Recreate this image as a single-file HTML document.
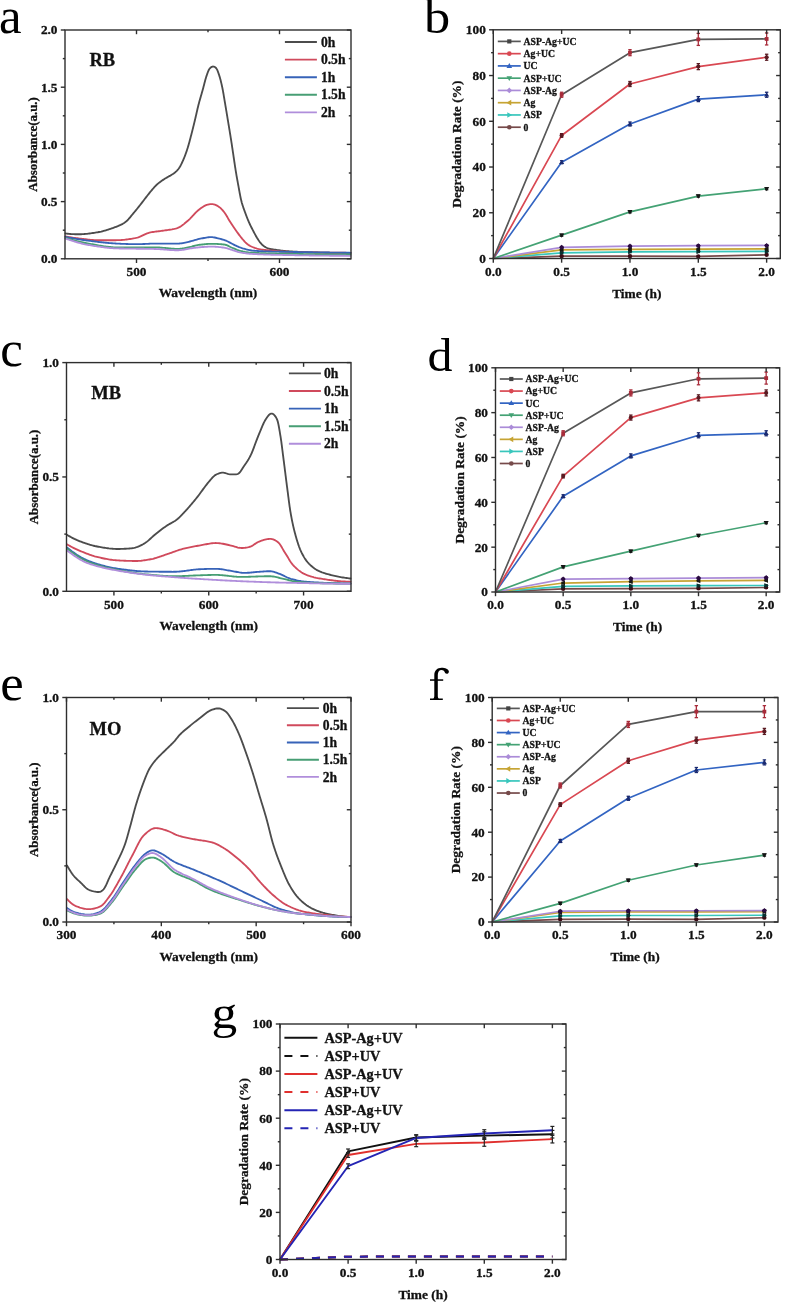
<!DOCTYPE html>
<html><head><meta charset="utf-8"><title>Figure</title>
<style>html,body{margin:0;padding:0;background:#fff;width:787px;height:1308px;overflow:hidden}
svg{display:block;font-family:"Liberation Serif",serif;filter:blur(0.35px)}</style></head>
<body><svg width="787" height="1308" viewBox="0 0 787 1308" font-family='"Liberation Serif", serif'><rect x="0" y="0" width="787" height="1308" fill="#fff"/>
<text x="0" y="0" font-size="48" fill="#000" transform="translate(-1 32.6) scale(1.06 1.05)">a</text>
<text x="0" y="0" font-size="48" fill="#000" transform="translate(424 33) scale(1.09 1)">b</text>
<text x="0" y="0" font-size="48" fill="#000" transform="translate(0.3 365.6) scale(1.06 1.05)">c</text>
<text x="0" y="0" font-size="48" fill="#000" transform="translate(427.5 370.5) scale(1.04 0.98)">d</text>
<text x="0" y="0" font-size="48" fill="#000" transform="translate(0.2 700.2) scale(1.1 1.05)">e</text>
<path fill="#000" d="M434.3 699.2L434.3 675C434.3 670.5 437.5 667.7 441.5 667.7C445 667.7 448.9 669.1 448.9 671.5C448.9 673 447.8 673.8 446.8 673.8C445.6 673.8 444.9 673 444.7 672.1C444.1 670.6 443 669.9 441.6 669.9C439.2 669.9 437.8 671.8 437.8 675L437.8 699.2Z"/>
<rect x="430" y="679.3" width="13.2" height="1.5" fill="#000"/>
<path fill="#000" d="M430 698.4L433.2 698.4C433.8 698.4 434.3 697.6 434.3 696.8L437.8 696.8C437.8 697.6 438.3 698.4 438.9 698.4L442.8 698.4L442.8 699.9L430 699.9Z"/>
<text x="0" y="0" font-size="48" fill="#000" transform="translate(211.5 1028.2) scale(1.07 0.98)">g</text>
<g>
<path d="M65.5 233.5L66.69 233.64 67.89 233.76 69.08 233.88 70.28 233.98 71.48 234.06 72.68 234.13 73.88 234.19 75.08 234.23 76.28 234.26 77.48 234.28 78.68 234.29 79.88 234.28 81.08 234.25 82.28 234.2 83.48 234.13 84.68 234.04 85.87 233.93 87.07 233.81 88.26 233.67 89.45 233.52 90.64 233.36 91.83 233.19 93.02 233.01 94.21 232.82 95.39 232.64 96.58 232.44 97.76 232.25 98.95 232.03 100.12 231.8 101.3 231.55 102.47 231.27 103.63 230.96 104.78 230.64 105.94 230.3 107.08 229.95 108.23 229.58 109.37 229.2 110.5 228.81 111.64 228.42 112.77 228.02 113.9 227.62 115.03 227.21 116.16 226.79 117.28 226.35 118.39 225.9 119.49 225.42 120.58 224.92 121.66 224.39 122.71 223.82 123.75 223.21 124.75 222.56 125.71 221.85 126.63 221.07 127.49 220.24 128.32 219.38 129.12 218.48 129.9 217.57 130.67 216.64 131.43 215.71 132.18 214.78 132.94 213.85 133.7 212.92 134.47 212 135.24 211.07 136.01 210.15 136.77 209.22 137.52 208.28 138.27 207.34 139.01 206.4 139.75 205.46 140.5 204.51 141.24 203.57 141.98 202.62 142.72 201.67 143.45 200.72 144.18 199.77 144.91 198.81 145.63 197.86 146.36 196.9 147.09 195.95 147.83 195 148.58 194.06 149.33 193.12 150.09 192.2 150.86 191.27 151.63 190.35 152.41 189.43 153.19 188.52 153.98 187.61 154.78 186.72 155.61 185.85 156.46 185 157.33 184.18 158.24 183.4 159.17 182.65 160.13 181.92 161.1 181.22 162.09 180.53 163.09 179.87 164.1 179.21 165.11 178.57 166.14 177.95 167.18 177.35 168.23 176.76 169.28 176.18 170.32 175.59 171.35 174.97 172.37 174.33 173.36 173.65 174.32 172.94 175.27 172.2 176.17 171.41 177.04 170.58 177.85 169.71 178.6 168.77 179.28 167.79 179.91 166.77 180.49 165.72 181.05 164.65 181.58 163.58 182.1 162.49 182.6 161.41 183.1 160.31 183.58 159.21 184.04 158.1 184.49 156.99 184.92 155.87 185.34 154.74 185.75 153.61 186.15 152.48 186.55 151.35 186.93 150.21 187.3 149.07 187.67 147.92 188.02 146.77 188.36 145.62 188.69 144.47 189.02 143.31 189.34 142.15 189.65 140.99 189.96 139.83 190.26 138.67 190.57 137.51 190.87 136.35 191.18 135.18 191.48 134.02 191.78 132.86 192.08 131.7 192.37 130.53 192.66 129.37 192.95 128.2 193.24 127.03 193.53 125.87 193.81 124.7 194.1 123.53 194.38 122.37 194.66 121.2 194.94 120.03 195.22 118.86 195.49 117.69 195.76 116.52 196.03 115.35 196.3 114.18 196.56 113.01 196.83 111.84 197.1 110.67 197.37 109.5 197.64 108.33 197.92 107.16 198.21 105.99 198.5 104.83 198.8 103.66 199.11 102.5 199.43 101.34 199.75 100.19 200.08 99.03 200.41 97.88 200.74 96.72 201.07 95.57 201.41 94.42 201.74 93.26 202.07 92.11 202.4 90.95 202.72 89.79 203.04 88.63 203.35 87.47 203.65 86.31 203.95 85.15 204.25 83.98 204.55 82.82 204.85 81.66 205.16 80.5 205.49 79.34 205.82 78.19 206.17 77.04 206.54 75.9 206.93 74.76 207.32 73.62 207.72 72.49 208.15 71.37 208.63 70.28 209.21 69.24 209.91 68.3 210.75 67.49 211.71 66.86 212.76 66.53 213.83 66.58 214.84 67 215.73 67.71 216.48 68.61 217.08 69.63 217.57 70.71 218 71.83 218.41 72.96 218.79 74.1 219.17 75.24 219.53 76.38 219.88 77.53 220.2 78.69 220.51 79.85 220.81 81.01 221.09 82.18 221.37 83.35 221.64 84.52 221.9 85.69 222.15 86.87 222.4 88.04 222.64 89.22 222.86 90.4 223.08 91.58 223.28 92.76 223.49 93.95 223.69 95.13 223.88 96.32 224.08 97.5 224.28 98.69 224.48 99.87 224.68 101.06 224.88 102.24 225.08 103.42 225.28 104.61 225.48 105.79 225.68 106.98 225.88 108.16 226.07 109.35 226.27 110.53 226.47 111.72 226.66 112.9 226.86 114.09 227.05 115.27 227.25 116.46 227.44 117.64 227.64 118.83 227.84 120.01 228.03 121.2 228.23 122.38 228.42 123.57 228.62 124.75 228.82 125.94 229.01 127.12 229.21 128.31 229.41 129.49 229.6 130.68 229.79 131.87 229.99 133.05 230.18 134.24 230.37 135.42 230.56 136.61 230.75 137.79 230.94 138.98 231.12 140.17 231.31 141.35 231.49 142.54 231.67 143.73 231.85 144.92 232.03 146.1 232.21 147.29 232.38 148.48 232.56 149.67 232.74 150.86 232.91 152.05 233.09 153.23 233.27 154.42 233.45 155.61 233.62 156.8 233.8 157.99 233.97 159.17 234.15 160.36 234.32 161.55 234.5 162.74 234.67 163.93 234.85 165.12 235.03 166.3 235.21 167.49 235.4 168.68 235.58 169.86 235.78 171.05 235.97 172.24 236.17 173.42 236.37 174.6 236.57 175.79 236.78 176.97 236.99 178.15 237.2 179.34 237.41 180.52 237.63 181.7 237.84 182.88 238.06 184.06 238.28 185.25 238.5 186.43 238.71 187.61 238.93 188.79 239.14 189.97 239.36 191.15 239.57 192.34 239.79 193.52 240.01 194.7 240.24 195.88 240.47 197.05 240.72 198.23 240.98 199.4 241.26 200.57 241.56 201.73 241.87 202.89 242.21 204.05 242.56 205.19 242.93 206.34 243.32 207.47 243.71 208.61 244.12 209.74 244.53 210.87 244.94 211.99 245.36 213.12 245.77 214.25 246.19 215.38 246.61 216.5 247.05 217.62 247.49 218.74 247.94 219.85 248.4 220.96 248.88 222.06 249.37 223.16 249.87 224.25 250.38 225.33 250.91 226.41 251.45 227.49 252 228.55 252.55 229.62 253.11 230.68 253.67 231.75 254.23 232.81 254.79 233.88 255.35 234.94 255.92 235.99 256.52 237.04 257.13 238.07 257.77 239.08 258.43 240.09 259.11 241.08 259.81 242.05 260.56 242.98 261.36 243.88 262.22 244.71 263.12 245.49 264.07 246.22 265.06 246.9 266.09 247.51 267.16 248.02 268.28 248.44 269.43 248.76 270.61 249.01 271.79 249.22 272.97 249.41 274.16 249.58 275.35 249.75 276.54 249.92 277.73 250.08 278.92 250.24 280.11 250.4 281.3 250.55 282.5 250.69 283.69 250.83 284.88 250.96 286.08 251.08 287.28 251.19 288.47 251.28 289.67 251.37 290.87 251.45 292.07 251.52 293.27 251.59 294.47 251.66 295.67 251.73 296.87 251.79 298.06 251.85 299.26 251.91 300.46 251.96 301.66 252.02 302.86 252.07 304.06 252.12 305.26 252.17 306.47 252.21 307.67 252.26 308.87 252.3 310.07 252.34 311.27 252.38 312.47 252.41 313.67 252.45 314.87 252.48 316.07 252.51 317.27 252.54 318.47 252.57 319.67 252.59 320.87 252.62 322.07 252.64 323.28 252.66 324.48 252.69 325.68 252.71 326.88 252.73 328.08 252.76 329.28 252.78 330.48 252.8 331.68 252.82 332.88 252.84 334.08 252.86 335.29 252.88 336.49 252.89 337.69 252.91 338.89 252.92 340.09 252.94 341.29 252.95 342.49 252.96 343.69 252.97 344.89 252.98 346.1 252.99 347.3 252.99 348.5 253 349.7 253 350.5 253" fill="none" stroke="#4c4c4c" stroke-width="1.85" stroke-linejoin="round" stroke-linecap="round"/>
<path d="M65.5 236.5L66.69 236.7 67.87 236.9 69.06 237.09 70.24 237.28 71.43 237.46 72.62 237.64 73.81 237.81 75 237.98 76.19 238.14 77.38 238.29 78.58 238.44 79.77 238.58 80.96 238.72 82.16 238.86 83.35 239.01 84.54 239.15 85.74 239.29 86.93 239.43 88.12 239.56 89.32 239.68 90.52 239.8 91.71 239.9 92.91 239.99 94.11 240.07 95.31 240.13 96.51 240.16 97.71 240.19 98.91 240.2 100.12 240.2 101.32 240.2 102.52 240.2 103.72 240.2 104.92 240.2 106.12 240.2 107.33 240.2 108.53 240.2 109.73 240.2 110.93 240.2 112.13 240.2 113.34 240.2 114.54 240.2 115.74 240.2 116.94 240.19 118.14 240.18 119.34 240.14 120.54 240.09 121.74 240.01 122.94 239.91 124.14 239.8 125.33 239.66 126.52 239.51 127.71 239.35 128.9 239.17 130.09 238.99 131.27 238.79 132.46 238.59 133.64 238.37 134.82 238.15 136 237.9 137.16 237.62 138.31 237.27 139.44 236.86 140.55 236.4 141.64 235.91 142.73 235.4 143.81 234.89 144.9 234.38 146 233.89 147.11 233.44 148.24 233.04 149.39 232.7 150.56 232.42 151.74 232.19 152.92 231.99 154.11 231.81 155.3 231.65 156.49 231.5 157.69 231.36 158.88 231.22 160.07 231.08 161.27 230.93 162.46 230.78 163.65 230.62 164.84 230.45 166.03 230.27 167.22 230.09 168.4 229.91 169.59 229.73 170.78 229.54 171.96 229.34 173.14 229.11 174.32 228.87 175.49 228.59 176.64 228.27 177.78 227.89 178.88 227.43 179.94 226.88 180.96 226.25 181.95 225.57 182.91 224.85 183.85 224.1 184.77 223.33 185.69 222.55 186.6 221.77 187.51 220.99 188.42 220.2 189.3 219.38 190.16 218.54 191 217.68 191.82 216.81 192.63 215.92 193.44 215.03 194.25 214.15 195.07 213.27 195.91 212.41 196.77 211.57 197.66 210.77 198.59 210 199.54 209.27 200.5 208.55 201.47 207.84 202.45 207.15 203.46 206.49 204.49 205.89 205.56 205.36 206.67 204.92 207.82 204.6 208.99 204.36 210.18 204.2 211.37 204.11 212.56 204.13 213.73 204.3 214.87 204.63 215.97 205.08 217.04 205.63 218.07 206.23 219.07 206.9 220.01 207.63 220.9 208.43 221.74 209.29 222.54 210.18 223.31 211.1 224.06 212.04 224.78 213.01 225.46 213.99 226.1 215.01 226.72 216.04 227.32 217.08 227.92 218.12 228.53 219.16 229.15 220.19 229.78 221.21 230.43 222.22 231.08 223.23 231.74 224.24 232.4 225.24 233.07 226.24 233.74 227.23 234.42 228.23 235.1 229.21 235.79 230.2 236.49 231.18 237.18 232.16 237.88 233.14 238.59 234.11 239.3 235.08 240.02 236.04 240.76 236.99 241.51 237.92 242.27 238.85 243.06 239.76 243.85 240.66 244.66 241.55 245.49 242.42 246.35 243.25 247.26 244.03 248.22 244.74 249.23 245.39 250.27 245.98 251.35 246.52 252.44 247.01 253.56 247.45 254.69 247.85 255.83 248.22 256.99 248.56 258.15 248.86 259.32 249.13 260.5 249.35 261.68 249.55 262.87 249.71 264.07 249.86 265.26 249.99 266.46 250.11 267.65 250.23 268.85 250.34 270.05 250.45 271.24 250.56 272.44 250.67 273.64 250.78 274.83 250.89 276.03 250.99 277.23 251.1 278.42 251.2 279.62 251.3 280.82 251.39 282.02 251.48 283.22 251.56 284.42 251.64 285.62 251.71 286.82 251.77 288.02 251.82 289.22 251.87 290.42 251.91 291.62 251.94 292.82 251.98 294.02 252.01 295.22 252.04 296.43 252.07 297.63 252.1 298.83 252.13 300.03 252.16 301.23 252.19 302.43 252.22 303.63 252.24 304.84 252.27 306.04 252.3 307.24 252.32 308.44 252.35 309.64 252.37 310.84 252.39 312.05 252.42 313.25 252.44 314.45 252.46 315.65 252.48 316.85 252.5 318.05 252.52 319.25 252.54 320.46 252.56 321.66 252.58 322.86 252.6 324.06 252.61 325.26 252.63 326.46 252.65 327.67 252.66 328.87 252.67 330.07 252.69 331.27 252.7 332.47 252.71 333.68 252.72 334.88 252.73 336.08 252.74 337.28 252.75 338.48 252.76 339.68 252.77 340.89 252.77 342.09 252.78 343.29 252.79 344.49 252.79 345.69 252.79 346.89 252.8 348.1 252.8 349.3 252.8 350.5 252.8" fill="none" stroke="#d04a5c" stroke-width="1.85" stroke-linejoin="round" stroke-linecap="round"/>
<path d="M65.5 236.9L66.68 237.13 67.86 237.35 69.05 237.57 70.23 237.79 71.41 238.01 72.6 238.22 73.78 238.43 74.97 238.63 76.15 238.84 77.34 239.04 78.53 239.23 79.71 239.42 80.9 239.61 82.09 239.79 83.28 239.97 84.47 240.14 85.66 240.31 86.86 240.47 88.05 240.63 89.24 240.78 90.43 240.93 91.63 241.08 92.82 241.23 94.02 241.38 95.21 241.53 96.4 241.68 97.6 241.82 98.79 241.97 99.99 242.11 101.18 242.24 102.38 242.38 103.57 242.51 104.77 242.63 105.97 242.75 107.17 242.87 108.36 242.98 109.56 243.08 110.76 243.18 111.96 243.27 113.16 243.36 114.36 243.44 115.56 243.51 116.76 243.57 117.96 243.63 119.17 243.69 120.37 243.75 121.57 243.8 122.77 243.85 123.97 243.9 125.18 243.95 126.38 244 127.58 244.04 128.78 244.08 129.98 244.11 131.19 244.14 132.39 244.16 133.59 244.18 134.8 244.19 136 244.19 137.2 244.19 138.4 244.17 139.61 244.14 140.81 244.11 142.01 244.06 143.21 244.01 144.42 243.96 145.62 243.91 146.82 243.85 148.02 243.8 149.22 243.75 150.43 243.7 151.63 243.66 152.83 243.64 154.03 243.62 155.24 243.61 156.44 243.6 157.64 243.6 158.85 243.6 160.05 243.6 161.25 243.6 162.45 243.6 163.66 243.6 164.86 243.6 166.06 243.6 167.27 243.6 168.47 243.6 169.67 243.6 170.88 243.6 172.08 243.6 173.28 243.6 174.49 243.6 175.69 243.6 176.89 243.59 178.09 243.58 179.29 243.52 180.49 243.43 181.68 243.28 182.87 243.09 184.05 242.86 185.23 242.61 186.4 242.34 187.57 242.06 188.74 241.79 189.91 241.51 191.08 241.22 192.24 240.91 193.4 240.58 194.55 240.23 195.7 239.88 196.85 239.55 198.02 239.23 199.18 238.94 200.36 238.69 201.54 238.45 202.72 238.22 203.9 238 205.08 237.79 206.27 237.59 207.46 237.43 208.66 237.29 209.85 237.2 211.05 237.16 212.25 237.19 213.44 237.31 214.63 237.5 215.8 237.75 216.97 238.05 218.13 238.36 219.29 238.67 220.45 238.98 221.62 239.27 222.78 239.58 223.94 239.91 225.08 240.29 226.19 240.73 227.28 241.24 228.35 241.78 229.42 242.34 230.48 242.91 231.54 243.47 232.61 244.02 233.68 244.56 234.76 245.11 235.84 245.63 236.93 246.14 238.03 246.62 239.15 247.08 240.27 247.51 241.4 247.93 242.53 248.31 243.69 248.66 244.84 248.98 246.01 249.28 247.18 249.56 248.35 249.82 249.53 250.06 250.71 250.28 251.9 250.47 253.09 250.62 254.29 250.75 255.49 250.86 256.69 250.95 257.89 251.03 259.09 251.11 260.29 251.17 261.49 251.23 262.69 251.28 263.89 251.33 265.1 251.37 266.3 251.4 267.5 251.44 268.7 251.47 269.91 251.51 271.11 251.54 272.31 251.57 273.51 251.59 274.72 251.62 275.92 251.64 277.12 251.67 278.33 251.69 279.53 251.71 280.73 251.74 281.93 251.76 283.14 251.78 284.34 251.8 285.54 251.82 286.75 251.84 287.95 251.86 289.15 251.88 290.35 251.91 291.56 251.93 292.76 251.95 293.96 251.97 295.17 251.99 296.37 252.02 297.57 252.04 298.77 252.06 299.98 252.08 301.18 252.1 302.38 252.12 303.59 252.14 304.79 252.16 305.99 252.18 307.19 252.2 308.4 252.22 309.6 252.24 310.8 252.26 312.01 252.28 313.21 252.3 314.41 252.32 315.61 252.34 316.82 252.36 318.02 252.38 319.22 252.4 320.43 252.42 321.63 252.44 322.83 252.45 324.04 252.47 325.24 252.49 326.44 252.51 327.64 252.52 328.85 252.54 330.05 252.56 331.25 252.57 332.46 252.59 333.66 252.61 334.86 252.62 336.06 252.64 337.27 252.65 338.47 252.67 339.67 252.68 340.88 252.7 342.08 252.71 343.28 252.72 344.49 252.74 345.69 252.75 346.89 252.76 348.09 252.78 349.3 252.79 350.5 252.8" fill="none" stroke="#3763b8" stroke-width="1.85" stroke-linejoin="round" stroke-linecap="round"/>
<path d="M65.5 237.9L66.65 238.24 67.81 238.58 68.96 238.91 70.12 239.24 71.27 239.56 72.43 239.88 73.59 240.2 74.75 240.51 75.92 240.81 77.08 241.11 78.25 241.4 79.42 241.68 80.59 241.95 81.76 242.22 82.93 242.48 84.11 242.73 85.28 242.97 86.46 243.2 87.64 243.42 88.83 243.64 90.01 243.85 91.19 244.06 92.37 244.28 93.56 244.49 94.74 244.71 95.92 244.93 97.1 245.14 98.29 245.35 99.47 245.55 100.66 245.76 101.84 245.95 103.03 246.14 104.22 246.32 105.41 246.48 106.6 246.64 107.79 246.79 108.99 246.92 110.18 247.04 111.38 247.14 112.58 247.23 113.78 247.3 114.98 247.35 116.18 247.38 117.38 247.39 118.58 247.4 119.78 247.4 120.99 247.4 122.19 247.4 123.39 247.4 124.59 247.4 125.79 247.4 127 247.4 128.2 247.4 129.4 247.4 130.6 247.4 131.8 247.4 133 247.4 134.21 247.4 135.41 247.4 136.61 247.4 137.81 247.4 139.01 247.4 140.22 247.4 141.42 247.4 142.62 247.4 143.82 247.4 145.02 247.4 146.22 247.4 147.43 247.4 148.63 247.4 149.83 247.4 151.03 247.4 152.23 247.4 153.44 247.4 154.64 247.4 155.84 247.42 157.04 247.44 158.24 247.48 159.44 247.54 160.64 247.62 161.84 247.71 163.04 247.8 164.23 247.91 165.43 248.02 166.63 248.14 167.82 248.25 169.02 248.37 170.22 248.47 171.41 248.58 172.61 248.67 173.81 248.74 175.01 248.81 176.21 248.85 177.41 248.87 178.61 248.85 179.81 248.79 181.01 248.67 182.19 248.51 183.38 248.3 184.56 248.07 185.73 247.82 186.91 247.56 188.08 247.31 189.25 247.05 190.43 246.8 191.6 246.55 192.77 246.27 193.94 245.99 195.11 245.71 196.28 245.44 197.46 245.19 198.64 244.96 199.82 244.78 201.01 244.61 202.21 244.47 203.4 244.34 204.6 244.22 205.79 244.1 206.99 244.01 208.19 243.93 209.39 243.87 210.59 243.83 211.79 243.82 212.99 243.82 214.19 243.84 215.39 243.88 216.6 243.93 217.8 243.99 219 244.06 220.19 244.15 221.39 244.24 222.59 244.36 223.78 244.49 224.96 244.69 226.11 244.99 227.23 245.4 228.31 245.91 229.38 246.46 230.45 247.01 231.53 247.52 232.63 248 233.74 248.47 234.85 248.93 235.97 249.37 237.09 249.8 238.22 250.19 239.37 250.55 240.52 250.88 241.69 251.16 242.86 251.43 244.04 251.67 245.22 251.9 246.4 252.1 247.59 252.28 248.78 252.43 249.98 252.55 251.18 252.64 252.37 252.72 253.57 252.79 254.77 252.85 255.98 252.92 257.18 252.97 258.38 253.02 259.58 253.07 260.78 253.12 261.98 253.16 263.18 253.2 264.38 253.24 265.58 253.28 266.78 253.31 267.99 253.34 269.19 253.37 270.39 253.4 271.59 253.43 272.79 253.45 273.99 253.48 275.19 253.5 276.4 253.53 277.6 253.55 278.8 253.58 280 253.6 281.2 253.63 282.4 253.65 283.61 253.68 284.81 253.7 286.01 253.73 287.21 253.75 288.41 253.77 289.61 253.8 290.81 253.82 292.02 253.85 293.22 253.87 294.42 253.89 295.62 253.91 296.82 253.94 298.02 253.96 299.23 253.98 300.43 254 301.63 254.02 302.83 254.04 304.03 254.06 305.23 254.08 306.44 254.1 307.64 254.12 308.84 254.14 310.04 254.16 311.24 254.18 312.44 254.19 313.65 254.21 314.85 254.23 316.05 254.25 317.25 254.26 318.45 254.28 319.65 254.29 320.86 254.31 322.06 254.32 323.26 254.34 324.46 254.35 325.66 254.36 326.86 254.37 328.07 254.39 329.27 254.4 330.47 254.41 331.67 254.42 332.87 254.43 334.08 254.44 335.28 254.45 336.48 254.45 337.68 254.46 338.88 254.47 340.08 254.47 341.29 254.48 342.49 254.48 343.69 254.49 344.89 254.49 346.09 254.49 347.3 254.5 348.5 254.5 349.7 254.5 350.5 254.5" fill="none" stroke="#479e74" stroke-width="1.85" stroke-linejoin="round" stroke-linecap="round"/>
<path d="M65.5 238.5L66.63 238.9 67.77 239.29 68.91 239.68 70.05 240.07 71.19 240.45 72.33 240.82 73.48 241.19 74.62 241.55 75.77 241.9 76.93 242.24 78.08 242.57 79.24 242.89 80.4 243.2 81.57 243.5 82.73 243.78 83.91 244.06 85.08 244.31 86.26 244.55 87.44 244.78 88.62 245 89.81 245.2 90.99 245.4 92.18 245.6 93.36 245.79 94.55 245.98 95.74 246.17 96.93 246.35 98.12 246.53 99.31 246.71 100.5 246.88 101.69 247.04 102.88 247.19 104.07 247.34 105.27 247.49 106.46 247.62 107.66 247.75 108.85 247.86 110.05 247.97 111.25 248.07 112.45 248.16 113.65 248.23 114.85 248.3 116.05 248.35 117.25 248.4 118.45 248.43 119.65 248.46 120.86 248.49 122.06 248.52 123.26 248.54 124.46 248.56 125.66 248.58 126.87 248.6 128.07 248.62 129.27 248.64 130.47 248.65 131.68 248.67 132.88 248.68 134.08 248.69 135.28 248.7 136.48 248.72 137.69 248.73 138.89 248.74 140.09 248.75 141.29 248.77 142.5 248.78 143.7 248.79 144.9 248.81 146.1 248.82 147.31 248.84 148.51 248.86 149.71 248.88 150.91 248.9 152.11 248.93 153.32 248.95 154.52 248.98 155.72 249.02 156.92 249.06 158.12 249.12 159.32 249.18 160.52 249.26 161.72 249.34 162.92 249.43 164.12 249.52 165.32 249.61 166.52 249.7 167.72 249.8 168.92 249.89 170.11 249.97 171.31 250.05 172.51 250.12 173.72 250.18 174.92 250.23 176.12 250.26 177.32 250.27 178.52 250.26 179.72 250.2 180.92 250.09 182.11 249.93 183.29 249.74 184.48 249.52 185.66 249.29 186.84 249.06 188.02 248.84 189.2 248.64 190.39 248.45 191.58 248.28 192.77 248.1 193.96 247.93 195.15 247.77 196.34 247.61 197.54 247.47 198.73 247.34 199.93 247.23 201.13 247.13 202.33 247.04 203.52 246.96 204.72 246.87 205.92 246.8 207.12 246.73 208.33 246.68 209.53 246.64 210.73 246.62 211.93 246.62 213.13 246.64 214.33 246.68 215.53 246.75 216.73 246.83 217.93 246.93 219.13 247.05 220.32 247.18 221.52 247.33 222.71 247.48 223.9 247.66 225.08 247.86 226.25 248.11 227.42 248.42 228.56 248.77 229.71 249.14 230.85 249.52 231.99 249.89 233.13 250.27 234.27 250.65 235.41 251.04 236.55 251.41 237.7 251.77 238.86 252.1 240.02 252.38 241.2 252.63 242.38 252.84 243.57 253.03 244.76 253.2 245.95 253.36 247.14 253.5 248.34 253.62 249.54 253.72 250.74 253.81 251.94 253.9 253.14 253.97 254.34 254.04 255.54 254.11 256.74 254.17 257.94 254.23 259.14 254.28 260.34 254.34 261.54 254.39 262.74 254.44 263.94 254.48 265.15 254.53 266.35 254.57 267.55 254.6 268.75 254.64 269.95 254.67 271.15 254.71 272.36 254.74 273.56 254.77 274.76 254.79 275.96 254.82 277.16 254.85 278.37 254.87 279.57 254.9 280.77 254.92 281.97 254.95 283.18 254.97 284.38 255 285.58 255.02 286.78 255.05 287.98 255.07 289.19 255.1 290.39 255.12 291.59 255.14 292.79 255.17 293.99 255.19 295.2 255.21 296.4 255.24 297.6 255.26 298.8 255.28 300 255.3 301.21 255.32 302.41 255.34 303.61 255.36 304.81 255.38 306.02 255.4 307.22 255.42 308.42 255.44 309.62 255.46 310.82 255.48 312.03 255.5 313.23 255.51 314.43 255.53 315.63 255.55 316.84 255.56 318.04 255.58 319.24 255.59 320.44 255.61 321.64 255.62 322.85 255.64 324.05 255.65 325.25 255.66 326.45 255.67 327.66 255.69 328.86 255.7 330.06 255.71 331.26 255.72 332.47 255.73 333.67 255.74 334.87 255.74 336.07 255.75 337.27 255.76 338.48 255.77 339.68 255.77 340.88 255.78 342.08 255.78 343.29 255.79 344.49 255.79 345.69 255.79 346.89 255.8 348.1 255.8 349.3 255.8 350.5 255.8" fill="none" stroke="#b08edb" stroke-width="1.85" stroke-linejoin="round" stroke-linecap="round"/>
<line x1="136.5" y1="258.8" x2="136.5" y2="263" stroke="#2e2e2e" stroke-width="1.4"/>
<line x1="136.5" y1="30" x2="136.5" y2="34.2" stroke="#2e2e2e" stroke-width="1.4"/>
<line x1="279.5" y1="258.8" x2="279.5" y2="263" stroke="#2e2e2e" stroke-width="1.4"/>
<line x1="279.5" y1="30" x2="279.5" y2="34.2" stroke="#2e2e2e" stroke-width="1.4"/>
<line x1="208" y1="258.8" x2="208" y2="261" stroke="#2e2e2e" stroke-width="1.4"/>
<line x1="208" y1="30" x2="208" y2="32.2" stroke="#2e2e2e" stroke-width="1.4"/>
<line x1="60.8" y1="258.8" x2="65" y2="258.8" stroke="#2e2e2e" stroke-width="1.4"/>
<line x1="346.8" y1="258.8" x2="351" y2="258.8" stroke="#2e2e2e" stroke-width="1.4"/>
<line x1="60.8" y1="201.6" x2="65" y2="201.6" stroke="#2e2e2e" stroke-width="1.4"/>
<line x1="346.8" y1="201.6" x2="351" y2="201.6" stroke="#2e2e2e" stroke-width="1.4"/>
<line x1="60.8" y1="144.4" x2="65" y2="144.4" stroke="#2e2e2e" stroke-width="1.4"/>
<line x1="346.8" y1="144.4" x2="351" y2="144.4" stroke="#2e2e2e" stroke-width="1.4"/>
<line x1="60.8" y1="87.2" x2="65" y2="87.2" stroke="#2e2e2e" stroke-width="1.4"/>
<line x1="346.8" y1="87.2" x2="351" y2="87.2" stroke="#2e2e2e" stroke-width="1.4"/>
<line x1="60.8" y1="30" x2="65" y2="30" stroke="#2e2e2e" stroke-width="1.4"/>
<line x1="346.8" y1="30" x2="351" y2="30" stroke="#2e2e2e" stroke-width="1.4"/>
<line x1="62.8" y1="230.2" x2="65" y2="230.2" stroke="#2e2e2e" stroke-width="1.4"/>
<line x1="348.8" y1="230.2" x2="351" y2="230.2" stroke="#2e2e2e" stroke-width="1.4"/>
<line x1="62.8" y1="173" x2="65" y2="173" stroke="#2e2e2e" stroke-width="1.4"/>
<line x1="348.8" y1="173" x2="351" y2="173" stroke="#2e2e2e" stroke-width="1.4"/>
<line x1="62.8" y1="115.8" x2="65" y2="115.8" stroke="#2e2e2e" stroke-width="1.4"/>
<line x1="348.8" y1="115.8" x2="351" y2="115.8" stroke="#2e2e2e" stroke-width="1.4"/>
<line x1="62.8" y1="58.6" x2="65" y2="58.6" stroke="#2e2e2e" stroke-width="1.4"/>
<line x1="348.8" y1="58.6" x2="351" y2="58.6" stroke="#2e2e2e" stroke-width="1.4"/>
<rect x="65" y="30" width="286" height="228.8" fill="none" stroke="#2e2e2e" stroke-width="1.4"/>
<text x="136.5" y="276.1" font-size="13.3" font-weight="bold" text-anchor="middle" fill="#111" stroke="#111" stroke-width="0.3">500</text>
<text x="279.5" y="276.1" font-size="13.3" font-weight="bold" text-anchor="middle" fill="#111" stroke="#111" stroke-width="0.3">600</text>
<text x="57.5" y="263.19" font-size="13.3" font-weight="bold" text-anchor="end" fill="#111" stroke="#111" stroke-width="0.3">0.0</text>
<text x="57.5" y="205.99" font-size="13.3" font-weight="bold" text-anchor="end" fill="#111" stroke="#111" stroke-width="0.3">0.5</text>
<text x="57.5" y="148.79" font-size="13.3" font-weight="bold" text-anchor="end" fill="#111" stroke="#111" stroke-width="0.3">1.0</text>
<text x="57.5" y="91.59" font-size="13.3" font-weight="bold" text-anchor="end" fill="#111" stroke="#111" stroke-width="0.3">1.5</text>
<text x="57.5" y="34.39" font-size="13.3" font-weight="bold" text-anchor="end" fill="#111" stroke="#111" stroke-width="0.3">2.0</text>
<text x="89.5" y="65.7" font-size="18.5" font-weight="bold" text-anchor="start" fill="#111" stroke="#111" stroke-width="0.3">RB</text>
<line x1="284.9" y1="42" x2="316.9" y2="42" stroke="#4c4c4c" stroke-width="1.9"/>
<text x="320.9" y="46.6" font-size="13.6" font-weight="bold" text-anchor="start" fill="#111" stroke="#111" stroke-width="0.3">0h</text>
<line x1="284.9" y1="59.6" x2="316.9" y2="59.6" stroke="#d04a5c" stroke-width="1.9"/>
<text x="320.9" y="64.2" font-size="13.6" font-weight="bold" text-anchor="start" fill="#111" stroke="#111" stroke-width="0.3">0.5h</text>
<line x1="284.9" y1="77.2" x2="316.9" y2="77.2" stroke="#3763b8" stroke-width="1.9"/>
<text x="320.9" y="81.8" font-size="13.6" font-weight="bold" text-anchor="start" fill="#111" stroke="#111" stroke-width="0.3">1h</text>
<line x1="284.9" y1="94.8" x2="316.9" y2="94.8" stroke="#479e74" stroke-width="1.9"/>
<text x="320.9" y="99.4" font-size="13.6" font-weight="bold" text-anchor="start" fill="#111" stroke="#111" stroke-width="0.3">1.5h</text>
<line x1="284.9" y1="112.4" x2="316.9" y2="112.4" stroke="#b08edb" stroke-width="1.9"/>
<text x="320.9" y="117" font-size="13.6" font-weight="bold" text-anchor="start" fill="#111" stroke="#111" stroke-width="0.3">2h</text>
<text x="208" y="297.3" font-size="13.4" font-weight="bold" text-anchor="middle" fill="#111" stroke="#111" stroke-width="0.3">Wavelength (nm)</text>
<text x="0" y="0" font-size="12.9" font-weight="bold" text-anchor="middle" fill="#111" stroke="#111" stroke-width="0.3" transform="translate(36.5 144.4) rotate(-90)">Absorbance(a.u.)</text>
</g>
<g>
<path d="M67 534.9L68.04 535.5 69.09 536.09 70.14 536.68 71.19 537.26 72.25 537.82 73.32 538.37 74.39 538.91 75.48 539.43 76.57 539.93 77.67 540.4 78.78 540.86 79.9 541.3 81.03 541.72 82.15 542.14 83.28 542.55 84.42 542.95 85.55 543.35 86.69 543.73 87.83 544.1 88.98 544.46 90.13 544.8 91.29 545.13 92.45 545.45 93.61 545.74 94.78 546.02 95.96 546.27 97.13 546.51 98.32 546.73 99.5 546.94 100.68 547.15 101.87 547.35 103.05 547.55 104.24 547.74 105.43 547.93 106.62 548.1 107.81 548.27 109 548.43 110.19 548.56 111.39 548.69 112.58 548.79 113.78 548.87 114.98 548.93 116.18 548.97 117.38 548.99 118.59 548.98 119.79 548.96 120.99 548.94 122.19 548.9 123.39 548.85 124.59 548.79 125.79 548.72 126.99 548.64 128.19 548.56 129.39 548.46 130.58 548.36 131.78 548.24 132.97 548.08 134.15 547.86 135.31 547.57 136.46 547.22 137.58 546.81 138.69 546.35 139.79 545.86 140.87 545.34 141.95 544.8 143.01 544.25 144.06 543.66 145.08 543.04 146.07 542.36 147.03 541.63 147.95 540.87 148.86 540.08 149.75 539.28 150.64 538.46 151.52 537.64 152.4 536.83 153.3 536.03 154.2 535.24 155.12 534.46 156.06 533.71 156.99 532.96 157.94 532.21 158.88 531.47 159.83 530.73 160.78 529.99 161.73 529.26 162.7 528.54 163.66 527.83 164.64 527.13 165.63 526.44 166.63 525.78 167.64 525.13 168.67 524.52 169.72 523.92 170.77 523.34 171.82 522.76 172.87 522.17 173.9 521.56 174.91 520.92 175.9 520.24 176.86 519.52 177.79 518.76 178.69 517.96 179.57 517.14 180.43 516.3 181.27 515.45 182.1 514.58 182.93 513.7 183.74 512.82 184.56 511.94 185.38 511.06 186.19 510.17 187 509.29 187.81 508.39 188.6 507.5 189.4 506.59 190.18 505.68 190.96 504.77 191.74 503.85 192.51 502.93 193.28 502.01 194.05 501.08 194.81 500.15 195.57 499.22 196.32 498.28 197.07 497.35 197.82 496.4 198.55 495.45 199.28 494.49 199.99 493.53 200.7 492.56 201.4 491.58 202.11 490.61 202.81 489.63 203.51 488.66 204.22 487.69 204.94 486.72 205.66 485.76 206.4 484.81 207.14 483.87 207.91 482.94 208.68 482.02 209.46 481.11 210.24 480.19 211.01 479.27 211.8 478.36 212.6 477.47 213.44 476.62 214.33 475.82 215.29 475.11 216.31 474.5 217.39 473.99 218.51 473.55 219.64 473.18 220.8 472.88 221.98 472.7 223.16 472.66 224.33 472.81 225.47 473.11 226.6 473.5 227.73 473.88 228.89 474.17 230.06 474.32 231.26 474.38 232.46 474.4 233.66 474.4 234.86 474.39 236.05 474.34 237.19 474.16 238.25 473.75 239.17 473.08 239.96 472.22 240.67 471.26 241.32 470.25 241.96 469.23 242.59 468.21 243.23 467.19 243.89 466.19 244.58 465.2 245.27 464.22 245.96 463.24 246.63 462.24 247.3 461.24 247.94 460.23 248.57 459.2 249.17 458.16 249.75 457.11 250.31 456.05 250.83 454.97 251.33 453.87 251.81 452.77 252.27 451.66 252.72 450.55 253.16 449.43 253.59 448.31 254.01 447.18 254.43 446.05 254.85 444.93 255.26 443.8 255.68 442.67 256.1 441.55 256.52 440.42 256.95 439.3 257.38 438.17 257.82 437.06 258.27 435.94 258.73 434.83 259.19 433.72 259.65 432.61 260.11 431.5 260.56 430.39 261.02 429.28 261.47 428.16 261.93 427.05 262.4 425.95 262.88 424.85 263.38 423.75 263.89 422.67 264.44 421.59 265.02 420.54 265.64 419.51 266.29 418.51 266.97 417.52 267.66 416.54 268.39 415.59 269.19 414.71 270.08 414 271.07 413.59 272.11 413.6 273.11 414.02 274 414.74 274.78 415.62 275.48 416.59 276.11 417.6 276.68 418.66 277.17 419.75 277.56 420.88 277.89 422.03 278.17 423.2 278.42 424.37 278.65 425.55 278.87 426.73 279.09 427.92 279.29 429.1 279.5 430.28 279.7 431.47 279.89 432.66 280.09 433.84 280.29 435.03 280.48 436.21 280.67 437.4 280.86 438.59 281.03 439.78 281.2 440.96 281.37 442.16 281.53 443.35 281.69 444.54 281.84 445.73 281.99 446.92 282.14 448.11 282.29 449.31 282.44 450.5 282.59 451.69 282.74 452.88 282.89 454.08 283.04 455.27 283.19 456.46 283.34 457.65 283.5 458.85 283.65 460.04 283.8 461.23 283.96 462.42 284.11 463.61 284.26 464.81 284.41 466 284.56 467.19 284.71 468.38 284.86 469.58 285.01 470.77 285.16 471.96 285.31 473.15 285.46 474.35 285.61 475.54 285.76 476.73 285.91 477.92 286.06 479.12 286.21 480.31 286.36 481.5 286.51 482.69 286.67 483.89 286.82 485.08 286.98 486.27 287.13 487.46 287.29 488.65 287.44 489.84 287.6 491.04 287.75 492.23 287.91 493.42 288.06 494.61 288.21 495.8 288.36 497 288.52 498.19 288.67 499.38 288.83 500.57 288.98 501.76 289.14 502.96 289.3 504.15 289.47 505.34 289.63 506.53 289.81 507.72 289.98 508.91 290.16 510.09 290.35 511.28 290.55 512.47 290.75 513.65 290.96 514.83 291.17 516.02 291.39 517.2 291.62 518.38 291.85 519.56 292.08 520.74 292.32 521.91 292.57 523.09 292.82 524.27 293.08 525.44 293.34 526.61 293.61 527.78 293.89 528.95 294.18 530.12 294.47 531.29 294.77 532.45 295.08 533.61 295.4 534.77 295.72 535.93 296.04 537.09 296.37 538.24 296.71 539.39 297.06 540.55 297.41 541.69 297.77 542.84 298.14 543.98 298.53 545.12 298.92 546.26 299.34 547.38 299.77 548.51 300.22 549.62 300.7 550.72 301.21 551.81 301.73 552.89 302.28 553.96 302.84 555.02 303.42 556.07 304.02 557.11 304.65 558.14 305.31 559.15 305.99 560.13 306.71 561.09 307.47 562.02 308.26 562.92 309.08 563.8 309.93 564.65 310.8 565.48 311.7 566.28 312.61 567.06 313.55 567.8 314.52 568.52 315.51 569.19 316.53 569.82 317.58 570.4 318.66 570.93 319.75 571.43 320.86 571.89 321.98 572.33 323.11 572.74 324.25 573.12 325.39 573.49 326.54 573.83 327.7 574.16 328.86 574.47 330.03 574.76 331.19 575.04 332.36 575.32 333.53 575.59 334.71 575.86 335.88 576.11 337.06 576.37 338.23 576.61 339.41 576.85 340.59 577.07 341.77 577.29 342.96 577.5 344.14 577.69 345.33 577.87 346.52 578.04 347.71 578.19 348.91 578.33 350.1 578.46 350.5 578.5" fill="none" stroke="#4c4c4c" stroke-width="1.85" stroke-linejoin="round" stroke-linecap="round"/>
<path d="M67 544.4L68.05 544.98 69.11 545.56 70.16 546.14 71.22 546.71 72.29 547.26 73.36 547.81 74.44 548.35 75.52 548.87 76.61 549.38 77.7 549.88 78.8 550.36 79.91 550.84 81.02 551.3 82.13 551.76 83.24 552.22 84.36 552.67 85.48 553.11 86.6 553.55 87.72 553.97 88.85 554.39 89.98 554.8 91.12 555.19 92.26 555.56 93.41 555.92 94.56 556.27 95.72 556.59 96.89 556.89 98.05 557.18 99.23 557.45 100.4 557.72 101.57 557.98 102.75 558.23 103.93 558.48 105.1 558.72 106.28 558.95 107.47 559.17 108.65 559.38 109.84 559.58 111.03 559.76 112.22 559.92 113.41 560.06 114.61 560.19 115.81 560.29 117.01 560.38 118.21 560.45 119.41 560.51 120.61 560.57 121.81 560.63 123.01 560.68 124.21 560.73 125.42 560.78 126.62 560.82 127.82 560.86 129.02 560.89 130.23 560.92 131.43 560.95 132.63 560.97 133.83 560.98 135.04 560.99 136.24 560.98 137.44 560.96 138.64 560.91 139.84 560.82 141.04 560.72 142.24 560.59 143.43 560.44 144.62 560.27 145.81 560.08 147 559.89 148.18 559.69 149.37 559.48 150.55 559.26 151.73 559.04 152.91 558.79 154.08 558.51 155.24 558.19 156.39 557.85 157.54 557.49 158.68 557.11 159.81 556.72 160.95 556.32 162.08 555.91 163.21 555.51 164.35 555.11 165.48 554.71 166.62 554.33 167.76 553.94 168.9 553.56 170.04 553.16 171.17 552.76 172.31 552.36 173.44 551.95 174.57 551.55 175.71 551.15 176.84 550.75 177.98 550.37 179.12 549.99 180.27 549.63 181.42 549.29 182.58 548.96 183.74 548.65 184.91 548.36 186.08 548.09 187.26 547.82 188.43 547.56 189.61 547.32 190.79 547.08 191.97 546.84 193.15 546.62 194.33 546.4 195.51 546.18 196.7 545.97 197.88 545.76 199.07 545.56 200.25 545.35 201.44 545.14 202.62 544.92 203.8 544.69 204.98 544.46 206.16 544.23 207.34 544.01 208.53 543.8 209.72 543.61 210.91 543.43 212.1 543.28 213.29 543.17 214.49 543.08 215.69 543.04 216.9 543.05 218.1 543.11 219.29 543.21 220.49 543.36 221.67 543.54 222.86 543.75 224.04 543.99 225.21 544.24 226.39 544.5 227.56 544.76 228.74 545.02 229.91 545.28 231.08 545.56 232.24 545.86 233.4 546.19 234.55 546.54 235.7 546.89 236.85 547.23 238.02 547.53 239.19 547.78 240.38 547.95 241.57 548.02 242.77 548.01 243.96 547.93 245.16 547.78 246.34 547.59 247.52 547.35 248.69 547.08 249.84 546.76 250.96 546.35 252.04 545.83 253.07 545.22 254.07 544.55 255.06 543.87 256.05 543.2 257.08 542.58 258.14 542.02 259.24 541.54 260.36 541.12 261.49 540.71 262.63 540.33 263.78 539.97 264.94 539.65 266.1 539.36 267.28 539.13 268.47 538.97 269.66 538.9 270.85 538.95 272.03 539.14 273.17 539.46 274.28 539.9 275.36 540.43 276.4 541.02 277.39 541.69 278.31 542.45 279.13 543.3 279.86 544.25 280.54 545.24 281.17 546.26 281.78 547.3 282.38 548.34 282.98 549.38 283.58 550.42 284.2 551.46 284.83 552.48 285.47 553.49 286.11 554.51 286.75 555.54 287.37 556.56 287.99 557.59 288.62 558.62 289.25 559.65 289.88 560.67 290.54 561.68 291.22 562.67 291.92 563.64 292.67 564.58 293.46 565.49 294.29 566.36 295.14 567.2 296.02 568.03 296.91 568.83 297.82 569.62 298.75 570.38 299.7 571.11 300.68 571.82 301.68 572.48 302.7 573.1 303.76 573.68 304.84 574.2 305.94 574.68 307.06 575.12 308.19 575.53 309.33 575.93 310.47 576.3 311.62 576.65 312.78 576.97 313.94 577.28 315.11 577.56 316.28 577.83 317.46 578.07 318.64 578.29 319.83 578.5 321.01 578.69 322.2 578.88 323.39 579.07 324.58 579.25 325.77 579.44 326.96 579.61 328.15 579.79 329.34 579.96 330.53 580.13 331.72 580.29 332.91 580.44 334.11 580.59 335.3 580.73 336.5 580.86 337.69 580.99 338.89 581.11 340.09 581.21 341.29 581.31 342.49 581.4 343.69 581.48 344.89 581.54 346.09 581.6 347.29 581.64 348.5 581.67 349.7 581.69 350.5 581.7" fill="none" stroke="#d04a5c" stroke-width="1.85" stroke-linejoin="round" stroke-linecap="round"/>
<path d="M67 547.6L67.95 548.33 68.91 549.06 69.87 549.78 70.84 550.5 71.8 551.22 72.78 551.92 73.76 552.62 74.74 553.31 75.74 553.99 76.73 554.66 77.74 555.31 78.76 555.95 79.78 556.58 80.82 557.2 81.86 557.79 82.92 558.37 83.98 558.92 85.06 559.45 86.15 559.96 87.26 560.44 88.37 560.89 89.49 561.32 90.62 561.74 91.75 562.15 92.88 562.55 94.02 562.94 95.16 563.32 96.31 563.69 97.45 564.05 98.6 564.4 99.76 564.74 100.91 565.08 102.07 565.4 103.23 565.71 104.4 566.01 105.56 566.3 106.73 566.59 107.9 566.86 109.08 567.12 110.25 567.36 111.43 567.6 112.61 567.83 113.8 568.04 114.98 568.24 116.17 568.44 117.36 568.62 118.55 568.8 119.74 568.97 120.93 569.14 122.12 569.31 123.31 569.47 124.5 569.64 125.69 569.79 126.89 569.95 128.08 570.1 129.27 570.25 130.47 570.39 131.66 570.52 132.86 570.65 134.05 570.77 135.25 570.88 136.45 570.99 137.65 571.09 138.85 571.17 140.05 571.25 141.25 571.32 142.45 571.38 143.65 571.43 144.85 571.47 146.05 571.5 147.26 571.53 148.46 571.55 149.66 571.57 150.86 571.59 152.07 571.61 153.27 571.63 154.47 571.65 155.67 571.66 156.88 571.68 158.08 571.69 159.28 571.71 160.48 571.72 161.69 571.73 162.89 571.75 164.09 571.76 165.29 571.76 166.5 571.77 167.7 571.78 168.9 571.79 170.1 571.79 171.31 571.79 172.51 571.8 173.71 571.79 174.91 571.78 176.12 571.75 177.32 571.7 178.52 571.62 179.71 571.53 180.91 571.42 182.11 571.29 183.3 571.14 184.49 570.99 185.69 570.83 186.88 570.66 188.07 570.5 189.26 570.33 190.45 570.16 191.64 570 192.83 569.85 194.03 569.7 195.22 569.57 196.42 569.45 197.62 569.35 198.82 569.27 200.02 569.21 201.22 569.16 202.42 569.11 203.62 569.07 204.82 569.03 206.03 568.99 207.23 568.95 208.43 568.92 209.63 568.89 210.84 568.86 212.04 568.84 213.24 568.82 214.44 568.81 215.64 568.81 216.85 568.84 218.05 568.89 219.24 568.98 220.44 569.11 221.63 569.27 222.82 569.46 224 569.66 225.19 569.87 226.37 570.09 227.55 570.3 228.74 570.51 229.92 570.71 231.11 570.9 232.3 571.1 233.48 571.32 234.66 571.54 235.84 571.77 237.02 571.99 238.21 572.2 239.39 572.4 240.58 572.57 241.78 572.71 242.97 572.8 244.17 572.86 245.38 572.87 246.58 572.84 247.78 572.78 248.98 572.71 250.18 572.61 251.37 572.5 252.57 572.39 253.77 572.27 254.96 572.15 256.16 572.03 257.36 571.93 258.56 571.84 259.76 571.75 260.96 571.67 262.16 571.58 263.36 571.5 264.56 571.42 265.76 571.35 266.96 571.29 268.16 571.25 269.36 571.24 270.56 571.28 271.75 571.4 272.92 571.62 274.08 571.92 275.23 572.29 276.36 572.69 277.49 573.11 278.61 573.53 279.74 573.96 280.85 574.42 281.95 574.9 283.03 575.42 284.11 575.95 285.19 576.48 286.27 577 287.36 577.51 288.47 577.98 289.59 578.4 290.73 578.78 291.89 579.11 293.05 579.43 294.21 579.73 295.38 580.02 296.55 580.3 297.72 580.56 298.9 580.8 300.08 581.02 301.27 581.22 302.46 581.39 303.65 581.54 304.85 581.66 306.04 581.75 307.24 581.84 308.44 581.92 309.64 582 310.84 582.08 312.04 582.16 313.24 582.23 314.44 582.3 315.65 582.37 316.85 582.44 318.05 582.5 319.25 582.57 320.45 582.63 321.65 582.69 322.85 582.74 324.05 582.8 325.25 582.85 326.46 582.9 327.66 582.95 328.86 582.99 330.06 583.03 331.26 583.08 332.46 583.11 333.67 583.15 334.87 583.18 336.07 583.21 337.27 583.24 338.48 583.27 339.68 583.29 340.88 583.32 342.08 583.33 343.28 583.35 344.49 583.37 345.69 583.38 346.89 583.39 348.09 583.39 349.3 583.4 350.5 583.4" fill="none" stroke="#3763b8" stroke-width="1.85" stroke-linejoin="round" stroke-linecap="round"/>
<path d="M67 548.6L67.96 549.33 68.92 550.05 69.88 550.78 70.84 551.49 71.81 552.2 72.79 552.9 73.77 553.6 74.76 554.29 75.75 554.96 76.75 555.63 77.76 556.28 78.77 556.93 79.8 557.55 80.83 558.17 81.88 558.76 82.93 559.34 84 559.9 85.07 560.43 86.16 560.94 87.26 561.43 88.37 561.89 89.49 562.33 90.61 562.75 91.74 563.16 92.88 563.56 94.01 563.95 95.15 564.33 96.3 564.7 97.45 565.06 98.6 565.41 99.75 565.75 100.91 566.08 102.06 566.4 103.22 566.71 104.39 567.02 105.55 567.32 106.72 567.6 107.89 567.89 109.06 568.16 110.23 568.43 111.4 568.69 112.58 568.94 113.75 569.19 114.93 569.44 116.11 569.68 117.29 569.91 118.47 570.15 119.65 570.38 120.83 570.6 122.01 570.82 123.19 571.04 124.38 571.26 125.56 571.47 126.74 571.68 127.93 571.88 129.11 572.08 130.3 572.28 131.49 572.47 132.67 572.65 133.86 572.83 135.05 573.01 136.24 573.18 137.43 573.34 138.63 573.5 139.82 573.65 141.01 573.79 142.21 573.93 143.4 574.06 144.6 574.18 145.79 574.3 146.99 574.41 148.19 574.52 149.39 574.64 150.58 574.75 151.78 574.86 152.98 574.97 154.17 575.08 155.37 575.19 156.57 575.29 157.77 575.39 158.97 575.49 160.16 575.58 161.36 575.67 162.56 575.75 163.76 575.83 164.96 575.9 166.16 575.97 167.36 576.03 168.56 576.08 169.77 576.12 170.97 576.15 172.17 576.17 173.37 576.19 174.57 576.19 175.78 576.19 176.98 576.18 178.18 576.16 179.38 576.13 180.58 576.1 181.79 576.06 182.99 576.02 184.19 575.97 185.39 575.92 186.59 575.87 187.79 575.81 188.99 575.76 190.19 575.7 191.39 575.65 192.6 575.59 193.8 575.54 195 575.48 196.2 575.43 197.4 575.39 198.6 575.35 199.8 575.31 201 575.27 202.21 575.23 203.41 575.19 204.61 575.15 205.81 575.12 207.01 575.08 208.21 575.04 209.42 575.01 210.62 574.98 211.82 574.95 213.02 574.93 214.22 574.92 215.43 574.91 216.63 574.92 217.83 574.94 219.03 574.99 220.23 575.05 221.43 575.14 222.63 575.24 223.82 575.36 225.02 575.49 226.21 575.63 227.41 575.77 228.6 575.91 229.8 576.06 230.99 576.2 232.18 576.33 233.38 576.46 234.58 576.57 235.77 576.67 236.97 576.76 238.17 576.82 239.37 576.86 240.58 576.89 241.78 576.89 242.98 576.88 244.18 576.87 245.38 576.85 246.59 576.82 247.79 576.8 248.99 576.76 250.19 576.73 251.39 576.69 252.59 576.65 253.8 576.61 255 576.57 256.2 576.53 257.4 576.48 258.6 576.44 259.8 576.4 261.01 576.37 262.21 576.33 263.41 576.3 264.61 576.27 265.81 576.25 267.02 576.23 268.22 576.22 269.42 576.22 270.62 576.25 271.82 576.32 273.01 576.46 274.19 576.65 275.37 576.89 276.54 577.16 277.71 577.45 278.87 577.74 280.04 578.03 281.21 578.31 282.38 578.58 283.55 578.86 284.72 579.14 285.89 579.43 287.05 579.72 288.22 580.02 289.38 580.31 290.55 580.6 291.72 580.87 292.9 581.11 294.08 581.33 295.27 581.52 296.46 581.68 297.65 581.81 298.85 581.93 300.05 582.04 301.24 582.15 302.44 582.25 303.64 582.35 304.84 582.45 306.04 582.53 307.24 582.62 308.44 582.7 309.64 582.77 310.84 582.84 312.04 582.9 313.24 582.96 314.44 583.02 315.64 583.06 316.84 583.11 318.04 583.15 319.25 583.18 320.45 583.21 321.65 583.24 322.85 583.26 324.05 583.29 325.25 583.31 326.46 583.34 327.66 583.36 328.86 583.38 330.06 583.4 331.27 583.42 332.47 583.44 333.67 583.46 334.87 583.48 336.07 583.5 337.28 583.51 338.48 583.53 339.68 583.54 340.88 583.55 342.08 583.56 343.29 583.57 344.49 583.58 345.69 583.59 346.89 583.59 348.1 583.6 349.3 583.6 350.5 583.6" fill="none" stroke="#479e74" stroke-width="1.85" stroke-linejoin="round" stroke-linecap="round"/>
<path d="M67 550.5L67.96 551.22 68.93 551.94 69.9 552.65 70.87 553.36 71.84 554.06 72.83 554.76 73.81 555.44 74.81 556.12 75.81 556.79 76.82 557.44 77.83 558.09 78.86 558.72 79.89 559.33 80.94 559.93 81.99 560.5 83.06 561.06 84.13 561.59 85.22 562.1 86.32 562.59 87.44 563.04 88.56 563.47 89.69 563.87 90.83 564.25 91.98 564.63 93.12 564.99 94.28 565.34 95.43 565.67 96.59 566 97.75 566.32 98.91 566.63 100.08 566.92 101.24 567.21 102.41 567.49 103.58 567.76 104.76 568.03 105.93 568.29 107.11 568.54 108.29 568.78 109.46 569.02 110.64 569.26 111.82 569.49 113.01 569.72 114.19 569.94 115.37 570.16 116.55 570.38 117.74 570.6 118.92 570.81 120.1 571.02 121.29 571.23 122.47 571.43 123.66 571.63 124.85 571.83 126.03 572.02 127.22 572.21 128.41 572.39 129.6 572.58 130.79 572.76 131.98 572.93 133.17 573.1 134.36 573.27 135.55 573.44 136.74 573.6 137.93 573.75 139.13 573.91 140.32 574.06 141.52 574.2 142.71 574.35 143.9 574.48 145.1 574.62 146.29 574.75 147.49 574.88 148.69 575 149.88 575.13 151.08 575.24 152.28 575.36 153.48 575.47 154.67 575.59 155.87 575.69 157.07 575.8 158.27 575.91 159.47 576.01 160.66 576.11 161.86 576.21 163.06 576.31 164.26 576.4 165.46 576.5 166.66 576.6 167.86 576.69 169.06 576.78 170.26 576.88 171.45 576.97 172.65 577.06 173.85 577.16 175.05 577.25 176.25 577.34 177.45 577.43 178.65 577.53 179.85 577.62 181.05 577.71 182.25 577.79 183.45 577.88 184.65 577.97 185.85 578.05 187.05 578.14 188.25 578.22 189.45 578.31 190.65 578.39 191.85 578.47 193.05 578.55 194.25 578.63 195.45 578.71 196.65 578.79 197.85 578.86 199.05 578.94 200.25 579.01 201.45 579.09 202.65 579.16 203.85 579.24 205.05 579.31 206.25 579.38 207.45 579.45 208.65 579.53 209.85 579.6 211.05 579.67 212.25 579.74 213.45 579.81 214.66 579.88 215.86 579.95 217.06 580.02 218.26 580.08 219.46 580.15 220.66 580.22 221.86 580.28 223.06 580.35 224.26 580.41 225.46 580.47 226.67 580.54 227.87 580.6 229.07 580.66 230.27 580.72 231.47 580.78 232.67 580.84 233.87 580.89 235.07 580.95 236.28 581.01 237.48 581.06 238.68 581.11 239.88 581.16 241.08 581.22 242.28 581.27 243.49 581.32 244.69 581.37 245.89 581.41 247.09 581.46 248.29 581.51 249.5 581.56 250.7 581.61 251.9 581.65 253.1 581.7 254.3 581.75 255.5 581.79 256.71 581.84 257.91 581.88 259.11 581.93 260.31 581.97 261.51 582.01 262.72 582.05 263.92 582.09 265.12 582.13 266.32 582.17 267.53 582.21 268.73 582.25 269.93 582.29 271.13 582.32 272.33 582.36 273.54 582.4 274.74 582.43 275.94 582.46 277.14 582.49 278.35 582.53 279.55 582.56 280.75 582.59 281.95 582.62 283.16 582.64 284.36 582.67 285.56 582.7 286.76 582.73 287.96 582.76 289.17 582.78 290.37 582.81 291.57 582.84 292.77 582.87 293.98 582.89 295.18 582.92 296.38 582.95 297.58 582.97 298.79 583 299.99 583.03 301.19 583.05 302.39 583.08 303.6 583.1 304.8 583.13 306 583.15 307.2 583.18 308.41 583.2 309.61 583.23 310.81 583.25 312.01 583.28 313.22 583.3 314.42 583.32 315.62 583.34 316.83 583.37 318.03 583.39 319.23 583.41 320.43 583.43 321.64 583.45 322.84 583.47 324.04 583.49 325.24 583.51 326.45 583.53 327.65 583.55 328.85 583.56 330.05 583.58 331.26 583.6 332.46 583.62 333.66 583.63 334.86 583.65 336.07 583.66 337.27 583.68 338.47 583.69 339.68 583.7 340.88 583.72 342.08 583.73 343.28 583.74 344.49 583.75 345.69 583.76 346.89 583.77 348.09 583.78 349.3 583.79 350.5 583.8" fill="none" stroke="#b08edb" stroke-width="1.85" stroke-linejoin="round" stroke-linecap="round"/>
<line x1="113.92" y1="591.3" x2="113.92" y2="595.5" stroke="#2e2e2e" stroke-width="1.4"/>
<line x1="113.92" y1="362.6" x2="113.92" y2="366.8" stroke="#2e2e2e" stroke-width="1.4"/>
<line x1="208.75" y1="591.3" x2="208.75" y2="595.5" stroke="#2e2e2e" stroke-width="1.4"/>
<line x1="208.75" y1="362.6" x2="208.75" y2="366.8" stroke="#2e2e2e" stroke-width="1.4"/>
<line x1="303.58" y1="591.3" x2="303.58" y2="595.5" stroke="#2e2e2e" stroke-width="1.4"/>
<line x1="303.58" y1="362.6" x2="303.58" y2="366.8" stroke="#2e2e2e" stroke-width="1.4"/>
<line x1="161.33" y1="591.3" x2="161.33" y2="593.5" stroke="#2e2e2e" stroke-width="1.4"/>
<line x1="161.33" y1="362.6" x2="161.33" y2="364.8" stroke="#2e2e2e" stroke-width="1.4"/>
<line x1="256.17" y1="591.3" x2="256.17" y2="593.5" stroke="#2e2e2e" stroke-width="1.4"/>
<line x1="256.17" y1="362.6" x2="256.17" y2="364.8" stroke="#2e2e2e" stroke-width="1.4"/>
<line x1="62.3" y1="591.3" x2="66.5" y2="591.3" stroke="#2e2e2e" stroke-width="1.4"/>
<line x1="346.8" y1="591.3" x2="351" y2="591.3" stroke="#2e2e2e" stroke-width="1.4"/>
<line x1="62.3" y1="476.95" x2="66.5" y2="476.95" stroke="#2e2e2e" stroke-width="1.4"/>
<line x1="346.8" y1="476.95" x2="351" y2="476.95" stroke="#2e2e2e" stroke-width="1.4"/>
<line x1="62.3" y1="362.6" x2="66.5" y2="362.6" stroke="#2e2e2e" stroke-width="1.4"/>
<line x1="346.8" y1="362.6" x2="351" y2="362.6" stroke="#2e2e2e" stroke-width="1.4"/>
<line x1="64.3" y1="534.12" x2="66.5" y2="534.12" stroke="#2e2e2e" stroke-width="1.4"/>
<line x1="348.8" y1="534.12" x2="351" y2="534.12" stroke="#2e2e2e" stroke-width="1.4"/>
<line x1="64.3" y1="419.77" x2="66.5" y2="419.77" stroke="#2e2e2e" stroke-width="1.4"/>
<line x1="348.8" y1="419.77" x2="351" y2="419.77" stroke="#2e2e2e" stroke-width="1.4"/>
<rect x="66.5" y="362.6" width="284.5" height="228.7" fill="none" stroke="#2e2e2e" stroke-width="1.4"/>
<text x="113.92" y="608.6" font-size="13.3" font-weight="bold" text-anchor="middle" fill="#111" stroke="#111" stroke-width="0.3">500</text>
<text x="208.75" y="608.6" font-size="13.3" font-weight="bold" text-anchor="middle" fill="#111" stroke="#111" stroke-width="0.3">600</text>
<text x="303.58" y="608.6" font-size="13.3" font-weight="bold" text-anchor="middle" fill="#111" stroke="#111" stroke-width="0.3">700</text>
<text x="59" y="595.69" font-size="13.3" font-weight="bold" text-anchor="end" fill="#111" stroke="#111" stroke-width="0.3">0.0</text>
<text x="59" y="481.34" font-size="13.3" font-weight="bold" text-anchor="end" fill="#111" stroke="#111" stroke-width="0.3">0.5</text>
<text x="59" y="366.99" font-size="13.3" font-weight="bold" text-anchor="end" fill="#111" stroke="#111" stroke-width="0.3">1.0</text>
<text x="91.3" y="398.8" font-size="18.5" font-weight="bold" text-anchor="start" fill="#111" stroke="#111" stroke-width="0.3">MB</text>
<line x1="288.9" y1="373.4" x2="320.9" y2="373.4" stroke="#4c4c4c" stroke-width="1.9"/>
<text x="324" y="378" font-size="13.6" font-weight="bold" text-anchor="start" fill="#111" stroke="#111" stroke-width="0.3">0h</text>
<line x1="288.9" y1="391" x2="320.9" y2="391" stroke="#d04a5c" stroke-width="1.9"/>
<text x="324" y="395.6" font-size="13.6" font-weight="bold" text-anchor="start" fill="#111" stroke="#111" stroke-width="0.3">0.5h</text>
<line x1="288.9" y1="408.6" x2="320.9" y2="408.6" stroke="#3763b8" stroke-width="1.9"/>
<text x="324" y="413.2" font-size="13.6" font-weight="bold" text-anchor="start" fill="#111" stroke="#111" stroke-width="0.3">1h</text>
<line x1="288.9" y1="426.2" x2="320.9" y2="426.2" stroke="#479e74" stroke-width="1.9"/>
<text x="324" y="430.8" font-size="13.6" font-weight="bold" text-anchor="start" fill="#111" stroke="#111" stroke-width="0.3">1.5h</text>
<line x1="288.9" y1="443.8" x2="320.9" y2="443.8" stroke="#b08edb" stroke-width="1.9"/>
<text x="324" y="448.4" font-size="13.6" font-weight="bold" text-anchor="start" fill="#111" stroke="#111" stroke-width="0.3">2h</text>
<text x="208.75" y="629.8" font-size="13.4" font-weight="bold" text-anchor="middle" fill="#111" stroke="#111" stroke-width="0.3">Wavelength (nm)</text>
<text x="0" y="0" font-size="12.9" font-weight="bold" text-anchor="middle" fill="#111" stroke="#111" stroke-width="0.3" transform="translate(37.5 476.95) rotate(-90)">Absorbance(a.u.)</text>
</g>
<g>
<path d="M67 865.4L67.58 866.45 68.18 867.5 68.78 868.54 69.39 869.57 70.02 870.59 70.66 871.6 71.33 872.6 72.02 873.58 72.74 874.55 73.49 875.48 74.27 876.39 75.08 877.28 75.92 878.14 76.77 878.99 77.65 879.81 78.53 880.63 79.41 881.44 80.29 882.26 81.16 883.09 82.01 883.93 82.85 884.8 83.68 885.66 84.52 886.52 85.38 887.36 86.27 888.16 87.22 888.88 88.24 889.5 89.31 890.01 90.43 890.43 91.57 890.79 92.73 891.1 93.9 891.37 95.08 891.6 96.26 891.81 97.45 891.97 98.63 892.03 99.77 891.9 100.85 891.52 101.84 890.91 102.74 890.14 103.57 889.28 104.3 888.34 104.94 887.34 105.52 886.29 106.05 885.21 106.55 884.12 107.03 883.02 107.5 881.91 107.98 880.81 108.46 879.71 108.95 878.61 109.46 877.53 109.98 876.44 110.52 875.37 111.06 874.29 111.6 873.22 112.14 872.15 112.68 871.08 113.22 870 113.76 868.93 114.3 867.86 114.83 866.78 115.37 865.7 115.89 864.62 116.41 863.54 116.93 862.46 117.45 861.37 117.97 860.29 118.49 859.21 119.01 858.12 119.53 857.04 120.05 855.96 120.56 854.87 121.07 853.78 121.57 852.69 122.06 851.59 122.53 850.49 123 849.38 123.46 848.27 123.9 847.16 124.33 846.03 124.75 844.91 125.15 843.77 125.53 842.64 125.9 841.49 126.25 840.35 126.6 839.19 126.93 838.04 127.26 836.89 127.59 835.73 127.91 834.57 128.23 833.41 128.55 832.26 128.87 831.1 129.19 829.94 129.51 828.78 129.83 827.62 130.15 826.47 130.47 825.31 130.78 824.15 131.09 822.99 131.4 821.83 131.71 820.67 132.01 819.5 132.32 818.34 132.62 817.18 132.92 816.02 133.23 814.85 133.53 813.69 133.84 812.53 134.15 811.37 134.46 810.21 134.78 809.05 135.11 807.9 135.43 806.74 135.77 805.59 136.11 804.44 136.46 803.29 136.82 802.14 137.17 800.99 137.53 799.84 137.89 798.7 138.26 797.55 138.63 796.41 139 795.27 139.38 794.13 139.76 792.99 140.15 791.85 140.54 790.72 140.94 789.58 141.34 788.45 141.75 787.32 142.16 786.19 142.58 785.07 143 783.94 143.42 782.82 143.85 781.69 144.28 780.57 144.71 779.45 145.14 778.33 145.58 777.21 146.03 776.1 146.49 774.99 146.95 773.88 147.43 772.78 147.93 771.68 148.45 770.6 149 769.53 149.57 768.48 150.18 767.45 150.82 766.43 151.49 765.43 152.18 764.45 152.9 763.49 153.63 762.54 154.39 761.6 155.16 760.68 155.94 759.77 156.73 758.87 157.54 757.97 158.36 757.1 159.19 756.23 160.04 755.38 160.89 754.54 161.76 753.7 162.63 752.87 163.49 752.04 164.36 751.21 165.22 750.37 166.08 749.53 166.94 748.69 167.8 747.85 168.66 747.02 169.53 746.18 170.39 745.35 171.24 744.5 172.09 743.65 172.93 742.79 173.76 741.92 174.57 741.03 175.35 740.13 176.11 739.2 176.86 738.25 177.6 737.31 178.35 736.38 179.13 735.46 179.95 734.58 180.79 733.73 181.66 732.9 182.54 732.09 183.45 731.29 184.36 730.51 185.28 729.74 186.2 728.97 187.13 728.21 188.06 727.45 188.98 726.68 189.91 725.92 190.84 725.15 191.77 724.39 192.7 723.64 193.64 722.89 194.58 722.14 195.53 721.4 196.47 720.66 197.43 719.93 198.38 719.2 199.34 718.47 200.29 717.74 201.24 717 202.18 716.26 203.11 715.5 204.04 714.74 204.98 713.99 205.93 713.25 206.89 712.53 207.87 711.85 208.89 711.21 209.94 710.64 211.03 710.14 212.15 709.71 213.29 709.33 214.44 709 215.6 708.71 216.78 708.51 217.96 708.43 219.15 708.49 220.31 708.71 221.44 709.07 222.54 709.55 223.6 710.1 224.62 710.72 225.59 711.41 226.49 712.19 227.31 713.06 228.06 713.99 228.77 714.96 229.44 715.96 230.09 716.97 230.73 717.98 231.36 719.01 231.99 720.03 232.6 721.06 233.2 722.1 233.79 723.15 234.35 724.21 234.9 725.28 235.43 726.36 235.96 727.44 236.47 728.52 236.98 729.61 237.48 730.71 237.97 731.8 238.46 732.9 238.94 734 239.41 735.11 239.87 736.22 240.32 737.33 240.76 738.44 241.2 739.56 241.63 740.69 242.05 741.81 242.47 742.94 242.88 744.06 243.3 745.19 243.7 746.32 244.11 747.45 244.51 748.59 244.92 749.72 245.32 750.85 245.72 751.98 246.12 753.11 246.52 754.25 246.92 755.38 247.31 756.52 247.7 757.65 248.09 758.79 248.48 759.92 248.87 761.06 249.25 762.2 249.63 763.34 250.01 764.48 250.38 765.62 250.76 766.76 251.13 767.91 251.5 769.05 251.87 770.19 252.23 771.34 252.6 772.48 252.96 773.63 253.32 774.78 253.67 775.92 254.02 777.07 254.37 778.22 254.71 779.37 255.06 780.52 255.4 781.68 255.74 782.83 256.08 783.98 256.42 785.13 256.76 786.29 257.09 787.44 257.43 788.59 257.77 789.74 258.11 790.9 258.45 792.05 258.79 793.2 259.13 794.35 259.47 795.5 259.82 796.65 260.17 797.8 260.52 798.95 260.87 800.1 261.22 801.25 261.57 802.4 261.93 803.55 262.28 804.7 262.63 805.84 262.99 806.99 263.34 808.14 263.69 809.29 264.04 810.44 264.38 811.59 264.73 812.74 265.07 813.89 265.41 815.05 265.74 816.2 266.07 817.35 266.4 818.51 266.72 819.67 267.03 820.83 267.34 821.99 267.65 823.15 267.95 824.31 268.24 825.48 268.53 826.64 268.83 827.81 269.12 828.98 269.41 830.14 269.7 831.31 269.99 832.47 270.28 833.64 270.57 834.8 270.87 835.97 271.17 837.13 271.47 838.29 271.79 839.45 272.1 840.61 272.43 841.77 272.76 842.92 273.11 844.07 273.46 845.22 273.82 846.37 274.19 847.51 274.57 848.65 274.95 849.79 275.33 850.93 275.73 852.06 276.12 853.2 276.52 854.33 276.93 855.46 277.34 856.59 277.76 857.71 278.19 858.84 278.61 859.96 279.04 861.08 279.48 862.2 279.92 863.32 280.36 864.44 280.8 865.55 281.25 866.67 281.7 867.78 282.14 868.9 282.59 870.01 283.04 871.13 283.49 872.24 283.95 873.35 284.41 874.46 284.87 875.57 285.34 876.68 285.82 877.78 286.31 878.88 286.81 879.97 287.32 881.06 287.85 882.14 288.39 883.21 288.96 884.27 289.54 885.31 290.14 886.35 290.76 887.39 291.38 888.41 292.02 889.43 292.67 890.44 293.33 891.44 294.01 892.44 294.7 893.42 295.41 894.39 296.14 895.34 296.89 896.28 297.67 897.19 298.47 898.09 299.29 898.96 300.15 899.8 301.02 900.63 301.9 901.44 302.8 902.23 303.72 903.01 304.66 903.76 305.61 904.5 306.57 905.21 307.56 905.89 308.57 906.55 309.59 907.17 310.64 907.76 311.7 908.32 312.78 908.85 313.87 909.36 314.96 909.85 316.07 910.32 317.18 910.77 318.3 911.2 319.43 911.61 320.57 912 321.71 912.36 322.86 912.7 324.02 913.01 325.19 913.3 326.36 913.57 327.53 913.82 328.71 914.07 329.89 914.31 331.06 914.56 332.24 914.79 333.42 915.02 334.6 915.24 335.78 915.46 336.97 915.66 338.15 915.86 339.34 916.04 340.53 916.21 341.72 916.37 342.91 916.51 344.11 916.64 345.3 916.75 346.5 916.83 347.7 916.9 348.9 916.95 350.1 916.99 350.5 917" fill="none" stroke="#4c4c4c" stroke-width="1.85" stroke-linejoin="round" stroke-linecap="round"/>
<path d="M67 899.1L67.84 899.96 68.69 900.81 69.55 901.64 70.43 902.46 71.34 903.24 72.28 903.99 73.26 904.67 74.29 905.28 75.37 905.81 76.47 906.28 77.59 906.72 78.71 907.13 79.85 907.52 80.99 907.88 82.15 908.21 83.31 908.5 84.49 908.75 85.67 908.94 86.86 909.07 88.06 909.14 89.26 909.14 90.46 909.07 91.65 908.94 92.83 908.75 94.01 908.51 95.18 908.23 96.33 907.91 97.48 907.56 98.61 907.17 99.72 906.72 100.78 906.18 101.78 905.53 102.7 904.77 103.55 903.94 104.36 903.05 105.13 902.13 105.88 901.19 106.61 900.23 107.32 899.27 108.04 898.3 108.75 897.34 109.47 896.37 110.17 895.4 110.87 894.42 111.55 893.43 112.21 892.43 112.86 891.42 113.49 890.4 114.11 889.37 114.73 888.34 115.34 887.3 115.94 886.26 116.53 885.21 117.12 884.17 117.71 883.12 118.29 882.07 118.88 881.02 119.46 879.97 120.04 878.92 120.63 877.87 121.21 876.82 121.79 875.76 122.36 874.71 122.92 873.65 123.49 872.59 124.04 871.52 124.59 870.45 125.14 869.38 125.69 868.31 126.23 867.24 126.77 866.17 127.32 865.1 127.86 864.03 128.4 862.95 128.95 861.88 129.5 860.81 130.05 859.75 130.6 858.68 131.16 857.62 131.72 856.56 132.29 855.5 132.86 854.44 133.41 853.37 133.96 852.3 134.51 851.23 135.04 850.16 135.58 849.08 136.11 848.01 136.65 846.93 137.19 845.86 137.73 844.78 138.28 843.72 138.84 842.66 139.42 841.6 140.02 840.56 140.63 839.53 141.28 838.52 141.97 837.54 142.71 836.59 143.5 835.69 144.33 834.83 145.2 834.01 146.09 833.2 146.99 832.4 147.91 831.63 148.85 830.89 149.83 830.18 150.84 829.55 151.89 828.99 153 828.55 154.14 828.26 155.32 828.12 156.51 828.12 157.7 828.22 158.88 828.4 160.06 828.64 161.23 828.92 162.39 829.23 163.54 829.56 164.7 829.9 165.84 830.25 166.98 830.63 168.11 831.03 169.22 831.49 170.32 831.98 171.4 832.5 172.47 833.04 173.55 833.58 174.63 834.11 175.72 834.61 176.83 835.06 177.95 835.48 179.1 835.85 180.25 836.18 181.41 836.5 182.57 836.79 183.74 837.08 184.91 837.35 186.08 837.61 187.26 837.86 188.43 838.1 189.61 838.34 190.79 838.58 191.97 838.81 193.15 839.04 194.33 839.27 195.51 839.48 196.7 839.68 197.88 839.87 199.07 840.05 200.26 840.22 201.45 840.39 202.64 840.57 203.82 840.75 205.01 840.93 206.2 841.13 207.38 841.34 208.56 841.57 209.73 841.82 210.9 842.09 212.06 842.4 213.21 842.75 214.34 843.15 215.45 843.6 216.55 844.09 217.63 844.62 218.69 845.18 219.74 845.76 220.79 846.35 221.82 846.96 222.85 847.58 223.88 848.2 224.91 848.83 225.92 849.47 226.92 850.14 227.91 850.82 228.89 851.52 229.85 852.23 230.81 852.96 231.76 853.69 232.7 854.44 233.64 855.19 234.57 855.94 235.5 856.7 236.43 857.47 237.36 858.23 238.28 859.01 239.19 859.79 240.1 860.57 241 861.37 241.9 862.17 242.78 862.98 243.67 863.79 244.54 864.62 245.41 865.44 246.27 866.28 247.13 867.12 247.98 867.98 248.82 868.84 249.64 869.71 250.45 870.59 251.25 871.49 252.04 872.4 252.82 873.32 253.59 874.24 254.35 875.16 255.12 876.09 255.88 877.02 256.64 877.95 257.41 878.87 258.19 879.79 258.97 880.7 259.76 881.61 260.56 882.5 261.37 883.39 262.19 884.27 263.01 885.15 263.83 886.02 264.66 886.89 265.49 887.76 266.32 888.63 267.16 889.48 268.01 890.34 268.87 891.18 269.73 892.02 270.6 892.84 271.48 893.66 272.38 894.46 273.28 895.26 274.19 896.04 275.1 896.82 276.02 897.6 276.94 898.37 277.87 899.13 278.81 899.88 279.76 900.62 280.72 901.34 281.69 902.04 282.68 902.72 283.69 903.37 284.72 903.99 285.77 904.58 286.82 905.15 287.89 905.7 288.96 906.24 290.04 906.77 291.13 907.29 292.22 907.78 293.32 908.26 294.43 908.73 295.55 909.17 296.67 909.58 297.81 909.98 298.95 910.35 300.1 910.68 301.26 911 302.43 911.28 303.6 911.55 304.77 911.81 305.95 912.05 307.13 912.29 308.31 912.51 309.49 912.72 310.68 912.93 311.86 913.12 313.05 913.31 314.24 913.49 315.43 913.66 316.62 913.82 317.81 913.98 319 914.13 320.19 914.28 321.38 914.42 322.58 914.57 323.77 914.7 324.96 914.84 326.16 914.98 327.35 915.11 328.55 915.24 329.74 915.37 330.94 915.49 332.13 915.62 333.33 915.74 334.52 915.85 335.72 915.97 336.92 916.08 338.11 916.18 339.31 916.28 340.51 916.38 341.71 916.47 342.9 916.56 344.1 916.64 345.3 916.72 346.5 916.79 347.7 916.86 348.9 916.92 350.1 916.98 350.5 917" fill="none" stroke="#d04a5c" stroke-width="1.85" stroke-linejoin="round" stroke-linecap="round"/>
<path d="M67 908L68 908.66 69.01 909.32 70.03 909.95 71.07 910.56 72.13 911.12 73.22 911.62 74.33 912.06 75.47 912.44 76.63 912.77 77.79 913.07 78.96 913.36 80.13 913.62 81.31 913.87 82.49 914.09 83.68 914.28 84.87 914.44 86.06 914.56 87.26 914.63 88.46 914.65 89.66 914.61 90.86 914.5 92.04 914.33 93.22 914.09 94.39 913.81 95.54 913.48 96.69 913.11 97.82 912.71 98.94 912.28 100.04 911.8 101.09 911.24 102.09 910.58 103.03 909.84 103.92 909.04 104.76 908.18 105.58 907.3 106.37 906.39 107.14 905.47 107.89 904.54 108.64 903.6 109.39 902.65 110.13 901.71 110.88 900.77 111.63 899.83 112.36 898.87 113.08 897.91 113.79 896.94 114.47 895.95 115.15 894.95 115.81 893.95 116.46 892.94 117.11 891.93 117.76 890.91 118.4 889.9 119.04 888.88 119.68 887.86 120.32 886.85 120.97 885.83 121.63 884.82 122.29 883.82 122.96 882.82 123.63 881.82 124.3 880.82 124.97 879.82 125.63 878.82 126.3 877.82 126.96 876.82 127.63 875.82 128.3 874.82 128.97 873.82 129.64 872.82 130.32 871.83 131 870.84 131.68 869.85 132.38 868.87 133.08 867.89 133.79 866.92 134.52 865.96 135.25 865.01 135.99 864.07 136.75 863.13 137.5 862.19 138.25 861.25 139.01 860.32 139.78 859.39 140.55 858.48 141.34 857.57 142.16 856.69 143 855.83 143.87 855 144.78 854.22 145.73 853.49 146.71 852.79 147.71 852.12 148.73 851.49 149.79 850.95 150.89 850.54 152.04 850.32 153.21 850.31 154.38 850.5 155.52 850.83 156.63 851.27 157.72 851.77 158.8 852.3 159.88 852.84 160.95 853.39 162.01 853.95 163.06 854.54 164.08 855.16 165.09 855.81 166.09 856.48 167.08 857.17 168.07 857.86 169.05 858.54 170.04 859.23 171.04 859.89 172.06 860.54 173.09 861.15 174.14 861.73 175.21 862.28 176.3 862.8 177.39 863.3 178.49 863.78 179.6 864.25 180.71 864.7 181.83 865.15 182.95 865.59 184.07 866.02 185.19 866.44 186.32 866.87 187.45 867.29 188.57 867.71 189.7 868.14 190.82 868.57 191.94 869.01 193.05 869.46 194.16 869.92 195.28 870.38 196.39 870.84 197.5 871.29 198.61 871.75 199.72 872.21 200.83 872.67 201.94 873.13 203.05 873.6 204.16 874.06 205.27 874.52 206.38 874.99 207.49 875.45 208.6 875.92 209.71 876.39 210.81 876.86 211.92 877.33 213.02 877.81 214.13 878.28 215.23 878.76 216.33 879.24 217.43 879.73 218.53 880.21 219.63 880.7 220.73 881.2 221.82 881.69 222.92 882.2 224.01 882.7 225.1 883.21 226.18 883.72 227.27 884.24 228.36 884.76 229.44 885.28 230.52 885.8 231.61 886.32 232.69 886.85 233.77 887.37 234.85 887.89 235.94 888.42 237.02 888.94 238.1 889.46 239.19 889.98 240.27 890.5 241.36 891.01 242.45 891.53 243.53 892.05 244.62 892.56 245.7 893.08 246.79 893.6 247.87 894.12 248.96 894.63 250.04 895.15 251.13 895.67 252.22 896.18 253.3 896.7 254.39 897.21 255.48 897.73 256.57 898.24 257.66 898.75 258.75 899.26 259.84 899.76 260.93 900.27 262.02 900.78 263.1 901.3 264.18 901.82 265.26 902.35 266.34 902.89 267.42 903.42 268.49 903.96 269.57 904.49 270.65 905.02 271.74 905.54 272.82 906.05 273.92 906.55 275.02 907.04 276.12 907.51 277.24 907.96 278.36 908.39 279.49 908.79 280.63 909.17 281.78 909.53 282.93 909.87 284.09 910.21 285.25 910.53 286.41 910.85 287.57 911.16 288.73 911.46 289.9 911.75 291.07 912.03 292.24 912.3 293.41 912.56 294.59 912.8 295.77 913.03 296.96 913.24 298.14 913.43 299.33 913.6 300.52 913.76 301.72 913.9 302.91 914.04 304.11 914.16 305.31 914.29 306.5 914.41 307.7 914.53 308.9 914.65 310.09 914.77 311.29 914.88 312.49 914.99 313.68 915.1 314.88 915.21 316.08 915.32 317.28 915.42 318.48 915.52 319.67 915.62 320.87 915.72 322.07 915.81 323.27 915.9 324.47 915.99 325.67 916.07 326.87 916.16 328.07 916.23 329.27 916.31 330.47 916.38 331.67 916.45 332.87 916.51 334.07 916.57 335.27 916.63 336.48 916.68 337.68 916.73 338.88 916.78 340.08 916.82 341.28 916.86 342.48 916.89 343.69 916.92 344.89 916.94 346.09 916.96 347.29 916.98 348.5 916.99 349.7 917 350.5 917" fill="none" stroke="#3763b8" stroke-width="1.85" stroke-linejoin="round" stroke-linecap="round"/>
<path d="M67 910.5L68.09 911.02 69.18 911.52 70.28 912 71.4 912.45 72.52 912.87 73.66 913.27 74.8 913.64 75.96 913.97 77.12 914.28 78.29 914.56 79.46 914.8 80.65 915.02 81.83 915.2 83.03 915.36 84.22 915.48 85.42 915.57 86.62 915.64 87.82 915.67 89.03 915.66 90.23 915.61 91.42 915.52 92.62 915.39 93.81 915.21 94.99 915 96.17 914.76 97.34 914.48 98.5 914.18 99.65 913.83 100.76 913.4 101.82 912.85 102.81 912.2 103.75 911.45 104.64 910.65 105.49 909.8 106.32 908.93 107.12 908.03 107.91 907.12 108.69 906.21 109.46 905.29 110.24 904.37 111.02 903.45 111.79 902.53 112.56 901.61 113.3 900.66 114.03 899.7 114.74 898.73 115.43 897.75 116.11 896.76 116.79 895.76 117.46 894.76 118.13 893.76 118.79 892.76 119.45 891.76 120.12 890.76 120.79 889.76 121.47 888.76 122.15 887.77 122.84 886.79 123.54 885.81 124.23 884.82 124.92 883.84 125.61 882.85 126.3 881.87 126.99 880.88 127.68 879.89 128.37 878.91 129.06 877.93 129.76 876.94 130.46 875.97 131.16 874.99 131.88 874.03 132.6 873.06 133.33 872.11 134.08 871.17 134.83 870.23 135.6 869.31 136.38 868.39 137.16 867.47 137.94 866.55 138.71 865.63 139.49 864.71 140.27 863.81 141.08 862.91 141.91 862.05 142.79 861.23 143.71 860.47 144.69 859.79 145.74 859.22 146.84 858.74 147.96 858.33 149.11 857.98 150.28 857.72 151.46 857.56 152.65 857.55 153.82 857.69 154.97 857.98 156.09 858.4 157.18 858.9 158.25 859.46 159.3 860.04 160.34 860.64 161.36 861.27 162.36 861.93 163.33 862.65 164.25 863.41 165.15 864.2 166.03 865.02 166.9 865.86 167.76 866.7 168.62 867.54 169.48 868.38 170.36 869.2 171.26 870 172.18 870.77 173.13 871.5 174.13 872.17 175.16 872.79 176.21 873.37 177.28 873.91 178.36 874.43 179.46 874.93 180.56 875.4 181.68 875.86 182.79 876.31 183.92 876.74 185.04 877.17 186.16 877.6 187.29 878.03 188.41 878.47 189.52 878.91 190.64 879.37 191.74 879.85 192.83 880.35 193.92 880.87 194.99 881.42 196.05 881.98 197.11 882.56 198.15 883.15 199.2 883.74 200.24 884.35 201.28 884.95 202.32 885.56 203.36 886.16 204.41 886.75 205.46 887.33 206.52 887.9 207.59 888.45 208.67 888.97 209.76 889.48 210.87 889.96 211.97 890.43 213.09 890.89 214.2 891.34 215.32 891.78 216.44 892.21 217.57 892.64 218.7 893.05 219.83 893.46 220.96 893.87 222.09 894.27 223.23 894.66 224.37 895.05 225.51 895.43 226.65 895.81 227.79 896.19 228.94 896.56 230.08 896.93 231.23 897.29 232.37 897.66 233.52 898.02 234.67 898.39 235.81 898.75 236.96 899.11 238.11 899.47 239.25 899.84 240.4 900.2 241.55 900.57 242.69 900.94 243.84 901.3 244.98 901.67 246.13 902.03 247.28 902.39 248.43 902.75 249.57 903.11 250.72 903.46 251.88 903.81 253.03 904.15 254.18 904.5 255.34 904.83 256.49 905.16 257.65 905.49 258.81 905.81 259.97 906.12 261.13 906.43 262.3 906.74 263.46 907.04 264.63 907.34 265.79 907.64 266.96 907.94 268.12 908.23 269.29 908.52 270.46 908.8 271.63 909.08 272.8 909.36 273.97 909.62 275.15 909.88 276.32 910.13 277.5 910.38 278.68 910.61 279.86 910.83 281.05 911.05 282.23 911.26 283.42 911.46 284.61 911.65 285.79 911.85 286.98 912.04 288.17 912.22 289.36 912.4 290.55 912.57 291.74 912.74 292.93 912.91 294.12 913.06 295.32 913.21 296.51 913.36 297.71 913.5 298.9 913.63 300.1 913.75 301.3 913.87 302.49 913.98 303.69 914.09 304.89 914.2 306.09 914.31 307.29 914.42 308.48 914.52 309.68 914.63 310.88 914.73 312.08 914.84 313.28 914.94 314.48 915.04 315.67 915.14 316.87 915.24 318.07 915.34 319.27 915.44 320.47 915.53 321.67 915.62 322.87 915.71 324.07 915.8 325.27 915.89 326.47 915.97 327.67 916.05 328.87 916.13 330.07 916.21 331.27 916.28 332.47 916.35 333.67 916.42 334.87 916.48 336.07 916.54 337.28 916.6 338.48 916.66 339.68 916.71 340.88 916.76 342.08 916.8 343.28 916.84 344.49 916.88 345.69 916.91 346.89 916.94 348.09 916.96 349.3 916.98 350.5 917" fill="none" stroke="#479e74" stroke-width="1.85" stroke-linejoin="round" stroke-linecap="round"/>
<path d="M67 909.6L68.06 910.16 69.13 910.71 70.21 911.24 71.31 911.73 72.42 912.2 73.54 912.63 74.67 913.03 75.82 913.4 76.97 913.74 78.13 914.04 79.31 914.31 80.48 914.55 81.67 914.75 82.86 914.92 84.05 915.05 85.25 915.16 86.45 915.23 87.65 915.26 88.85 915.26 90.05 915.21 91.25 915.1 92.44 914.94 93.62 914.73 94.8 914.48 95.97 914.2 97.13 913.88 98.28 913.53 99.41 913.14 100.52 912.68 101.57 912.12 102.56 911.46 103.49 910.71 104.38 909.9 105.22 909.05 106.04 908.17 106.83 907.26 107.61 906.34 108.38 905.42 109.14 904.48 109.9 903.55 110.66 902.62 111.42 901.69 112.17 900.75 112.91 899.8 113.63 898.84 114.33 897.86 115.01 896.87 115.69 895.88 116.35 894.87 117.01 893.87 117.66 892.86 118.31 891.84 118.96 890.83 119.61 889.82 120.26 888.8 120.91 887.79 121.57 886.79 122.24 885.79 122.91 884.79 123.58 883.79 124.26 882.8 124.93 881.8 125.6 880.8 126.26 879.8 126.93 878.8 127.6 877.79 128.26 876.79 128.93 875.79 129.6 874.79 130.28 873.8 130.96 872.81 131.65 871.82 132.34 870.84 133.04 869.86 133.75 868.89 134.47 867.92 135.2 866.97 135.95 866.02 136.69 865.08 137.44 864.14 138.19 863.2 138.93 862.25 139.68 861.31 140.44 860.38 141.22 859.46 142.02 858.57 142.86 857.71 143.74 856.89 144.67 856.14 145.66 855.46 146.69 854.85 147.75 854.29 148.84 853.79 149.96 853.37 151.11 853.09 152.28 852.98 153.44 853.08 154.58 853.38 155.68 853.83 156.74 854.39 157.76 855.02 158.76 855.68 159.76 856.36 160.74 857.05 161.72 857.75 162.66 858.49 163.58 859.27 164.46 860.08 165.32 860.92 166.17 861.78 167 862.64 167.83 863.51 168.66 864.39 169.5 865.25 170.35 866.1 171.21 866.94 172.1 867.75 173.02 868.52 173.98 869.25 174.96 869.93 175.98 870.57 177.01 871.19 178.06 871.78 179.12 872.35 180.18 872.9 181.26 873.44 182.35 873.96 183.44 874.47 184.53 874.97 185.63 875.46 186.72 875.96 187.82 876.45 188.91 876.95 190.01 877.45 191.09 877.97 192.17 878.49 193.25 879.04 194.32 879.59 195.38 880.16 196.43 880.73 197.49 881.31 198.54 881.9 199.59 882.49 200.63 883.08 201.68 883.67 202.73 884.25 203.79 884.83 204.85 885.41 205.91 885.97 206.98 886.52 208.05 887.06 209.14 887.58 210.23 888.09 211.32 888.59 212.42 889.08 213.52 889.56 214.63 890.03 215.73 890.5 216.84 890.97 217.96 891.42 219.07 891.88 220.19 892.32 221.31 892.77 222.43 893.2 223.55 893.64 224.67 894.07 225.8 894.49 226.93 894.91 228.05 895.33 229.18 895.74 230.31 896.15 231.45 896.56 232.58 896.97 233.71 897.37 234.85 897.77 235.98 898.16 237.12 898.56 238.25 898.96 239.39 899.35 240.53 899.74 241.67 900.13 242.8 900.52 243.94 900.9 245.08 901.29 246.23 901.67 247.37 902.05 248.51 902.42 249.65 902.79 250.8 903.16 251.95 903.52 253.1 903.88 254.25 904.24 255.4 904.58 256.55 904.93 257.7 905.27 258.86 905.6 260.02 905.92 261.18 906.25 262.34 906.56 263.5 906.88 264.66 907.2 265.82 907.51 266.98 907.82 268.15 908.12 269.31 908.43 270.47 908.72 271.64 909.02 272.81 909.3 273.98 909.58 275.15 909.85 276.33 910.11 277.5 910.36 278.68 910.6 279.86 910.83 281.05 911.05 282.23 911.26 283.42 911.46 284.6 911.66 285.79 911.85 286.98 912.04 288.17 912.23 289.36 912.41 290.55 912.58 291.74 912.75 292.93 912.91 294.12 913.07 295.32 913.22 296.51 913.36 297.7 913.5 298.9 913.63 300.1 913.75 301.29 913.87 302.49 913.98 303.69 914.09 304.89 914.2 306.09 914.31 307.28 914.42 308.48 914.52 309.68 914.63 310.88 914.73 312.08 914.84 313.28 914.94 314.47 915.04 315.67 915.14 316.87 915.24 318.07 915.34 319.27 915.44 320.47 915.53 321.67 915.62 322.87 915.71 324.07 915.8 325.27 915.89 326.47 915.97 327.67 916.05 328.87 916.13 330.07 916.21 331.27 916.28 332.47 916.35 333.67 916.42 334.87 916.48 336.07 916.54 337.27 916.6 338.48 916.66 339.68 916.71 340.88 916.76 342.08 916.8 343.28 916.84 344.49 916.88 345.69 916.91 346.89 916.94 348.09 916.96 349.3 916.98 350.5 917" fill="none" stroke="#b08edb" stroke-width="1.85" stroke-linejoin="round" stroke-linecap="round"/>
<line x1="66.5" y1="922" x2="66.5" y2="926.2" stroke="#2e2e2e" stroke-width="1.4"/>
<line x1="66.5" y1="697.5" x2="66.5" y2="701.7" stroke="#2e2e2e" stroke-width="1.4"/>
<line x1="161.33" y1="922" x2="161.33" y2="926.2" stroke="#2e2e2e" stroke-width="1.4"/>
<line x1="161.33" y1="697.5" x2="161.33" y2="701.7" stroke="#2e2e2e" stroke-width="1.4"/>
<line x1="256.17" y1="922" x2="256.17" y2="926.2" stroke="#2e2e2e" stroke-width="1.4"/>
<line x1="256.17" y1="697.5" x2="256.17" y2="701.7" stroke="#2e2e2e" stroke-width="1.4"/>
<line x1="351" y1="922" x2="351" y2="926.2" stroke="#2e2e2e" stroke-width="1.4"/>
<line x1="351" y1="697.5" x2="351" y2="701.7" stroke="#2e2e2e" stroke-width="1.4"/>
<line x1="113.92" y1="922" x2="113.92" y2="924.2" stroke="#2e2e2e" stroke-width="1.4"/>
<line x1="113.92" y1="697.5" x2="113.92" y2="699.7" stroke="#2e2e2e" stroke-width="1.4"/>
<line x1="208.75" y1="922" x2="208.75" y2="924.2" stroke="#2e2e2e" stroke-width="1.4"/>
<line x1="208.75" y1="697.5" x2="208.75" y2="699.7" stroke="#2e2e2e" stroke-width="1.4"/>
<line x1="303.58" y1="922" x2="303.58" y2="924.2" stroke="#2e2e2e" stroke-width="1.4"/>
<line x1="303.58" y1="697.5" x2="303.58" y2="699.7" stroke="#2e2e2e" stroke-width="1.4"/>
<line x1="62.3" y1="922" x2="66.5" y2="922" stroke="#2e2e2e" stroke-width="1.4"/>
<line x1="346.8" y1="922" x2="351" y2="922" stroke="#2e2e2e" stroke-width="1.4"/>
<line x1="62.3" y1="809.75" x2="66.5" y2="809.75" stroke="#2e2e2e" stroke-width="1.4"/>
<line x1="346.8" y1="809.75" x2="351" y2="809.75" stroke="#2e2e2e" stroke-width="1.4"/>
<line x1="62.3" y1="697.5" x2="66.5" y2="697.5" stroke="#2e2e2e" stroke-width="1.4"/>
<line x1="346.8" y1="697.5" x2="351" y2="697.5" stroke="#2e2e2e" stroke-width="1.4"/>
<line x1="64.3" y1="865.88" x2="66.5" y2="865.88" stroke="#2e2e2e" stroke-width="1.4"/>
<line x1="348.8" y1="865.88" x2="351" y2="865.88" stroke="#2e2e2e" stroke-width="1.4"/>
<line x1="64.3" y1="753.62" x2="66.5" y2="753.62" stroke="#2e2e2e" stroke-width="1.4"/>
<line x1="348.8" y1="753.62" x2="351" y2="753.62" stroke="#2e2e2e" stroke-width="1.4"/>
<rect x="66.5" y="697.5" width="284.5" height="224.5" fill="none" stroke="#2e2e2e" stroke-width="1.4"/>
<text x="66.5" y="939.3" font-size="13.3" font-weight="bold" text-anchor="middle" fill="#111" stroke="#111" stroke-width="0.3">300</text>
<text x="161.33" y="939.3" font-size="13.3" font-weight="bold" text-anchor="middle" fill="#111" stroke="#111" stroke-width="0.3">400</text>
<text x="256.17" y="939.3" font-size="13.3" font-weight="bold" text-anchor="middle" fill="#111" stroke="#111" stroke-width="0.3">500</text>
<text x="351" y="939.3" font-size="13.3" font-weight="bold" text-anchor="middle" fill="#111" stroke="#111" stroke-width="0.3">600</text>
<text x="59" y="926.39" font-size="13.3" font-weight="bold" text-anchor="end" fill="#111" stroke="#111" stroke-width="0.3">0.0</text>
<text x="59" y="814.14" font-size="13.3" font-weight="bold" text-anchor="end" fill="#111" stroke="#111" stroke-width="0.3">0.5</text>
<text x="59" y="701.89" font-size="13.3" font-weight="bold" text-anchor="end" fill="#111" stroke="#111" stroke-width="0.3">1.0</text>
<text x="89.5" y="735" font-size="18.5" font-weight="bold" text-anchor="start" fill="#111" stroke="#111" stroke-width="0.3">MO</text>
<line x1="286.9" y1="708.1" x2="318.9" y2="708.1" stroke="#4c4c4c" stroke-width="1.9"/>
<text x="322.8" y="712.7" font-size="13.6" font-weight="bold" text-anchor="start" fill="#111" stroke="#111" stroke-width="0.3">0h</text>
<line x1="286.9" y1="725.3" x2="318.9" y2="725.3" stroke="#d04a5c" stroke-width="1.9"/>
<text x="322.8" y="729.9" font-size="13.6" font-weight="bold" text-anchor="start" fill="#111" stroke="#111" stroke-width="0.3">0.5h</text>
<line x1="286.9" y1="742.5" x2="318.9" y2="742.5" stroke="#3763b8" stroke-width="1.9"/>
<text x="322.8" y="747.1" font-size="13.6" font-weight="bold" text-anchor="start" fill="#111" stroke="#111" stroke-width="0.3">1h</text>
<line x1="286.9" y1="759.7" x2="318.9" y2="759.7" stroke="#479e74" stroke-width="1.9"/>
<text x="322.8" y="764.3" font-size="13.6" font-weight="bold" text-anchor="start" fill="#111" stroke="#111" stroke-width="0.3">1.5h</text>
<line x1="286.9" y1="776.9" x2="318.9" y2="776.9" stroke="#b08edb" stroke-width="1.9"/>
<text x="322.8" y="781.5" font-size="13.6" font-weight="bold" text-anchor="start" fill="#111" stroke="#111" stroke-width="0.3">2h</text>
<text x="208.75" y="960.5" font-size="13.4" font-weight="bold" text-anchor="middle" fill="#111" stroke="#111" stroke-width="0.3">Wavelength (nm)</text>
<text x="0" y="0" font-size="12.9" font-weight="bold" text-anchor="middle" fill="#111" stroke="#111" stroke-width="0.3" transform="translate(37.5 809.75) rotate(-90)">Absorbance(a.u.)</text>
</g>
<g>
<polyline points="493.3,258.5 561.63,256.21 629.97,256.21 698.3,256.44 766.63,254.84" fill="none" stroke="#764a4a" stroke-width="1.7" stroke-linejoin="round"/>
<polyline points="493.3,258.5 561.63,252.78 629.97,251.87 698.3,251.64 766.63,251.41" fill="none" stroke="#38c6bc" stroke-width="1.7" stroke-linejoin="round"/>
<polyline points="493.3,258.5 561.63,249.81 629.97,249.35 698.3,249.12 766.63,248.89" fill="none" stroke="#c6a434" stroke-width="1.7" stroke-linejoin="round"/>
<polyline points="493.3,258.5 561.63,247.29 629.97,246.15 698.3,245.69 766.63,245.46" fill="none" stroke="#ab8cd8" stroke-width="1.7" stroke-linejoin="round"/>
<polyline points="493.3,258.5 561.63,235.17 629.97,211.85 698.3,196.06 766.63,188.75" fill="none" stroke="#44a274" stroke-width="1.7" stroke-linejoin="round"/>
<polyline points="493.3,258.5 561.63,162.22 629.97,124.02 698.3,99.1 766.63,94.75" fill="none" stroke="#3264c2" stroke-width="1.7" stroke-linejoin="round"/>
<polyline points="493.3,258.5 561.63,135.46 629.97,84 698.3,66.62 766.63,57.24" fill="none" stroke="#d94852" stroke-width="1.7" stroke-linejoin="round"/>
<polyline points="493.3,258.5 561.63,94.75 629.97,52.67 698.3,39.41 766.63,38.95" fill="none" stroke="#575757" stroke-width="1.7" stroke-linejoin="round"/>
<line x1="561.63" y1="255.41" x2="561.63" y2="257.01" stroke="#3a0a14" stroke-width="1.3"/>
<line x1="559.93" y1="255.41" x2="563.33" y2="255.41" stroke="#3a0a14" stroke-width="1.3"/>
<line x1="559.93" y1="257.01" x2="563.33" y2="257.01" stroke="#3a0a14" stroke-width="1.3"/>
<circle cx="561.63" cy="256.21" r="2.09" fill="#3a0a14"/>
<line x1="629.97" y1="255.41" x2="629.97" y2="257.01" stroke="#3a0a14" stroke-width="1.3"/>
<line x1="628.27" y1="255.41" x2="631.67" y2="255.41" stroke="#3a0a14" stroke-width="1.3"/>
<line x1="628.27" y1="257.01" x2="631.67" y2="257.01" stroke="#3a0a14" stroke-width="1.3"/>
<circle cx="629.97" cy="256.21" r="2.09" fill="#3a0a14"/>
<line x1="698.3" y1="255.64" x2="698.3" y2="257.24" stroke="#3a0a14" stroke-width="1.3"/>
<line x1="696.6" y1="255.64" x2="700" y2="255.64" stroke="#3a0a14" stroke-width="1.3"/>
<line x1="696.6" y1="257.24" x2="700" y2="257.24" stroke="#3a0a14" stroke-width="1.3"/>
<circle cx="698.3" cy="256.44" r="2.09" fill="#3a0a14"/>
<line x1="766.63" y1="254.04" x2="766.63" y2="255.64" stroke="#3a0a14" stroke-width="1.3"/>
<line x1="764.93" y1="254.04" x2="768.33" y2="254.04" stroke="#3a0a14" stroke-width="1.3"/>
<line x1="764.93" y1="255.64" x2="768.33" y2="255.64" stroke="#3a0a14" stroke-width="1.3"/>
<circle cx="766.63" cy="254.84" r="2.09" fill="#3a0a14"/>
<line x1="561.63" y1="251.98" x2="561.63" y2="253.58" stroke="#0a3030" stroke-width="1.3"/>
<line x1="559.93" y1="251.98" x2="563.33" y2="251.98" stroke="#0a3030" stroke-width="1.3"/>
<line x1="559.93" y1="253.58" x2="563.33" y2="253.58" stroke="#0a3030" stroke-width="1.3"/>
<polygon points="564.2,252.78 559.84,250.22 559.84,255.35" fill="#0a3030"/>
<line x1="629.97" y1="251.07" x2="629.97" y2="252.67" stroke="#0a3030" stroke-width="1.3"/>
<line x1="628.27" y1="251.07" x2="631.67" y2="251.07" stroke="#0a3030" stroke-width="1.3"/>
<line x1="628.27" y1="252.67" x2="631.67" y2="252.67" stroke="#0a3030" stroke-width="1.3"/>
<polygon points="632.53,251.87 628.17,249.3 628.17,254.43" fill="#0a3030"/>
<line x1="698.3" y1="250.84" x2="698.3" y2="252.44" stroke="#0a3030" stroke-width="1.3"/>
<line x1="696.6" y1="250.84" x2="700" y2="250.84" stroke="#0a3030" stroke-width="1.3"/>
<line x1="696.6" y1="252.44" x2="700" y2="252.44" stroke="#0a3030" stroke-width="1.3"/>
<polygon points="700.87,251.64 696.5,249.07 696.5,254.2" fill="#0a3030"/>
<line x1="766.63" y1="250.61" x2="766.63" y2="252.21" stroke="#0a3030" stroke-width="1.3"/>
<line x1="764.93" y1="250.61" x2="768.33" y2="250.61" stroke="#0a3030" stroke-width="1.3"/>
<line x1="764.93" y1="252.21" x2="768.33" y2="252.21" stroke="#0a3030" stroke-width="1.3"/>
<polygon points="769.2,251.41 764.84,248.85 764.84,253.98" fill="#0a3030"/>
<line x1="561.63" y1="249.01" x2="561.63" y2="250.61" stroke="#1a1a10" stroke-width="1.3"/>
<line x1="559.93" y1="249.01" x2="563.33" y2="249.01" stroke="#1a1a10" stroke-width="1.3"/>
<line x1="559.93" y1="250.61" x2="563.33" y2="250.61" stroke="#1a1a10" stroke-width="1.3"/>
<polygon points="559.07,249.81 563.43,247.24 563.43,252.37" fill="#1a1a10"/>
<line x1="629.97" y1="248.55" x2="629.97" y2="250.15" stroke="#1a1a10" stroke-width="1.3"/>
<line x1="628.27" y1="248.55" x2="631.67" y2="248.55" stroke="#1a1a10" stroke-width="1.3"/>
<line x1="628.27" y1="250.15" x2="631.67" y2="250.15" stroke="#1a1a10" stroke-width="1.3"/>
<polygon points="627.4,249.35 631.76,246.79 631.76,251.92" fill="#1a1a10"/>
<line x1="698.3" y1="248.32" x2="698.3" y2="249.92" stroke="#1a1a10" stroke-width="1.3"/>
<line x1="696.6" y1="248.32" x2="700" y2="248.32" stroke="#1a1a10" stroke-width="1.3"/>
<line x1="696.6" y1="249.92" x2="700" y2="249.92" stroke="#1a1a10" stroke-width="1.3"/>
<polygon points="695.73,249.12 700.1,246.56 700.1,251.69" fill="#1a1a10"/>
<line x1="766.63" y1="248.09" x2="766.63" y2="249.69" stroke="#1a1a10" stroke-width="1.3"/>
<line x1="764.93" y1="248.09" x2="768.33" y2="248.09" stroke="#1a1a10" stroke-width="1.3"/>
<line x1="764.93" y1="249.69" x2="768.33" y2="249.69" stroke="#1a1a10" stroke-width="1.3"/>
<polygon points="764.07,248.89 768.43,246.33 768.43,251.46" fill="#1a1a10"/>
<line x1="561.63" y1="246.49" x2="561.63" y2="248.09" stroke="#2a0a40" stroke-width="1.3"/>
<line x1="559.93" y1="246.49" x2="563.33" y2="246.49" stroke="#2a0a40" stroke-width="1.3"/>
<line x1="559.93" y1="248.09" x2="563.33" y2="248.09" stroke="#2a0a40" stroke-width="1.3"/>
<polygon points="561.63,244.73 564.2,247.29 561.63,249.86 559.07,247.29" fill="#2a0a40"/>
<line x1="629.97" y1="245.35" x2="629.97" y2="246.95" stroke="#2a0a40" stroke-width="1.3"/>
<line x1="628.27" y1="245.35" x2="631.67" y2="245.35" stroke="#2a0a40" stroke-width="1.3"/>
<line x1="628.27" y1="246.95" x2="631.67" y2="246.95" stroke="#2a0a40" stroke-width="1.3"/>
<polygon points="629.97,243.59 632.53,246.15 629.97,248.72 627.4,246.15" fill="#2a0a40"/>
<line x1="698.3" y1="244.89" x2="698.3" y2="246.49" stroke="#2a0a40" stroke-width="1.3"/>
<line x1="696.6" y1="244.89" x2="700" y2="244.89" stroke="#2a0a40" stroke-width="1.3"/>
<line x1="696.6" y1="246.49" x2="700" y2="246.49" stroke="#2a0a40" stroke-width="1.3"/>
<polygon points="698.3,243.13 700.87,245.69 698.3,248.26 695.73,245.69" fill="#2a0a40"/>
<line x1="766.63" y1="244.66" x2="766.63" y2="246.26" stroke="#2a0a40" stroke-width="1.3"/>
<line x1="764.93" y1="244.66" x2="768.33" y2="244.66" stroke="#2a0a40" stroke-width="1.3"/>
<line x1="764.93" y1="246.26" x2="768.33" y2="246.26" stroke="#2a0a40" stroke-width="1.3"/>
<polygon points="766.63,242.9 769.2,245.46 766.63,248.03 764.07,245.46" fill="#2a0a40"/>
<line x1="561.63" y1="234.17" x2="561.63" y2="236.17" stroke="#151515" stroke-width="1.3"/>
<line x1="559.93" y1="234.17" x2="563.33" y2="234.17" stroke="#151515" stroke-width="1.3"/>
<line x1="559.93" y1="236.17" x2="563.33" y2="236.17" stroke="#151515" stroke-width="1.3"/>
<polygon points="561.63,237.74 564.2,233.38 559.07,233.38" fill="#151515"/>
<line x1="629.97" y1="210.85" x2="629.97" y2="212.85" stroke="#151515" stroke-width="1.3"/>
<line x1="628.27" y1="210.85" x2="631.67" y2="210.85" stroke="#151515" stroke-width="1.3"/>
<line x1="628.27" y1="212.85" x2="631.67" y2="212.85" stroke="#151515" stroke-width="1.3"/>
<polygon points="629.97,214.41 632.53,210.05 627.4,210.05" fill="#151515"/>
<line x1="698.3" y1="195.06" x2="698.3" y2="197.06" stroke="#151515" stroke-width="1.3"/>
<line x1="696.6" y1="195.06" x2="700" y2="195.06" stroke="#151515" stroke-width="1.3"/>
<line x1="696.6" y1="197.06" x2="700" y2="197.06" stroke="#151515" stroke-width="1.3"/>
<polygon points="698.3,198.63 700.87,194.27 695.73,194.27" fill="#151515"/>
<line x1="766.63" y1="187.75" x2="766.63" y2="189.75" stroke="#151515" stroke-width="1.3"/>
<line x1="764.93" y1="187.75" x2="768.33" y2="187.75" stroke="#151515" stroke-width="1.3"/>
<line x1="764.93" y1="189.75" x2="768.33" y2="189.75" stroke="#151515" stroke-width="1.3"/>
<polygon points="766.63,191.31 769.2,186.95 764.07,186.95" fill="#151515"/>
<line x1="561.63" y1="160.72" x2="561.63" y2="163.72" stroke="#1a2a70" stroke-width="1.3"/>
<line x1="559.93" y1="160.72" x2="563.33" y2="160.72" stroke="#1a2a70" stroke-width="1.3"/>
<line x1="559.93" y1="163.72" x2="563.33" y2="163.72" stroke="#1a2a70" stroke-width="1.3"/>
<polygon points="561.63,159.65 564.2,164.01 559.07,164.01" fill="#1a2a70"/>
<line x1="629.97" y1="122.02" x2="629.97" y2="126.02" stroke="#1a2a70" stroke-width="1.3"/>
<line x1="628.27" y1="122.02" x2="631.67" y2="122.02" stroke="#1a2a70" stroke-width="1.3"/>
<line x1="628.27" y1="126.02" x2="631.67" y2="126.02" stroke="#1a2a70" stroke-width="1.3"/>
<polygon points="629.97,121.46 632.53,125.82 627.4,125.82" fill="#1a2a70"/>
<line x1="698.3" y1="96.6" x2="698.3" y2="101.6" stroke="#1a2a70" stroke-width="1.3"/>
<line x1="696.6" y1="96.6" x2="700" y2="96.6" stroke="#1a2a70" stroke-width="1.3"/>
<line x1="696.6" y1="101.6" x2="700" y2="101.6" stroke="#1a2a70" stroke-width="1.3"/>
<polygon points="698.3,96.53 700.87,100.89 695.73,100.89" fill="#1a2a70"/>
<line x1="766.63" y1="92.25" x2="766.63" y2="97.25" stroke="#1a2a70" stroke-width="1.3"/>
<line x1="764.93" y1="92.25" x2="768.33" y2="92.25" stroke="#1a2a70" stroke-width="1.3"/>
<line x1="764.93" y1="97.25" x2="768.33" y2="97.25" stroke="#1a2a70" stroke-width="1.3"/>
<polygon points="766.63,92.19 769.2,96.55 764.07,96.55" fill="#1a2a70"/>
<line x1="561.63" y1="133.66" x2="561.63" y2="137.26" stroke="#5a1a22" stroke-width="1.3"/>
<line x1="559.93" y1="133.66" x2="563.33" y2="133.66" stroke="#5a1a22" stroke-width="1.3"/>
<line x1="559.93" y1="137.26" x2="563.33" y2="137.26" stroke="#5a1a22" stroke-width="1.3"/>
<circle cx="561.63" cy="135.46" r="2.09" fill="#5a1a22"/>
<line x1="629.97" y1="81.5" x2="629.97" y2="86.5" stroke="#5a1a22" stroke-width="1.3"/>
<line x1="628.27" y1="81.5" x2="631.67" y2="81.5" stroke="#5a1a22" stroke-width="1.3"/>
<line x1="628.27" y1="86.5" x2="631.67" y2="86.5" stroke="#5a1a22" stroke-width="1.3"/>
<circle cx="629.97" cy="84" r="2.09" fill="#5a1a22"/>
<line x1="698.3" y1="63.62" x2="698.3" y2="69.62" stroke="#5a1a22" stroke-width="1.3"/>
<line x1="696.6" y1="63.62" x2="700" y2="63.62" stroke="#5a1a22" stroke-width="1.3"/>
<line x1="696.6" y1="69.62" x2="700" y2="69.62" stroke="#5a1a22" stroke-width="1.3"/>
<circle cx="698.3" cy="66.62" r="2.09" fill="#5a1a22"/>
<line x1="766.63" y1="54.24" x2="766.63" y2="60.24" stroke="#5a1a22" stroke-width="1.3"/>
<line x1="764.93" y1="54.24" x2="768.33" y2="54.24" stroke="#5a1a22" stroke-width="1.3"/>
<line x1="764.93" y1="60.24" x2="768.33" y2="60.24" stroke="#5a1a22" stroke-width="1.3"/>
<circle cx="766.63" cy="57.24" r="2.09" fill="#5a1a22"/>
<line x1="561.63" y1="92.25" x2="561.63" y2="97.25" stroke="#a82c3a" stroke-width="1.3"/>
<line x1="559.93" y1="92.25" x2="563.33" y2="92.25" stroke="#a82c3a" stroke-width="1.3"/>
<line x1="559.93" y1="97.25" x2="563.33" y2="97.25" stroke="#a82c3a" stroke-width="1.3"/>
<rect x="559.73" y="92.85" width="3.8" height="3.8" fill="#a82c3a"/>
<line x1="629.97" y1="49.67" x2="629.97" y2="55.67" stroke="#a82c3a" stroke-width="1.3"/>
<line x1="628.27" y1="49.67" x2="631.67" y2="49.67" stroke="#a82c3a" stroke-width="1.3"/>
<line x1="628.27" y1="55.67" x2="631.67" y2="55.67" stroke="#a82c3a" stroke-width="1.3"/>
<rect x="628.07" y="50.77" width="3.8" height="3.8" fill="#a82c3a"/>
<line x1="698.3" y1="33.41" x2="698.3" y2="45.41" stroke="#a82c3a" stroke-width="1.3"/>
<line x1="696.6" y1="33.41" x2="700" y2="33.41" stroke="#a82c3a" stroke-width="1.3"/>
<line x1="696.6" y1="45.41" x2="700" y2="45.41" stroke="#a82c3a" stroke-width="1.3"/>
<rect x="696.4" y="37.51" width="3.8" height="3.8" fill="#a82c3a"/>
<line x1="766.63" y1="32.95" x2="766.63" y2="44.95" stroke="#a82c3a" stroke-width="1.3"/>
<line x1="764.93" y1="32.95" x2="768.33" y2="32.95" stroke="#a82c3a" stroke-width="1.3"/>
<line x1="764.93" y1="44.95" x2="768.33" y2="44.95" stroke="#a82c3a" stroke-width="1.3"/>
<rect x="764.73" y="37.05" width="3.8" height="3.8" fill="#a82c3a"/>
<line x1="493.3" y1="258.5" x2="493.3" y2="262.7" stroke="#2e2e2e" stroke-width="1.4"/>
<line x1="493.3" y1="29.8" x2="493.3" y2="34" stroke="#2e2e2e" stroke-width="1.4"/>
<line x1="561.63" y1="258.5" x2="561.63" y2="262.7" stroke="#2e2e2e" stroke-width="1.4"/>
<line x1="561.63" y1="29.8" x2="561.63" y2="34" stroke="#2e2e2e" stroke-width="1.4"/>
<line x1="629.97" y1="258.5" x2="629.97" y2="262.7" stroke="#2e2e2e" stroke-width="1.4"/>
<line x1="629.97" y1="29.8" x2="629.97" y2="34" stroke="#2e2e2e" stroke-width="1.4"/>
<line x1="698.3" y1="258.5" x2="698.3" y2="262.7" stroke="#2e2e2e" stroke-width="1.4"/>
<line x1="698.3" y1="29.8" x2="698.3" y2="34" stroke="#2e2e2e" stroke-width="1.4"/>
<line x1="766.63" y1="258.5" x2="766.63" y2="262.7" stroke="#2e2e2e" stroke-width="1.4"/>
<line x1="766.63" y1="29.8" x2="766.63" y2="34" stroke="#2e2e2e" stroke-width="1.4"/>
<line x1="489.1" y1="258.5" x2="493.3" y2="258.5" stroke="#2e2e2e" stroke-width="1.4"/>
<line x1="776.1" y1="258.5" x2="780.3" y2="258.5" stroke="#2e2e2e" stroke-width="1.4"/>
<line x1="489.1" y1="212.76" x2="493.3" y2="212.76" stroke="#2e2e2e" stroke-width="1.4"/>
<line x1="776.1" y1="212.76" x2="780.3" y2="212.76" stroke="#2e2e2e" stroke-width="1.4"/>
<line x1="489.1" y1="167.02" x2="493.3" y2="167.02" stroke="#2e2e2e" stroke-width="1.4"/>
<line x1="776.1" y1="167.02" x2="780.3" y2="167.02" stroke="#2e2e2e" stroke-width="1.4"/>
<line x1="489.1" y1="121.28" x2="493.3" y2="121.28" stroke="#2e2e2e" stroke-width="1.4"/>
<line x1="776.1" y1="121.28" x2="780.3" y2="121.28" stroke="#2e2e2e" stroke-width="1.4"/>
<line x1="489.1" y1="75.54" x2="493.3" y2="75.54" stroke="#2e2e2e" stroke-width="1.4"/>
<line x1="776.1" y1="75.54" x2="780.3" y2="75.54" stroke="#2e2e2e" stroke-width="1.4"/>
<line x1="489.1" y1="29.8" x2="493.3" y2="29.8" stroke="#2e2e2e" stroke-width="1.4"/>
<line x1="776.1" y1="29.8" x2="780.3" y2="29.8" stroke="#2e2e2e" stroke-width="1.4"/>
<line x1="491.1" y1="235.63" x2="493.3" y2="235.63" stroke="#2e2e2e" stroke-width="1.4"/>
<line x1="778.1" y1="235.63" x2="780.3" y2="235.63" stroke="#2e2e2e" stroke-width="1.4"/>
<line x1="491.1" y1="189.89" x2="493.3" y2="189.89" stroke="#2e2e2e" stroke-width="1.4"/>
<line x1="778.1" y1="189.89" x2="780.3" y2="189.89" stroke="#2e2e2e" stroke-width="1.4"/>
<line x1="491.1" y1="144.15" x2="493.3" y2="144.15" stroke="#2e2e2e" stroke-width="1.4"/>
<line x1="778.1" y1="144.15" x2="780.3" y2="144.15" stroke="#2e2e2e" stroke-width="1.4"/>
<line x1="491.1" y1="98.41" x2="493.3" y2="98.41" stroke="#2e2e2e" stroke-width="1.4"/>
<line x1="778.1" y1="98.41" x2="780.3" y2="98.41" stroke="#2e2e2e" stroke-width="1.4"/>
<line x1="491.1" y1="52.67" x2="493.3" y2="52.67" stroke="#2e2e2e" stroke-width="1.4"/>
<line x1="778.1" y1="52.67" x2="780.3" y2="52.67" stroke="#2e2e2e" stroke-width="1.4"/>
<rect x="493.3" y="29.8" width="287" height="228.7" fill="none" stroke="#2e2e2e" stroke-width="1.4"/>
<text x="493.3" y="275.8" font-size="13.3" font-weight="bold" text-anchor="middle" fill="#111" stroke="#111" stroke-width="0.3">0.0</text>
<text x="561.63" y="275.8" font-size="13.3" font-weight="bold" text-anchor="middle" fill="#111" stroke="#111" stroke-width="0.3">0.5</text>
<text x="629.97" y="275.8" font-size="13.3" font-weight="bold" text-anchor="middle" fill="#111" stroke="#111" stroke-width="0.3">1.0</text>
<text x="698.3" y="275.8" font-size="13.3" font-weight="bold" text-anchor="middle" fill="#111" stroke="#111" stroke-width="0.3">1.5</text>
<text x="766.63" y="275.8" font-size="13.3" font-weight="bold" text-anchor="middle" fill="#111" stroke="#111" stroke-width="0.3">2.0</text>
<text x="485.8" y="262.89" font-size="13.3" font-weight="bold" text-anchor="end" fill="#111" stroke="#111" stroke-width="0.3">0</text>
<text x="485.8" y="217.15" font-size="13.3" font-weight="bold" text-anchor="end" fill="#111" stroke="#111" stroke-width="0.3">20</text>
<text x="485.8" y="171.41" font-size="13.3" font-weight="bold" text-anchor="end" fill="#111" stroke="#111" stroke-width="0.3">40</text>
<text x="485.8" y="125.67" font-size="13.3" font-weight="bold" text-anchor="end" fill="#111" stroke="#111" stroke-width="0.3">60</text>
<text x="485.8" y="79.93" font-size="13.3" font-weight="bold" text-anchor="end" fill="#111" stroke="#111" stroke-width="0.3">80</text>
<text x="485.8" y="34.19" font-size="13.3" font-weight="bold" text-anchor="end" fill="#111" stroke="#111" stroke-width="0.3">100</text>
<line x1="497.8" y1="41.4" x2="520.8" y2="41.4" stroke="#575757" stroke-width="1.7"/>
<rect x="507.2" y="39.3" width="4.2" height="4.2" fill="#444"/>
<text x="523.6" y="44.8" font-size="9.7" font-weight="bold" text-anchor="start" fill="#111" stroke="#111" stroke-width="0.3">ASP-Ag+UC</text>
<line x1="497.8" y1="53.66" x2="520.8" y2="53.66" stroke="#d94852" stroke-width="1.7"/>
<circle cx="509.3" cy="53.66" r="2.31" fill="#d94852"/>
<text x="523.6" y="57.06" font-size="9.7" font-weight="bold" text-anchor="start" fill="#111" stroke="#111" stroke-width="0.3">Ag+UC</text>
<line x1="497.8" y1="65.92" x2="520.8" y2="65.92" stroke="#3264c2" stroke-width="1.7"/>
<polygon points="509.3,63.09 512.13,67.9 506.47,67.9" fill="#3264c2"/>
<text x="523.6" y="69.32" font-size="9.7" font-weight="bold" text-anchor="start" fill="#111" stroke="#111" stroke-width="0.3">UC</text>
<line x1="497.8" y1="78.18" x2="520.8" y2="78.18" stroke="#44a274" stroke-width="1.7"/>
<polygon points="509.3,81.02 512.13,76.2 506.47,76.2" fill="#44a274"/>
<text x="523.6" y="81.58" font-size="9.7" font-weight="bold" text-anchor="start" fill="#111" stroke="#111" stroke-width="0.3">ASP+UC</text>
<line x1="497.8" y1="90.44" x2="520.8" y2="90.44" stroke="#ab8cd8" stroke-width="1.7"/>
<polygon points="509.3,87.61 512.13,90.44 509.3,93.27 506.47,90.44" fill="#ab8cd8"/>
<text x="523.6" y="93.84" font-size="9.7" font-weight="bold" text-anchor="start" fill="#111" stroke="#111" stroke-width="0.3">ASP-Ag</text>
<line x1="497.8" y1="102.7" x2="520.8" y2="102.7" stroke="#c6a434" stroke-width="1.7"/>
<polygon points="506.47,102.7 511.28,99.86 511.28,105.53" fill="#c6a434"/>
<text x="523.6" y="106.1" font-size="9.7" font-weight="bold" text-anchor="start" fill="#111" stroke="#111" stroke-width="0.3">Ag</text>
<line x1="497.8" y1="114.96" x2="520.8" y2="114.96" stroke="#38c6bc" stroke-width="1.7"/>
<polygon points="512.13,114.96 507.32,112.13 507.32,117.8" fill="#38c6bc"/>
<text x="523.6" y="118.36" font-size="9.7" font-weight="bold" text-anchor="start" fill="#111" stroke="#111" stroke-width="0.3">ASP</text>
<line x1="497.8" y1="127.22" x2="520.8" y2="127.22" stroke="#764a4a" stroke-width="1.7"/>
<circle cx="509.3" cy="127.22" r="2.31" fill="#764a4a"/>
<text x="523.6" y="130.62" font-size="9.7" font-weight="bold" text-anchor="start" fill="#111" stroke="#111" stroke-width="0.3">0</text>
<text x="636.8" y="297.5" font-size="13.4" font-weight="bold" text-anchor="middle" fill="#111" stroke="#111" stroke-width="0.3">Time (h)</text>
<text x="0" y="0" font-size="13.4" font-weight="bold" text-anchor="middle" fill="#111" stroke="#111" stroke-width="0.3" transform="translate(461.4 144.15) rotate(-90)">Degradation Rate (%)</text>
</g>
<g>
<polyline points="495.5,592 563.17,588.86 630.83,588.64 698.5,588.41 766.17,587.52" fill="none" stroke="#764a4a" stroke-width="1.7" stroke-linejoin="round"/>
<polyline points="495.5,592 563.17,586.39 630.83,585.95 698.5,585.72 766.17,585.5" fill="none" stroke="#38c6bc" stroke-width="1.7" stroke-linejoin="round"/>
<polyline points="495.5,592 563.17,583.03 630.83,581.69 698.5,580.79 766.17,580.34" fill="none" stroke="#c6a434" stroke-width="1.7" stroke-linejoin="round"/>
<polyline points="495.5,592 563.17,579.11 630.83,578.55 698.5,578.1 766.17,577.65" fill="none" stroke="#ab8cd8" stroke-width="1.7" stroke-linejoin="round"/>
<polyline points="495.5,592 563.17,566.89 630.83,551.2 698.5,535.5 766.17,522.72" fill="none" stroke="#44a274" stroke-width="1.7" stroke-linejoin="round"/>
<polyline points="495.5,592 563.17,496.27 630.83,455.91 698.5,435.28 766.17,433.27" fill="none" stroke="#3264c2" stroke-width="1.7" stroke-linejoin="round"/>
<polyline points="495.5,592 563.17,476.09 630.83,417.57 698.5,397.84 766.17,392.91" fill="none" stroke="#d94852" stroke-width="1.7" stroke-linejoin="round"/>
<polyline points="495.5,592 563.17,433.27 630.83,392.91 698.5,378.79 766.17,378.11" fill="none" stroke="#575757" stroke-width="1.7" stroke-linejoin="round"/>
<line x1="563.17" y1="588.06" x2="563.17" y2="589.66" stroke="#3a0a14" stroke-width="1.3"/>
<line x1="561.47" y1="588.06" x2="564.87" y2="588.06" stroke="#3a0a14" stroke-width="1.3"/>
<line x1="561.47" y1="589.66" x2="564.87" y2="589.66" stroke="#3a0a14" stroke-width="1.3"/>
<circle cx="563.17" cy="588.86" r="2.09" fill="#3a0a14"/>
<line x1="630.83" y1="587.84" x2="630.83" y2="589.44" stroke="#3a0a14" stroke-width="1.3"/>
<line x1="629.13" y1="587.84" x2="632.53" y2="587.84" stroke="#3a0a14" stroke-width="1.3"/>
<line x1="629.13" y1="589.44" x2="632.53" y2="589.44" stroke="#3a0a14" stroke-width="1.3"/>
<circle cx="630.83" cy="588.64" r="2.09" fill="#3a0a14"/>
<line x1="698.5" y1="587.61" x2="698.5" y2="589.21" stroke="#3a0a14" stroke-width="1.3"/>
<line x1="696.8" y1="587.61" x2="700.2" y2="587.61" stroke="#3a0a14" stroke-width="1.3"/>
<line x1="696.8" y1="589.21" x2="700.2" y2="589.21" stroke="#3a0a14" stroke-width="1.3"/>
<circle cx="698.5" cy="588.41" r="2.09" fill="#3a0a14"/>
<line x1="766.17" y1="586.72" x2="766.17" y2="588.32" stroke="#3a0a14" stroke-width="1.3"/>
<line x1="764.47" y1="586.72" x2="767.87" y2="586.72" stroke="#3a0a14" stroke-width="1.3"/>
<line x1="764.47" y1="588.32" x2="767.87" y2="588.32" stroke="#3a0a14" stroke-width="1.3"/>
<circle cx="766.17" cy="587.52" r="2.09" fill="#3a0a14"/>
<line x1="563.17" y1="585.6" x2="563.17" y2="587.19" stroke="#0a3030" stroke-width="1.3"/>
<line x1="561.47" y1="585.6" x2="564.87" y2="585.6" stroke="#0a3030" stroke-width="1.3"/>
<line x1="561.47" y1="587.19" x2="564.87" y2="587.19" stroke="#0a3030" stroke-width="1.3"/>
<polygon points="565.73,586.39 561.37,583.83 561.37,588.96" fill="#0a3030"/>
<line x1="630.83" y1="585.15" x2="630.83" y2="586.75" stroke="#0a3030" stroke-width="1.3"/>
<line x1="629.13" y1="585.15" x2="632.53" y2="585.15" stroke="#0a3030" stroke-width="1.3"/>
<line x1="629.13" y1="586.75" x2="632.53" y2="586.75" stroke="#0a3030" stroke-width="1.3"/>
<polygon points="633.4,585.95 629.04,583.38 629.04,588.51" fill="#0a3030"/>
<line x1="698.5" y1="584.92" x2="698.5" y2="586.52" stroke="#0a3030" stroke-width="1.3"/>
<line x1="696.8" y1="584.92" x2="700.2" y2="584.92" stroke="#0a3030" stroke-width="1.3"/>
<line x1="696.8" y1="586.52" x2="700.2" y2="586.52" stroke="#0a3030" stroke-width="1.3"/>
<polygon points="701.07,585.72 696.7,583.16 696.7,588.29" fill="#0a3030"/>
<line x1="766.17" y1="584.7" x2="766.17" y2="586.3" stroke="#0a3030" stroke-width="1.3"/>
<line x1="764.47" y1="584.7" x2="767.87" y2="584.7" stroke="#0a3030" stroke-width="1.3"/>
<line x1="764.47" y1="586.3" x2="767.87" y2="586.3" stroke="#0a3030" stroke-width="1.3"/>
<polygon points="768.73,585.5 764.37,582.93 764.37,588.06" fill="#0a3030"/>
<line x1="563.17" y1="582.23" x2="563.17" y2="583.83" stroke="#1a1a10" stroke-width="1.3"/>
<line x1="561.47" y1="582.23" x2="564.87" y2="582.23" stroke="#1a1a10" stroke-width="1.3"/>
<line x1="561.47" y1="583.83" x2="564.87" y2="583.83" stroke="#1a1a10" stroke-width="1.3"/>
<polygon points="560.6,583.03 564.96,580.47 564.96,585.6" fill="#1a1a10"/>
<line x1="630.83" y1="580.89" x2="630.83" y2="582.49" stroke="#1a1a10" stroke-width="1.3"/>
<line x1="629.13" y1="580.89" x2="632.53" y2="580.89" stroke="#1a1a10" stroke-width="1.3"/>
<line x1="629.13" y1="582.49" x2="632.53" y2="582.49" stroke="#1a1a10" stroke-width="1.3"/>
<polygon points="628.27,581.69 632.63,579.12 632.63,584.25" fill="#1a1a10"/>
<line x1="698.5" y1="579.99" x2="698.5" y2="581.59" stroke="#1a1a10" stroke-width="1.3"/>
<line x1="696.8" y1="579.99" x2="700.2" y2="579.99" stroke="#1a1a10" stroke-width="1.3"/>
<line x1="696.8" y1="581.59" x2="700.2" y2="581.59" stroke="#1a1a10" stroke-width="1.3"/>
<polygon points="695.93,580.79 700.3,578.22 700.3,583.36" fill="#1a1a10"/>
<line x1="766.17" y1="579.54" x2="766.17" y2="581.14" stroke="#1a1a10" stroke-width="1.3"/>
<line x1="764.47" y1="579.54" x2="767.87" y2="579.54" stroke="#1a1a10" stroke-width="1.3"/>
<line x1="764.47" y1="581.14" x2="767.87" y2="581.14" stroke="#1a1a10" stroke-width="1.3"/>
<polygon points="763.6,580.34 767.96,577.78 767.96,582.91" fill="#1a1a10"/>
<line x1="563.17" y1="578.31" x2="563.17" y2="579.91" stroke="#2a0a40" stroke-width="1.3"/>
<line x1="561.47" y1="578.31" x2="564.87" y2="578.31" stroke="#2a0a40" stroke-width="1.3"/>
<line x1="561.47" y1="579.91" x2="564.87" y2="579.91" stroke="#2a0a40" stroke-width="1.3"/>
<polygon points="563.17,576.54 565.73,579.11 563.17,581.67 560.6,579.11" fill="#2a0a40"/>
<line x1="630.83" y1="577.75" x2="630.83" y2="579.35" stroke="#2a0a40" stroke-width="1.3"/>
<line x1="629.13" y1="577.75" x2="632.53" y2="577.75" stroke="#2a0a40" stroke-width="1.3"/>
<line x1="629.13" y1="579.35" x2="632.53" y2="579.35" stroke="#2a0a40" stroke-width="1.3"/>
<polygon points="630.83,575.98 633.4,578.55 630.83,581.11 628.27,578.55" fill="#2a0a40"/>
<line x1="698.5" y1="577.3" x2="698.5" y2="578.9" stroke="#2a0a40" stroke-width="1.3"/>
<line x1="696.8" y1="577.3" x2="700.2" y2="577.3" stroke="#2a0a40" stroke-width="1.3"/>
<line x1="696.8" y1="578.9" x2="700.2" y2="578.9" stroke="#2a0a40" stroke-width="1.3"/>
<polygon points="698.5,575.53 701.07,578.1 698.5,580.66 695.93,578.1" fill="#2a0a40"/>
<line x1="766.17" y1="576.85" x2="766.17" y2="578.45" stroke="#2a0a40" stroke-width="1.3"/>
<line x1="764.47" y1="576.85" x2="767.87" y2="576.85" stroke="#2a0a40" stroke-width="1.3"/>
<line x1="764.47" y1="578.45" x2="767.87" y2="578.45" stroke="#2a0a40" stroke-width="1.3"/>
<polygon points="766.17,575.09 768.73,577.65 766.17,580.22 763.6,577.65" fill="#2a0a40"/>
<line x1="563.17" y1="565.89" x2="563.17" y2="567.89" stroke="#151515" stroke-width="1.3"/>
<line x1="561.47" y1="565.89" x2="564.87" y2="565.89" stroke="#151515" stroke-width="1.3"/>
<line x1="561.47" y1="567.89" x2="564.87" y2="567.89" stroke="#151515" stroke-width="1.3"/>
<polygon points="563.17,569.45 565.73,565.09 560.6,565.09" fill="#151515"/>
<line x1="630.83" y1="550.2" x2="630.83" y2="552.2" stroke="#151515" stroke-width="1.3"/>
<line x1="629.13" y1="550.2" x2="632.53" y2="550.2" stroke="#151515" stroke-width="1.3"/>
<line x1="629.13" y1="552.2" x2="632.53" y2="552.2" stroke="#151515" stroke-width="1.3"/>
<polygon points="630.83,553.76 633.4,549.4 628.27,549.4" fill="#151515"/>
<line x1="698.5" y1="534.5" x2="698.5" y2="536.5" stroke="#151515" stroke-width="1.3"/>
<line x1="696.8" y1="534.5" x2="700.2" y2="534.5" stroke="#151515" stroke-width="1.3"/>
<line x1="696.8" y1="536.5" x2="700.2" y2="536.5" stroke="#151515" stroke-width="1.3"/>
<polygon points="698.5,538.07 701.07,533.71 695.93,533.71" fill="#151515"/>
<line x1="766.17" y1="521.72" x2="766.17" y2="523.72" stroke="#151515" stroke-width="1.3"/>
<line x1="764.47" y1="521.72" x2="767.87" y2="521.72" stroke="#151515" stroke-width="1.3"/>
<line x1="764.47" y1="523.72" x2="767.87" y2="523.72" stroke="#151515" stroke-width="1.3"/>
<polygon points="766.17,525.29 768.73,520.93 763.6,520.93" fill="#151515"/>
<line x1="563.17" y1="494.77" x2="563.17" y2="497.77" stroke="#1a2a70" stroke-width="1.3"/>
<line x1="561.47" y1="494.77" x2="564.87" y2="494.77" stroke="#1a2a70" stroke-width="1.3"/>
<line x1="561.47" y1="497.77" x2="564.87" y2="497.77" stroke="#1a2a70" stroke-width="1.3"/>
<polygon points="563.17,493.7 565.73,498.06 560.6,498.06" fill="#1a2a70"/>
<line x1="630.83" y1="453.91" x2="630.83" y2="457.91" stroke="#1a2a70" stroke-width="1.3"/>
<line x1="629.13" y1="453.91" x2="632.53" y2="453.91" stroke="#1a2a70" stroke-width="1.3"/>
<line x1="629.13" y1="457.91" x2="632.53" y2="457.91" stroke="#1a2a70" stroke-width="1.3"/>
<polygon points="630.83,453.35 633.4,457.71 628.27,457.71" fill="#1a2a70"/>
<line x1="698.5" y1="432.78" x2="698.5" y2="437.78" stroke="#1a2a70" stroke-width="1.3"/>
<line x1="696.8" y1="432.78" x2="700.2" y2="432.78" stroke="#1a2a70" stroke-width="1.3"/>
<line x1="696.8" y1="437.78" x2="700.2" y2="437.78" stroke="#1a2a70" stroke-width="1.3"/>
<polygon points="698.5,432.72 701.07,437.08 695.93,437.08" fill="#1a2a70"/>
<line x1="766.17" y1="430.77" x2="766.17" y2="435.77" stroke="#1a2a70" stroke-width="1.3"/>
<line x1="764.47" y1="430.77" x2="767.87" y2="430.77" stroke="#1a2a70" stroke-width="1.3"/>
<line x1="764.47" y1="435.77" x2="767.87" y2="435.77" stroke="#1a2a70" stroke-width="1.3"/>
<polygon points="766.17,430.7 768.73,435.06 763.6,435.06" fill="#1a2a70"/>
<line x1="563.17" y1="474.29" x2="563.17" y2="477.89" stroke="#5a1a22" stroke-width="1.3"/>
<line x1="561.47" y1="474.29" x2="564.87" y2="474.29" stroke="#5a1a22" stroke-width="1.3"/>
<line x1="561.47" y1="477.89" x2="564.87" y2="477.89" stroke="#5a1a22" stroke-width="1.3"/>
<circle cx="563.17" cy="476.09" r="2.09" fill="#5a1a22"/>
<line x1="630.83" y1="415.07" x2="630.83" y2="420.07" stroke="#5a1a22" stroke-width="1.3"/>
<line x1="629.13" y1="415.07" x2="632.53" y2="415.07" stroke="#5a1a22" stroke-width="1.3"/>
<line x1="629.13" y1="420.07" x2="632.53" y2="420.07" stroke="#5a1a22" stroke-width="1.3"/>
<circle cx="630.83" cy="417.57" r="2.09" fill="#5a1a22"/>
<line x1="698.5" y1="394.84" x2="698.5" y2="400.84" stroke="#5a1a22" stroke-width="1.3"/>
<line x1="696.8" y1="394.84" x2="700.2" y2="394.84" stroke="#5a1a22" stroke-width="1.3"/>
<line x1="696.8" y1="400.84" x2="700.2" y2="400.84" stroke="#5a1a22" stroke-width="1.3"/>
<circle cx="698.5" cy="397.84" r="2.09" fill="#5a1a22"/>
<line x1="766.17" y1="389.91" x2="766.17" y2="395.91" stroke="#5a1a22" stroke-width="1.3"/>
<line x1="764.47" y1="389.91" x2="767.87" y2="389.91" stroke="#5a1a22" stroke-width="1.3"/>
<line x1="764.47" y1="395.91" x2="767.87" y2="395.91" stroke="#5a1a22" stroke-width="1.3"/>
<circle cx="766.17" cy="392.91" r="2.09" fill="#5a1a22"/>
<line x1="563.17" y1="430.77" x2="563.17" y2="435.77" stroke="#a82c3a" stroke-width="1.3"/>
<line x1="561.47" y1="430.77" x2="564.87" y2="430.77" stroke="#a82c3a" stroke-width="1.3"/>
<line x1="561.47" y1="435.77" x2="564.87" y2="435.77" stroke="#a82c3a" stroke-width="1.3"/>
<rect x="561.27" y="431.37" width="3.8" height="3.8" fill="#a82c3a"/>
<line x1="630.83" y1="389.91" x2="630.83" y2="395.91" stroke="#a82c3a" stroke-width="1.3"/>
<line x1="629.13" y1="389.91" x2="632.53" y2="389.91" stroke="#a82c3a" stroke-width="1.3"/>
<line x1="629.13" y1="395.91" x2="632.53" y2="395.91" stroke="#a82c3a" stroke-width="1.3"/>
<rect x="628.93" y="391.01" width="3.8" height="3.8" fill="#a82c3a"/>
<line x1="698.5" y1="372.79" x2="698.5" y2="384.79" stroke="#a82c3a" stroke-width="1.3"/>
<line x1="696.8" y1="372.79" x2="700.2" y2="372.79" stroke="#a82c3a" stroke-width="1.3"/>
<line x1="696.8" y1="384.79" x2="700.2" y2="384.79" stroke="#a82c3a" stroke-width="1.3"/>
<rect x="696.6" y="376.89" width="3.8" height="3.8" fill="#a82c3a"/>
<line x1="766.17" y1="372.11" x2="766.17" y2="384.11" stroke="#a82c3a" stroke-width="1.3"/>
<line x1="764.47" y1="372.11" x2="767.87" y2="372.11" stroke="#a82c3a" stroke-width="1.3"/>
<line x1="764.47" y1="384.11" x2="767.87" y2="384.11" stroke="#a82c3a" stroke-width="1.3"/>
<rect x="764.27" y="376.21" width="3.8" height="3.8" fill="#a82c3a"/>
<line x1="495.5" y1="592" x2="495.5" y2="596.2" stroke="#2e2e2e" stroke-width="1.4"/>
<line x1="495.5" y1="367.8" x2="495.5" y2="372" stroke="#2e2e2e" stroke-width="1.4"/>
<line x1="563.17" y1="592" x2="563.17" y2="596.2" stroke="#2e2e2e" stroke-width="1.4"/>
<line x1="563.17" y1="367.8" x2="563.17" y2="372" stroke="#2e2e2e" stroke-width="1.4"/>
<line x1="630.83" y1="592" x2="630.83" y2="596.2" stroke="#2e2e2e" stroke-width="1.4"/>
<line x1="630.83" y1="367.8" x2="630.83" y2="372" stroke="#2e2e2e" stroke-width="1.4"/>
<line x1="698.5" y1="592" x2="698.5" y2="596.2" stroke="#2e2e2e" stroke-width="1.4"/>
<line x1="698.5" y1="367.8" x2="698.5" y2="372" stroke="#2e2e2e" stroke-width="1.4"/>
<line x1="766.17" y1="592" x2="766.17" y2="596.2" stroke="#2e2e2e" stroke-width="1.4"/>
<line x1="766.17" y1="367.8" x2="766.17" y2="372" stroke="#2e2e2e" stroke-width="1.4"/>
<line x1="491.3" y1="592" x2="495.5" y2="592" stroke="#2e2e2e" stroke-width="1.4"/>
<line x1="775.5" y1="592" x2="779.7" y2="592" stroke="#2e2e2e" stroke-width="1.4"/>
<line x1="491.3" y1="547.16" x2="495.5" y2="547.16" stroke="#2e2e2e" stroke-width="1.4"/>
<line x1="775.5" y1="547.16" x2="779.7" y2="547.16" stroke="#2e2e2e" stroke-width="1.4"/>
<line x1="491.3" y1="502.32" x2="495.5" y2="502.32" stroke="#2e2e2e" stroke-width="1.4"/>
<line x1="775.5" y1="502.32" x2="779.7" y2="502.32" stroke="#2e2e2e" stroke-width="1.4"/>
<line x1="491.3" y1="457.48" x2="495.5" y2="457.48" stroke="#2e2e2e" stroke-width="1.4"/>
<line x1="775.5" y1="457.48" x2="779.7" y2="457.48" stroke="#2e2e2e" stroke-width="1.4"/>
<line x1="491.3" y1="412.64" x2="495.5" y2="412.64" stroke="#2e2e2e" stroke-width="1.4"/>
<line x1="775.5" y1="412.64" x2="779.7" y2="412.64" stroke="#2e2e2e" stroke-width="1.4"/>
<line x1="491.3" y1="367.8" x2="495.5" y2="367.8" stroke="#2e2e2e" stroke-width="1.4"/>
<line x1="775.5" y1="367.8" x2="779.7" y2="367.8" stroke="#2e2e2e" stroke-width="1.4"/>
<line x1="493.3" y1="569.58" x2="495.5" y2="569.58" stroke="#2e2e2e" stroke-width="1.4"/>
<line x1="777.5" y1="569.58" x2="779.7" y2="569.58" stroke="#2e2e2e" stroke-width="1.4"/>
<line x1="493.3" y1="524.74" x2="495.5" y2="524.74" stroke="#2e2e2e" stroke-width="1.4"/>
<line x1="777.5" y1="524.74" x2="779.7" y2="524.74" stroke="#2e2e2e" stroke-width="1.4"/>
<line x1="493.3" y1="479.9" x2="495.5" y2="479.9" stroke="#2e2e2e" stroke-width="1.4"/>
<line x1="777.5" y1="479.9" x2="779.7" y2="479.9" stroke="#2e2e2e" stroke-width="1.4"/>
<line x1="493.3" y1="435.06" x2="495.5" y2="435.06" stroke="#2e2e2e" stroke-width="1.4"/>
<line x1="777.5" y1="435.06" x2="779.7" y2="435.06" stroke="#2e2e2e" stroke-width="1.4"/>
<line x1="493.3" y1="390.22" x2="495.5" y2="390.22" stroke="#2e2e2e" stroke-width="1.4"/>
<line x1="777.5" y1="390.22" x2="779.7" y2="390.22" stroke="#2e2e2e" stroke-width="1.4"/>
<rect x="495.5" y="367.8" width="284.2" height="224.2" fill="none" stroke="#2e2e2e" stroke-width="1.4"/>
<text x="495.5" y="609.3" font-size="13.3" font-weight="bold" text-anchor="middle" fill="#111" stroke="#111" stroke-width="0.3">0.0</text>
<text x="563.17" y="609.3" font-size="13.3" font-weight="bold" text-anchor="middle" fill="#111" stroke="#111" stroke-width="0.3">0.5</text>
<text x="630.83" y="609.3" font-size="13.3" font-weight="bold" text-anchor="middle" fill="#111" stroke="#111" stroke-width="0.3">1.0</text>
<text x="698.5" y="609.3" font-size="13.3" font-weight="bold" text-anchor="middle" fill="#111" stroke="#111" stroke-width="0.3">1.5</text>
<text x="766.17" y="609.3" font-size="13.3" font-weight="bold" text-anchor="middle" fill="#111" stroke="#111" stroke-width="0.3">2.0</text>
<text x="488" y="596.39" font-size="13.3" font-weight="bold" text-anchor="end" fill="#111" stroke="#111" stroke-width="0.3">0</text>
<text x="488" y="551.55" font-size="13.3" font-weight="bold" text-anchor="end" fill="#111" stroke="#111" stroke-width="0.3">20</text>
<text x="488" y="506.71" font-size="13.3" font-weight="bold" text-anchor="end" fill="#111" stroke="#111" stroke-width="0.3">40</text>
<text x="488" y="461.87" font-size="13.3" font-weight="bold" text-anchor="end" fill="#111" stroke="#111" stroke-width="0.3">60</text>
<text x="488" y="417.03" font-size="13.3" font-weight="bold" text-anchor="end" fill="#111" stroke="#111" stroke-width="0.3">80</text>
<text x="488" y="372.19" font-size="13.3" font-weight="bold" text-anchor="end" fill="#111" stroke="#111" stroke-width="0.3">100</text>
<line x1="499.8" y1="379" x2="522.8" y2="379" stroke="#575757" stroke-width="1.7"/>
<rect x="509.2" y="376.9" width="4.2" height="4.2" fill="#444"/>
<text x="525.6" y="382.4" font-size="9.7" font-weight="bold" text-anchor="start" fill="#111" stroke="#111" stroke-width="0.3">ASP-Ag+UC</text>
<line x1="499.8" y1="391.07" x2="522.8" y2="391.07" stroke="#d94852" stroke-width="1.7"/>
<circle cx="511.3" cy="391.07" r="2.31" fill="#d94852"/>
<text x="525.6" y="394.47" font-size="9.7" font-weight="bold" text-anchor="start" fill="#111" stroke="#111" stroke-width="0.3">Ag+UC</text>
<line x1="499.8" y1="403.14" x2="522.8" y2="403.14" stroke="#3264c2" stroke-width="1.7"/>
<polygon points="511.3,400.31 514.13,405.12 508.47,405.12" fill="#3264c2"/>
<text x="525.6" y="406.54" font-size="9.7" font-weight="bold" text-anchor="start" fill="#111" stroke="#111" stroke-width="0.3">UC</text>
<line x1="499.8" y1="415.21" x2="522.8" y2="415.21" stroke="#44a274" stroke-width="1.7"/>
<polygon points="511.3,418.04 514.13,413.23 508.47,413.23" fill="#44a274"/>
<text x="525.6" y="418.61" font-size="9.7" font-weight="bold" text-anchor="start" fill="#111" stroke="#111" stroke-width="0.3">ASP+UC</text>
<line x1="499.8" y1="427.28" x2="522.8" y2="427.28" stroke="#ab8cd8" stroke-width="1.7"/>
<polygon points="511.3,424.44 514.13,427.28 511.3,430.11 508.47,427.28" fill="#ab8cd8"/>
<text x="525.6" y="430.68" font-size="9.7" font-weight="bold" text-anchor="start" fill="#111" stroke="#111" stroke-width="0.3">ASP-Ag</text>
<line x1="499.8" y1="439.35" x2="522.8" y2="439.35" stroke="#c6a434" stroke-width="1.7"/>
<polygon points="508.47,439.35 513.28,436.52 513.28,442.19" fill="#c6a434"/>
<text x="525.6" y="442.75" font-size="9.7" font-weight="bold" text-anchor="start" fill="#111" stroke="#111" stroke-width="0.3">Ag</text>
<line x1="499.8" y1="451.42" x2="522.8" y2="451.42" stroke="#38c6bc" stroke-width="1.7"/>
<polygon points="514.13,451.42 509.32,448.59 509.32,454.25" fill="#38c6bc"/>
<text x="525.6" y="454.82" font-size="9.7" font-weight="bold" text-anchor="start" fill="#111" stroke="#111" stroke-width="0.3">ASP</text>
<line x1="499.8" y1="463.49" x2="522.8" y2="463.49" stroke="#764a4a" stroke-width="1.7"/>
<circle cx="511.3" cy="463.49" r="2.31" fill="#764a4a"/>
<text x="525.6" y="466.89" font-size="9.7" font-weight="bold" text-anchor="start" fill="#111" stroke="#111" stroke-width="0.3">0</text>
<text x="637.6" y="631" font-size="13.4" font-weight="bold" text-anchor="middle" fill="#111" stroke="#111" stroke-width="0.3">Time (h)</text>
<text x="0" y="0" font-size="13.4" font-weight="bold" text-anchor="middle" fill="#111" stroke="#111" stroke-width="0.3" transform="translate(463.5 479.9) rotate(-90)">Degradation Rate (%)</text>
</g>
<g>
<polyline points="492.2,922 560.25,919.31 628.3,919.08 696.34,919.31 764.39,917.73" fill="none" stroke="#764a4a" stroke-width="1.7" stroke-linejoin="round"/>
<polyline points="492.2,922 560.25,915.94 628.3,915.49 696.34,915.49 764.39,915.26" fill="none" stroke="#38c6bc" stroke-width="1.7" stroke-linejoin="round"/>
<polyline points="492.2,922 560.25,912.35 628.3,911.9 696.34,911.9 764.39,911.67" fill="none" stroke="#c6a434" stroke-width="1.7" stroke-linejoin="round"/>
<polyline points="492.2,922 560.25,911.22 628.3,910.77 696.34,910.77 764.39,910.55" fill="none" stroke="#ab8cd8" stroke-width="1.7" stroke-linejoin="round"/>
<polyline points="492.2,922 560.25,903.37 628.3,880.24 696.34,864.98 764.39,855.1" fill="none" stroke="#44a274" stroke-width="1.7" stroke-linejoin="round"/>
<polyline points="492.2,922 560.25,840.96 628.3,798.3 696.34,770.01 764.39,762.38" fill="none" stroke="#3264c2" stroke-width="1.7" stroke-linejoin="round"/>
<polyline points="492.2,922 560.25,804.59 628.3,760.81 696.34,740.15 764.39,731.4" fill="none" stroke="#d94852" stroke-width="1.7" stroke-linejoin="round"/>
<polyline points="492.2,922 560.25,785.5 628.3,724.44 696.34,711.64 764.39,711.64" fill="none" stroke="#575757" stroke-width="1.7" stroke-linejoin="round"/>
<line x1="560.25" y1="918.51" x2="560.25" y2="920.11" stroke="#3a0a14" stroke-width="1.3"/>
<line x1="558.55" y1="918.51" x2="561.95" y2="918.51" stroke="#3a0a14" stroke-width="1.3"/>
<line x1="558.55" y1="920.11" x2="561.95" y2="920.11" stroke="#3a0a14" stroke-width="1.3"/>
<circle cx="560.25" cy="919.31" r="2.09" fill="#3a0a14"/>
<line x1="628.3" y1="918.28" x2="628.3" y2="919.88" stroke="#3a0a14" stroke-width="1.3"/>
<line x1="626.6" y1="918.28" x2="630" y2="918.28" stroke="#3a0a14" stroke-width="1.3"/>
<line x1="626.6" y1="919.88" x2="630" y2="919.88" stroke="#3a0a14" stroke-width="1.3"/>
<circle cx="628.3" cy="919.08" r="2.09" fill="#3a0a14"/>
<line x1="696.34" y1="918.51" x2="696.34" y2="920.11" stroke="#3a0a14" stroke-width="1.3"/>
<line x1="694.64" y1="918.51" x2="698.04" y2="918.51" stroke="#3a0a14" stroke-width="1.3"/>
<line x1="694.64" y1="920.11" x2="698.04" y2="920.11" stroke="#3a0a14" stroke-width="1.3"/>
<circle cx="696.34" cy="919.31" r="2.09" fill="#3a0a14"/>
<line x1="764.39" y1="916.93" x2="764.39" y2="918.53" stroke="#3a0a14" stroke-width="1.3"/>
<line x1="762.69" y1="916.93" x2="766.09" y2="916.93" stroke="#3a0a14" stroke-width="1.3"/>
<line x1="762.69" y1="918.53" x2="766.09" y2="918.53" stroke="#3a0a14" stroke-width="1.3"/>
<circle cx="764.39" cy="917.73" r="2.09" fill="#3a0a14"/>
<line x1="560.25" y1="915.14" x2="560.25" y2="916.74" stroke="#0a3030" stroke-width="1.3"/>
<line x1="558.55" y1="915.14" x2="561.95" y2="915.14" stroke="#0a3030" stroke-width="1.3"/>
<line x1="558.55" y1="916.74" x2="561.95" y2="916.74" stroke="#0a3030" stroke-width="1.3"/>
<polygon points="562.81,915.94 558.45,913.37 558.45,918.5" fill="#0a3030"/>
<line x1="628.3" y1="914.69" x2="628.3" y2="916.29" stroke="#0a3030" stroke-width="1.3"/>
<line x1="626.6" y1="914.69" x2="630" y2="914.69" stroke="#0a3030" stroke-width="1.3"/>
<line x1="626.6" y1="916.29" x2="630" y2="916.29" stroke="#0a3030" stroke-width="1.3"/>
<polygon points="630.86,915.49 626.5,912.92 626.5,918.05" fill="#0a3030"/>
<line x1="696.34" y1="914.69" x2="696.34" y2="916.29" stroke="#0a3030" stroke-width="1.3"/>
<line x1="694.64" y1="914.69" x2="698.04" y2="914.69" stroke="#0a3030" stroke-width="1.3"/>
<line x1="694.64" y1="916.29" x2="698.04" y2="916.29" stroke="#0a3030" stroke-width="1.3"/>
<polygon points="698.91,915.49 694.55,912.92 694.55,918.05" fill="#0a3030"/>
<line x1="764.39" y1="914.47" x2="764.39" y2="916.06" stroke="#0a3030" stroke-width="1.3"/>
<line x1="762.69" y1="914.47" x2="766.09" y2="914.47" stroke="#0a3030" stroke-width="1.3"/>
<line x1="762.69" y1="916.06" x2="766.09" y2="916.06" stroke="#0a3030" stroke-width="1.3"/>
<polygon points="766.96,915.26 762.59,912.7 762.59,917.83" fill="#0a3030"/>
<line x1="560.25" y1="911.55" x2="560.25" y2="913.15" stroke="#1a1a10" stroke-width="1.3"/>
<line x1="558.55" y1="911.55" x2="561.95" y2="911.55" stroke="#1a1a10" stroke-width="1.3"/>
<line x1="558.55" y1="913.15" x2="561.95" y2="913.15" stroke="#1a1a10" stroke-width="1.3"/>
<polygon points="557.68,912.35 562.04,909.78 562.04,914.91" fill="#1a1a10"/>
<line x1="628.3" y1="911.1" x2="628.3" y2="912.7" stroke="#1a1a10" stroke-width="1.3"/>
<line x1="626.6" y1="911.1" x2="630" y2="911.1" stroke="#1a1a10" stroke-width="1.3"/>
<line x1="626.6" y1="912.7" x2="630" y2="912.7" stroke="#1a1a10" stroke-width="1.3"/>
<polygon points="625.73,911.9 630.09,909.33 630.09,914.46" fill="#1a1a10"/>
<line x1="696.34" y1="911.1" x2="696.34" y2="912.7" stroke="#1a1a10" stroke-width="1.3"/>
<line x1="694.64" y1="911.1" x2="698.04" y2="911.1" stroke="#1a1a10" stroke-width="1.3"/>
<line x1="694.64" y1="912.7" x2="698.04" y2="912.7" stroke="#1a1a10" stroke-width="1.3"/>
<polygon points="693.78,911.9 698.14,909.33 698.14,914.46" fill="#1a1a10"/>
<line x1="764.39" y1="910.87" x2="764.39" y2="912.47" stroke="#1a1a10" stroke-width="1.3"/>
<line x1="762.69" y1="910.87" x2="766.09" y2="910.87" stroke="#1a1a10" stroke-width="1.3"/>
<line x1="762.69" y1="912.47" x2="766.09" y2="912.47" stroke="#1a1a10" stroke-width="1.3"/>
<polygon points="761.83,911.67 766.19,909.11 766.19,914.24" fill="#1a1a10"/>
<line x1="560.25" y1="910.42" x2="560.25" y2="912.02" stroke="#2a0a40" stroke-width="1.3"/>
<line x1="558.55" y1="910.42" x2="561.95" y2="910.42" stroke="#2a0a40" stroke-width="1.3"/>
<line x1="558.55" y1="912.02" x2="561.95" y2="912.02" stroke="#2a0a40" stroke-width="1.3"/>
<polygon points="560.25,908.66 562.81,911.22 560.25,913.79 557.68,911.22" fill="#2a0a40"/>
<line x1="628.3" y1="909.98" x2="628.3" y2="911.57" stroke="#2a0a40" stroke-width="1.3"/>
<line x1="626.6" y1="909.98" x2="630" y2="909.98" stroke="#2a0a40" stroke-width="1.3"/>
<line x1="626.6" y1="911.57" x2="630" y2="911.57" stroke="#2a0a40" stroke-width="1.3"/>
<polygon points="628.3,908.21 630.86,910.77 628.3,913.34 625.73,910.77" fill="#2a0a40"/>
<line x1="696.34" y1="909.98" x2="696.34" y2="911.57" stroke="#2a0a40" stroke-width="1.3"/>
<line x1="694.64" y1="909.98" x2="698.04" y2="909.98" stroke="#2a0a40" stroke-width="1.3"/>
<line x1="694.64" y1="911.57" x2="698.04" y2="911.57" stroke="#2a0a40" stroke-width="1.3"/>
<polygon points="696.34,908.21 698.91,910.77 696.34,913.34 693.78,910.77" fill="#2a0a40"/>
<line x1="764.39" y1="909.75" x2="764.39" y2="911.35" stroke="#2a0a40" stroke-width="1.3"/>
<line x1="762.69" y1="909.75" x2="766.09" y2="909.75" stroke="#2a0a40" stroke-width="1.3"/>
<line x1="762.69" y1="911.35" x2="766.09" y2="911.35" stroke="#2a0a40" stroke-width="1.3"/>
<polygon points="764.39,907.99 766.96,910.55 764.39,913.12 761.83,910.55" fill="#2a0a40"/>
<line x1="560.25" y1="902.37" x2="560.25" y2="904.37" stroke="#151515" stroke-width="1.3"/>
<line x1="558.55" y1="902.37" x2="561.95" y2="902.37" stroke="#151515" stroke-width="1.3"/>
<line x1="558.55" y1="904.37" x2="561.95" y2="904.37" stroke="#151515" stroke-width="1.3"/>
<polygon points="560.25,905.93 562.81,901.57 557.68,901.57" fill="#151515"/>
<line x1="628.3" y1="879.24" x2="628.3" y2="881.24" stroke="#151515" stroke-width="1.3"/>
<line x1="626.6" y1="879.24" x2="630" y2="879.24" stroke="#151515" stroke-width="1.3"/>
<line x1="626.6" y1="881.24" x2="630" y2="881.24" stroke="#151515" stroke-width="1.3"/>
<polygon points="628.3,882.81 630.86,878.45 625.73,878.45" fill="#151515"/>
<line x1="696.34" y1="863.98" x2="696.34" y2="865.98" stroke="#151515" stroke-width="1.3"/>
<line x1="694.64" y1="863.98" x2="698.04" y2="863.98" stroke="#151515" stroke-width="1.3"/>
<line x1="694.64" y1="865.98" x2="698.04" y2="865.98" stroke="#151515" stroke-width="1.3"/>
<polygon points="696.34,867.54 698.91,863.18 693.78,863.18" fill="#151515"/>
<line x1="764.39" y1="854.1" x2="764.39" y2="856.1" stroke="#151515" stroke-width="1.3"/>
<line x1="762.69" y1="854.1" x2="766.09" y2="854.1" stroke="#151515" stroke-width="1.3"/>
<line x1="762.69" y1="856.1" x2="766.09" y2="856.1" stroke="#151515" stroke-width="1.3"/>
<polygon points="764.39,857.66 766.96,853.3 761.83,853.3" fill="#151515"/>
<line x1="560.25" y1="839.46" x2="560.25" y2="842.46" stroke="#1a2a70" stroke-width="1.3"/>
<line x1="558.55" y1="839.46" x2="561.95" y2="839.46" stroke="#1a2a70" stroke-width="1.3"/>
<line x1="558.55" y1="842.46" x2="561.95" y2="842.46" stroke="#1a2a70" stroke-width="1.3"/>
<polygon points="560.25,838.39 562.81,842.75 557.68,842.75" fill="#1a2a70"/>
<line x1="628.3" y1="796.3" x2="628.3" y2="800.3" stroke="#1a2a70" stroke-width="1.3"/>
<line x1="626.6" y1="796.3" x2="630" y2="796.3" stroke="#1a2a70" stroke-width="1.3"/>
<line x1="626.6" y1="800.3" x2="630" y2="800.3" stroke="#1a2a70" stroke-width="1.3"/>
<polygon points="628.3,795.74 630.86,800.1 625.73,800.1" fill="#1a2a70"/>
<line x1="696.34" y1="767.51" x2="696.34" y2="772.51" stroke="#1a2a70" stroke-width="1.3"/>
<line x1="694.64" y1="767.51" x2="698.04" y2="767.51" stroke="#1a2a70" stroke-width="1.3"/>
<line x1="694.64" y1="772.51" x2="698.04" y2="772.51" stroke="#1a2a70" stroke-width="1.3"/>
<polygon points="696.34,767.45 698.91,771.81 693.78,771.81" fill="#1a2a70"/>
<line x1="764.39" y1="759.88" x2="764.39" y2="764.88" stroke="#1a2a70" stroke-width="1.3"/>
<line x1="762.69" y1="759.88" x2="766.09" y2="759.88" stroke="#1a2a70" stroke-width="1.3"/>
<line x1="762.69" y1="764.88" x2="766.09" y2="764.88" stroke="#1a2a70" stroke-width="1.3"/>
<polygon points="764.39,759.82 766.96,764.18 761.83,764.18" fill="#1a2a70"/>
<line x1="560.25" y1="802.79" x2="560.25" y2="806.39" stroke="#5a1a22" stroke-width="1.3"/>
<line x1="558.55" y1="802.79" x2="561.95" y2="802.79" stroke="#5a1a22" stroke-width="1.3"/>
<line x1="558.55" y1="806.39" x2="561.95" y2="806.39" stroke="#5a1a22" stroke-width="1.3"/>
<circle cx="560.25" cy="804.59" r="2.09" fill="#5a1a22"/>
<line x1="628.3" y1="758.31" x2="628.3" y2="763.31" stroke="#5a1a22" stroke-width="1.3"/>
<line x1="626.6" y1="758.31" x2="630" y2="758.31" stroke="#5a1a22" stroke-width="1.3"/>
<line x1="626.6" y1="763.31" x2="630" y2="763.31" stroke="#5a1a22" stroke-width="1.3"/>
<circle cx="628.3" cy="760.81" r="2.09" fill="#5a1a22"/>
<line x1="696.34" y1="737.15" x2="696.34" y2="743.15" stroke="#5a1a22" stroke-width="1.3"/>
<line x1="694.64" y1="737.15" x2="698.04" y2="737.15" stroke="#5a1a22" stroke-width="1.3"/>
<line x1="694.64" y1="743.15" x2="698.04" y2="743.15" stroke="#5a1a22" stroke-width="1.3"/>
<circle cx="696.34" cy="740.15" r="2.09" fill="#5a1a22"/>
<line x1="764.39" y1="728.4" x2="764.39" y2="734.4" stroke="#5a1a22" stroke-width="1.3"/>
<line x1="762.69" y1="728.4" x2="766.09" y2="728.4" stroke="#5a1a22" stroke-width="1.3"/>
<line x1="762.69" y1="734.4" x2="766.09" y2="734.4" stroke="#5a1a22" stroke-width="1.3"/>
<circle cx="764.39" cy="731.4" r="2.09" fill="#5a1a22"/>
<line x1="560.25" y1="783" x2="560.25" y2="788" stroke="#a82c3a" stroke-width="1.3"/>
<line x1="558.55" y1="783" x2="561.95" y2="783" stroke="#a82c3a" stroke-width="1.3"/>
<line x1="558.55" y1="788" x2="561.95" y2="788" stroke="#a82c3a" stroke-width="1.3"/>
<rect x="558.35" y="783.6" width="3.8" height="3.8" fill="#a82c3a"/>
<line x1="628.3" y1="721.44" x2="628.3" y2="727.44" stroke="#a82c3a" stroke-width="1.3"/>
<line x1="626.6" y1="721.44" x2="630" y2="721.44" stroke="#a82c3a" stroke-width="1.3"/>
<line x1="626.6" y1="727.44" x2="630" y2="727.44" stroke="#a82c3a" stroke-width="1.3"/>
<rect x="626.4" y="722.54" width="3.8" height="3.8" fill="#a82c3a"/>
<line x1="696.34" y1="705.64" x2="696.34" y2="717.64" stroke="#a82c3a" stroke-width="1.3"/>
<line x1="694.64" y1="705.64" x2="698.04" y2="705.64" stroke="#a82c3a" stroke-width="1.3"/>
<line x1="694.64" y1="717.64" x2="698.04" y2="717.64" stroke="#a82c3a" stroke-width="1.3"/>
<rect x="694.44" y="709.74" width="3.8" height="3.8" fill="#a82c3a"/>
<line x1="764.39" y1="705.64" x2="764.39" y2="717.64" stroke="#a82c3a" stroke-width="1.3"/>
<line x1="762.69" y1="705.64" x2="766.09" y2="705.64" stroke="#a82c3a" stroke-width="1.3"/>
<line x1="762.69" y1="717.64" x2="766.09" y2="717.64" stroke="#a82c3a" stroke-width="1.3"/>
<rect x="762.49" y="709.74" width="3.8" height="3.8" fill="#a82c3a"/>
<line x1="492.2" y1="922" x2="492.2" y2="926.2" stroke="#2e2e2e" stroke-width="1.4"/>
<line x1="492.2" y1="697.5" x2="492.2" y2="701.7" stroke="#2e2e2e" stroke-width="1.4"/>
<line x1="560.25" y1="922" x2="560.25" y2="926.2" stroke="#2e2e2e" stroke-width="1.4"/>
<line x1="560.25" y1="697.5" x2="560.25" y2="701.7" stroke="#2e2e2e" stroke-width="1.4"/>
<line x1="628.3" y1="922" x2="628.3" y2="926.2" stroke="#2e2e2e" stroke-width="1.4"/>
<line x1="628.3" y1="697.5" x2="628.3" y2="701.7" stroke="#2e2e2e" stroke-width="1.4"/>
<line x1="696.34" y1="922" x2="696.34" y2="926.2" stroke="#2e2e2e" stroke-width="1.4"/>
<line x1="696.34" y1="697.5" x2="696.34" y2="701.7" stroke="#2e2e2e" stroke-width="1.4"/>
<line x1="764.39" y1="922" x2="764.39" y2="926.2" stroke="#2e2e2e" stroke-width="1.4"/>
<line x1="764.39" y1="697.5" x2="764.39" y2="701.7" stroke="#2e2e2e" stroke-width="1.4"/>
<line x1="488" y1="922" x2="492.2" y2="922" stroke="#2e2e2e" stroke-width="1.4"/>
<line x1="773.8" y1="922" x2="778" y2="922" stroke="#2e2e2e" stroke-width="1.4"/>
<line x1="488" y1="877.1" x2="492.2" y2="877.1" stroke="#2e2e2e" stroke-width="1.4"/>
<line x1="773.8" y1="877.1" x2="778" y2="877.1" stroke="#2e2e2e" stroke-width="1.4"/>
<line x1="488" y1="832.2" x2="492.2" y2="832.2" stroke="#2e2e2e" stroke-width="1.4"/>
<line x1="773.8" y1="832.2" x2="778" y2="832.2" stroke="#2e2e2e" stroke-width="1.4"/>
<line x1="488" y1="787.3" x2="492.2" y2="787.3" stroke="#2e2e2e" stroke-width="1.4"/>
<line x1="773.8" y1="787.3" x2="778" y2="787.3" stroke="#2e2e2e" stroke-width="1.4"/>
<line x1="488" y1="742.4" x2="492.2" y2="742.4" stroke="#2e2e2e" stroke-width="1.4"/>
<line x1="773.8" y1="742.4" x2="778" y2="742.4" stroke="#2e2e2e" stroke-width="1.4"/>
<line x1="488" y1="697.5" x2="492.2" y2="697.5" stroke="#2e2e2e" stroke-width="1.4"/>
<line x1="773.8" y1="697.5" x2="778" y2="697.5" stroke="#2e2e2e" stroke-width="1.4"/>
<line x1="490" y1="899.55" x2="492.2" y2="899.55" stroke="#2e2e2e" stroke-width="1.4"/>
<line x1="775.8" y1="899.55" x2="778" y2="899.55" stroke="#2e2e2e" stroke-width="1.4"/>
<line x1="490" y1="854.65" x2="492.2" y2="854.65" stroke="#2e2e2e" stroke-width="1.4"/>
<line x1="775.8" y1="854.65" x2="778" y2="854.65" stroke="#2e2e2e" stroke-width="1.4"/>
<line x1="490" y1="809.75" x2="492.2" y2="809.75" stroke="#2e2e2e" stroke-width="1.4"/>
<line x1="775.8" y1="809.75" x2="778" y2="809.75" stroke="#2e2e2e" stroke-width="1.4"/>
<line x1="490" y1="764.85" x2="492.2" y2="764.85" stroke="#2e2e2e" stroke-width="1.4"/>
<line x1="775.8" y1="764.85" x2="778" y2="764.85" stroke="#2e2e2e" stroke-width="1.4"/>
<line x1="490" y1="719.95" x2="492.2" y2="719.95" stroke="#2e2e2e" stroke-width="1.4"/>
<line x1="775.8" y1="719.95" x2="778" y2="719.95" stroke="#2e2e2e" stroke-width="1.4"/>
<rect x="492.2" y="697.5" width="285.8" height="224.5" fill="none" stroke="#2e2e2e" stroke-width="1.4"/>
<text x="492.2" y="939.3" font-size="13.3" font-weight="bold" text-anchor="middle" fill="#111" stroke="#111" stroke-width="0.3">0.0</text>
<text x="560.25" y="939.3" font-size="13.3" font-weight="bold" text-anchor="middle" fill="#111" stroke="#111" stroke-width="0.3">0.5</text>
<text x="628.3" y="939.3" font-size="13.3" font-weight="bold" text-anchor="middle" fill="#111" stroke="#111" stroke-width="0.3">1.0</text>
<text x="696.34" y="939.3" font-size="13.3" font-weight="bold" text-anchor="middle" fill="#111" stroke="#111" stroke-width="0.3">1.5</text>
<text x="764.39" y="939.3" font-size="13.3" font-weight="bold" text-anchor="middle" fill="#111" stroke="#111" stroke-width="0.3">2.0</text>
<text x="484.7" y="926.39" font-size="13.3" font-weight="bold" text-anchor="end" fill="#111" stroke="#111" stroke-width="0.3">0</text>
<text x="484.7" y="881.49" font-size="13.3" font-weight="bold" text-anchor="end" fill="#111" stroke="#111" stroke-width="0.3">20</text>
<text x="484.7" y="836.59" font-size="13.3" font-weight="bold" text-anchor="end" fill="#111" stroke="#111" stroke-width="0.3">40</text>
<text x="484.7" y="791.69" font-size="13.3" font-weight="bold" text-anchor="end" fill="#111" stroke="#111" stroke-width="0.3">60</text>
<text x="484.7" y="746.79" font-size="13.3" font-weight="bold" text-anchor="end" fill="#111" stroke="#111" stroke-width="0.3">80</text>
<text x="484.7" y="701.89" font-size="13.3" font-weight="bold" text-anchor="end" fill="#111" stroke="#111" stroke-width="0.3">100</text>
<line x1="496.8" y1="708.4" x2="519.8" y2="708.4" stroke="#575757" stroke-width="1.7"/>
<rect x="506.2" y="706.3" width="4.2" height="4.2" fill="#444"/>
<text x="522.6" y="711.8" font-size="9.7" font-weight="bold" text-anchor="start" fill="#111" stroke="#111" stroke-width="0.3">ASP-Ag+UC</text>
<line x1="496.8" y1="720.49" x2="519.8" y2="720.49" stroke="#d94852" stroke-width="1.7"/>
<circle cx="508.3" cy="720.49" r="2.31" fill="#d94852"/>
<text x="522.6" y="723.89" font-size="9.7" font-weight="bold" text-anchor="start" fill="#111" stroke="#111" stroke-width="0.3">Ag+UC</text>
<line x1="496.8" y1="732.58" x2="519.8" y2="732.58" stroke="#3264c2" stroke-width="1.7"/>
<polygon points="508.3,729.74 511.13,734.56 505.47,734.56" fill="#3264c2"/>
<text x="522.6" y="735.98" font-size="9.7" font-weight="bold" text-anchor="start" fill="#111" stroke="#111" stroke-width="0.3">UC</text>
<line x1="496.8" y1="744.67" x2="519.8" y2="744.67" stroke="#44a274" stroke-width="1.7"/>
<polygon points="508.3,747.5 511.13,742.69 505.47,742.69" fill="#44a274"/>
<text x="522.6" y="748.07" font-size="9.7" font-weight="bold" text-anchor="start" fill="#111" stroke="#111" stroke-width="0.3">ASP+UC</text>
<line x1="496.8" y1="756.76" x2="519.8" y2="756.76" stroke="#ab8cd8" stroke-width="1.7"/>
<polygon points="508.3,753.92 511.13,756.76 508.3,759.6 505.47,756.76" fill="#ab8cd8"/>
<text x="522.6" y="760.16" font-size="9.7" font-weight="bold" text-anchor="start" fill="#111" stroke="#111" stroke-width="0.3">ASP-Ag</text>
<line x1="496.8" y1="768.85" x2="519.8" y2="768.85" stroke="#c6a434" stroke-width="1.7"/>
<polygon points="505.47,768.85 510.28,766.01 510.28,771.69" fill="#c6a434"/>
<text x="522.6" y="772.25" font-size="9.7" font-weight="bold" text-anchor="start" fill="#111" stroke="#111" stroke-width="0.3">Ag</text>
<line x1="496.8" y1="780.94" x2="519.8" y2="780.94" stroke="#38c6bc" stroke-width="1.7"/>
<polygon points="511.13,780.94 506.32,778.1 506.32,783.77" fill="#38c6bc"/>
<text x="522.6" y="784.34" font-size="9.7" font-weight="bold" text-anchor="start" fill="#111" stroke="#111" stroke-width="0.3">ASP</text>
<line x1="496.8" y1="793.03" x2="519.8" y2="793.03" stroke="#764a4a" stroke-width="1.7"/>
<circle cx="508.3" cy="793.03" r="2.31" fill="#764a4a"/>
<text x="522.6" y="796.43" font-size="9.7" font-weight="bold" text-anchor="start" fill="#111" stroke="#111" stroke-width="0.3">0</text>
<text x="635.1" y="961" font-size="13.4" font-weight="bold" text-anchor="middle" fill="#111" stroke="#111" stroke-width="0.3">Time (h)</text>
<text x="0" y="0" font-size="13.4" font-weight="bold" text-anchor="middle" fill="#111" stroke="#111" stroke-width="0.3" transform="translate(459.8 809.75) rotate(-90)">Degradation Rate (%)</text>
</g>
<g>
<polyline points="280,1259.5 348.1,1256.67 416.19,1256.44 484.29,1256.44 552.38,1256.44" fill="none" stroke="#111111" stroke-width="2" stroke-dasharray="8 8"/>
<polyline points="280,1259.5 348.1,1256.67 416.19,1256.44 484.29,1256.44 552.38,1256.44" fill="none" stroke="#e0302e" stroke-width="2" stroke-dasharray="8 8"/>
<polyline points="280,1259.5 348.1,1256.67 416.19,1256.44 484.29,1256.44 552.38,1256.44" fill="none" stroke="#2424b4" stroke-width="2" stroke-dasharray="8 8"/>
<polyline points="280,1259.5 348.1,1151.41 416.19,1137.51 484.29,1135.63 552.38,1134.21" fill="none" stroke="#111111" stroke-width="1.9" stroke-linejoin="round"/>
<line x1="348.1" y1="1149.01" x2="348.1" y2="1153.81" stroke="#222" stroke-width="1.2"/>
<line x1="346.1" y1="1149.01" x2="350.1" y2="1149.01" stroke="#222" stroke-width="1.2"/>
<line x1="346.1" y1="1153.81" x2="350.1" y2="1153.81" stroke="#222" stroke-width="1.2"/>
<line x1="416.19" y1="1134.71" x2="416.19" y2="1140.31" stroke="#222" stroke-width="1.2"/>
<line x1="414.19" y1="1134.71" x2="418.19" y2="1134.71" stroke="#222" stroke-width="1.2"/>
<line x1="414.19" y1="1140.31" x2="418.19" y2="1140.31" stroke="#222" stroke-width="1.2"/>
<line x1="484.29" y1="1131.83" x2="484.29" y2="1139.43" stroke="#222" stroke-width="1.2"/>
<line x1="482.29" y1="1131.83" x2="486.29" y2="1131.83" stroke="#222" stroke-width="1.2"/>
<line x1="482.29" y1="1139.43" x2="486.29" y2="1139.43" stroke="#222" stroke-width="1.2"/>
<line x1="552.38" y1="1130.41" x2="552.38" y2="1138.01" stroke="#222" stroke-width="1.2"/>
<line x1="550.38" y1="1130.41" x2="554.38" y2="1130.41" stroke="#222" stroke-width="1.2"/>
<line x1="550.38" y1="1138.01" x2="554.38" y2="1138.01" stroke="#222" stroke-width="1.2"/>
<polyline points="280,1259.5 348.1,1154.94 416.19,1143.87 484.29,1142.46 552.38,1139.16" fill="none" stroke="#e0302e" stroke-width="1.9" stroke-linejoin="round"/>
<line x1="348.1" y1="1152.54" x2="348.1" y2="1157.34" stroke="#222" stroke-width="1.2"/>
<line x1="346.1" y1="1152.54" x2="350.1" y2="1152.54" stroke="#222" stroke-width="1.2"/>
<line x1="346.1" y1="1157.34" x2="350.1" y2="1157.34" stroke="#222" stroke-width="1.2"/>
<line x1="416.19" y1="1141.07" x2="416.19" y2="1146.67" stroke="#222" stroke-width="1.2"/>
<line x1="414.19" y1="1141.07" x2="418.19" y2="1141.07" stroke="#222" stroke-width="1.2"/>
<line x1="414.19" y1="1146.67" x2="418.19" y2="1146.67" stroke="#222" stroke-width="1.2"/>
<line x1="484.29" y1="1138.66" x2="484.29" y2="1146.26" stroke="#222" stroke-width="1.2"/>
<line x1="482.29" y1="1138.66" x2="486.29" y2="1138.66" stroke="#222" stroke-width="1.2"/>
<line x1="482.29" y1="1146.26" x2="486.29" y2="1146.26" stroke="#222" stroke-width="1.2"/>
<line x1="552.38" y1="1135.36" x2="552.38" y2="1142.96" stroke="#222" stroke-width="1.2"/>
<line x1="550.38" y1="1135.36" x2="554.38" y2="1135.36" stroke="#222" stroke-width="1.2"/>
<line x1="550.38" y1="1142.96" x2="554.38" y2="1142.96" stroke="#222" stroke-width="1.2"/>
<polyline points="280,1259.5 348.1,1166.24 416.19,1137.98 484.29,1133.51 552.38,1130.21" fill="none" stroke="#2424b4" stroke-width="1.9" stroke-linejoin="round"/>
<line x1="348.1" y1="1163.84" x2="348.1" y2="1168.64" stroke="#222" stroke-width="1.2"/>
<line x1="346.1" y1="1163.84" x2="350.1" y2="1163.84" stroke="#222" stroke-width="1.2"/>
<line x1="346.1" y1="1168.64" x2="350.1" y2="1168.64" stroke="#222" stroke-width="1.2"/>
<line x1="416.19" y1="1135.18" x2="416.19" y2="1140.78" stroke="#222" stroke-width="1.2"/>
<line x1="414.19" y1="1135.18" x2="418.19" y2="1135.18" stroke="#222" stroke-width="1.2"/>
<line x1="414.19" y1="1140.78" x2="418.19" y2="1140.78" stroke="#222" stroke-width="1.2"/>
<line x1="484.29" y1="1129.71" x2="484.29" y2="1137.31" stroke="#222" stroke-width="1.2"/>
<line x1="482.29" y1="1129.71" x2="486.29" y2="1129.71" stroke="#222" stroke-width="1.2"/>
<line x1="482.29" y1="1137.31" x2="486.29" y2="1137.31" stroke="#222" stroke-width="1.2"/>
<line x1="552.38" y1="1126.41" x2="552.38" y2="1134.01" stroke="#222" stroke-width="1.2"/>
<line x1="550.38" y1="1126.41" x2="554.38" y2="1126.41" stroke="#222" stroke-width="1.2"/>
<line x1="550.38" y1="1134.01" x2="554.38" y2="1134.01" stroke="#222" stroke-width="1.2"/>
<line x1="280" y1="1259.5" x2="280" y2="1263.7" stroke="#2e2e2e" stroke-width="1.4"/>
<line x1="280" y1="1024" x2="280" y2="1028.2" stroke="#2e2e2e" stroke-width="1.4"/>
<line x1="348.1" y1="1259.5" x2="348.1" y2="1263.7" stroke="#2e2e2e" stroke-width="1.4"/>
<line x1="348.1" y1="1024" x2="348.1" y2="1028.2" stroke="#2e2e2e" stroke-width="1.4"/>
<line x1="416.19" y1="1259.5" x2="416.19" y2="1263.7" stroke="#2e2e2e" stroke-width="1.4"/>
<line x1="416.19" y1="1024" x2="416.19" y2="1028.2" stroke="#2e2e2e" stroke-width="1.4"/>
<line x1="484.29" y1="1259.5" x2="484.29" y2="1263.7" stroke="#2e2e2e" stroke-width="1.4"/>
<line x1="484.29" y1="1024" x2="484.29" y2="1028.2" stroke="#2e2e2e" stroke-width="1.4"/>
<line x1="552.38" y1="1259.5" x2="552.38" y2="1263.7" stroke="#2e2e2e" stroke-width="1.4"/>
<line x1="552.38" y1="1024" x2="552.38" y2="1028.2" stroke="#2e2e2e" stroke-width="1.4"/>
<line x1="275.8" y1="1259.5" x2="280" y2="1259.5" stroke="#2e2e2e" stroke-width="1.4"/>
<line x1="561.8" y1="1259.5" x2="566" y2="1259.5" stroke="#2e2e2e" stroke-width="1.4"/>
<line x1="275.8" y1="1212.4" x2="280" y2="1212.4" stroke="#2e2e2e" stroke-width="1.4"/>
<line x1="561.8" y1="1212.4" x2="566" y2="1212.4" stroke="#2e2e2e" stroke-width="1.4"/>
<line x1="275.8" y1="1165.3" x2="280" y2="1165.3" stroke="#2e2e2e" stroke-width="1.4"/>
<line x1="561.8" y1="1165.3" x2="566" y2="1165.3" stroke="#2e2e2e" stroke-width="1.4"/>
<line x1="275.8" y1="1118.2" x2="280" y2="1118.2" stroke="#2e2e2e" stroke-width="1.4"/>
<line x1="561.8" y1="1118.2" x2="566" y2="1118.2" stroke="#2e2e2e" stroke-width="1.4"/>
<line x1="275.8" y1="1071.1" x2="280" y2="1071.1" stroke="#2e2e2e" stroke-width="1.4"/>
<line x1="561.8" y1="1071.1" x2="566" y2="1071.1" stroke="#2e2e2e" stroke-width="1.4"/>
<line x1="275.8" y1="1024" x2="280" y2="1024" stroke="#2e2e2e" stroke-width="1.4"/>
<line x1="561.8" y1="1024" x2="566" y2="1024" stroke="#2e2e2e" stroke-width="1.4"/>
<line x1="277.8" y1="1235.95" x2="280" y2="1235.95" stroke="#2e2e2e" stroke-width="1.4"/>
<line x1="563.8" y1="1235.95" x2="566" y2="1235.95" stroke="#2e2e2e" stroke-width="1.4"/>
<line x1="277.8" y1="1188.85" x2="280" y2="1188.85" stroke="#2e2e2e" stroke-width="1.4"/>
<line x1="563.8" y1="1188.85" x2="566" y2="1188.85" stroke="#2e2e2e" stroke-width="1.4"/>
<line x1="277.8" y1="1141.75" x2="280" y2="1141.75" stroke="#2e2e2e" stroke-width="1.4"/>
<line x1="563.8" y1="1141.75" x2="566" y2="1141.75" stroke="#2e2e2e" stroke-width="1.4"/>
<line x1="277.8" y1="1094.65" x2="280" y2="1094.65" stroke="#2e2e2e" stroke-width="1.4"/>
<line x1="563.8" y1="1094.65" x2="566" y2="1094.65" stroke="#2e2e2e" stroke-width="1.4"/>
<line x1="277.8" y1="1047.55" x2="280" y2="1047.55" stroke="#2e2e2e" stroke-width="1.4"/>
<line x1="563.8" y1="1047.55" x2="566" y2="1047.55" stroke="#2e2e2e" stroke-width="1.4"/>
<rect x="280" y="1024" width="286" height="235.5" fill="none" stroke="#2e2e2e" stroke-width="1.4"/>
<text x="280" y="1276.8" font-size="13.3" font-weight="bold" text-anchor="middle" fill="#111" stroke="#111" stroke-width="0.3">0.0</text>
<text x="348.1" y="1276.8" font-size="13.3" font-weight="bold" text-anchor="middle" fill="#111" stroke="#111" stroke-width="0.3">0.5</text>
<text x="416.19" y="1276.8" font-size="13.3" font-weight="bold" text-anchor="middle" fill="#111" stroke="#111" stroke-width="0.3">1.0</text>
<text x="484.29" y="1276.8" font-size="13.3" font-weight="bold" text-anchor="middle" fill="#111" stroke="#111" stroke-width="0.3">1.5</text>
<text x="552.38" y="1276.8" font-size="13.3" font-weight="bold" text-anchor="middle" fill="#111" stroke="#111" stroke-width="0.3">2.0</text>
<text x="272.5" y="1263.89" font-size="13.3" font-weight="bold" text-anchor="end" fill="#111" stroke="#111" stroke-width="0.3">0</text>
<text x="272.5" y="1216.79" font-size="13.3" font-weight="bold" text-anchor="end" fill="#111" stroke="#111" stroke-width="0.3">20</text>
<text x="272.5" y="1169.69" font-size="13.3" font-weight="bold" text-anchor="end" fill="#111" stroke="#111" stroke-width="0.3">40</text>
<text x="272.5" y="1122.59" font-size="13.3" font-weight="bold" text-anchor="end" fill="#111" stroke="#111" stroke-width="0.3">60</text>
<text x="272.5" y="1075.49" font-size="13.3" font-weight="bold" text-anchor="end" fill="#111" stroke="#111" stroke-width="0.3">80</text>
<text x="272.5" y="1028.39" font-size="13.3" font-weight="bold" text-anchor="end" fill="#111" stroke="#111" stroke-width="0.3">100</text>
<line x1="284.4" y1="1037.8" x2="317.4" y2="1037.8" stroke="#111111" stroke-width="2"/>
<text x="324.5" y="1042.6" font-size="14.3" font-weight="bold" text-anchor="start" fill="#111" stroke="#111" stroke-width="0.3">ASP-Ag+UV</text>
<line x1="284.4" y1="1055.9" x2="317.4" y2="1055.9" stroke="#111111" stroke-width="2" stroke-dasharray="8 8"/>
<text x="324.5" y="1060.7" font-size="14.3" font-weight="bold" text-anchor="start" fill="#111" stroke="#111" stroke-width="0.3">ASP+UV</text>
<line x1="284.4" y1="1074" x2="317.4" y2="1074" stroke="#e0302e" stroke-width="2"/>
<text x="324.5" y="1078.8" font-size="14.3" font-weight="bold" text-anchor="start" fill="#111" stroke="#111" stroke-width="0.3">ASP-Ag+UV</text>
<line x1="284.4" y1="1092.1" x2="317.4" y2="1092.1" stroke="#e0302e" stroke-width="2" stroke-dasharray="8 8"/>
<text x="324.5" y="1096.9" font-size="14.3" font-weight="bold" text-anchor="start" fill="#111" stroke="#111" stroke-width="0.3">ASP+UV</text>
<line x1="284.4" y1="1110.2" x2="317.4" y2="1110.2" stroke="#2424b4" stroke-width="2"/>
<text x="324.5" y="1115" font-size="14.3" font-weight="bold" text-anchor="start" fill="#111" stroke="#111" stroke-width="0.3">ASP-Ag+UV</text>
<line x1="284.4" y1="1128.3" x2="317.4" y2="1128.3" stroke="#2424b4" stroke-width="2" stroke-dasharray="8 8"/>
<text x="324.5" y="1133.1" font-size="14.3" font-weight="bold" text-anchor="start" fill="#111" stroke="#111" stroke-width="0.3">ASP+UV</text>
<text x="423" y="1298.5" font-size="13.4" font-weight="bold" text-anchor="middle" fill="#111" stroke="#111" stroke-width="0.3">Time (h)</text>
<text x="0" y="0" font-size="13.4" font-weight="bold" text-anchor="middle" fill="#111" stroke="#111" stroke-width="0.3" transform="translate(248 1141.75) rotate(-90)">Degradation Rate (%)</text>
</g></svg></body></html>
